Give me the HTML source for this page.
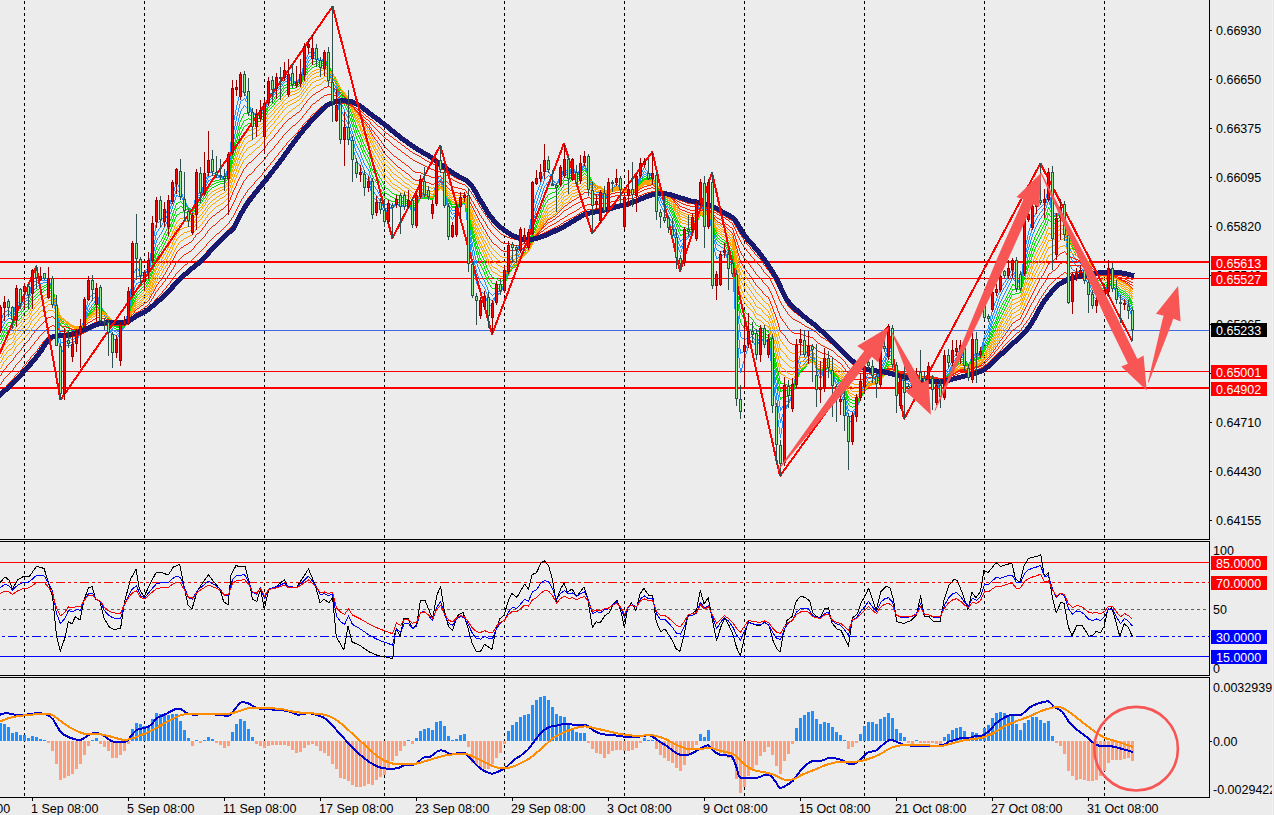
<!DOCTYPE html>
<html><head><meta charset="utf-8"><title>chart</title>
<style>html,body{margin:0;padding:0;background:#ececec;overflow:hidden}svg{display:block}</style></head>
<body><svg width="1274" height="815" viewBox="0 0 1274 815">
<rect width="1274" height="815" fill="#ececec"/>
<g shape-rendering="crispEdges">
<line x1="24.5" y1="0" x2="24.5" y2="797" stroke="#000" stroke-width="1" stroke-dasharray="3 3" stroke-dashoffset="5"/>
<line x1="144.5" y1="0" x2="144.5" y2="797" stroke="#000" stroke-width="1" stroke-dasharray="3 3" stroke-dashoffset="5"/>
<line x1="264.5" y1="0" x2="264.5" y2="797" stroke="#000" stroke-width="1" stroke-dasharray="3 3" stroke-dashoffset="5"/>
<line x1="384.5" y1="0" x2="384.5" y2="797" stroke="#000" stroke-width="1" stroke-dasharray="3 3" stroke-dashoffset="5"/>
<line x1="504.5" y1="0" x2="504.5" y2="797" stroke="#000" stroke-width="1" stroke-dasharray="3 3" stroke-dashoffset="5"/>
<line x1="624.5" y1="0" x2="624.5" y2="797" stroke="#000" stroke-width="1" stroke-dasharray="3 3" stroke-dashoffset="5"/>
<line x1="744.5" y1="0" x2="744.5" y2="797" stroke="#000" stroke-width="1" stroke-dasharray="3 3" stroke-dashoffset="5"/>
<line x1="864.5" y1="0" x2="864.5" y2="797" stroke="#000" stroke-width="1" stroke-dasharray="3 3" stroke-dashoffset="5"/>
<line x1="984.5" y1="0" x2="984.5" y2="797" stroke="#000" stroke-width="1" stroke-dasharray="3 3" stroke-dashoffset="5"/>
<line x1="1104.5" y1="0" x2="1104.5" y2="797" stroke="#000" stroke-width="1" stroke-dasharray="3 3" stroke-dashoffset="5"/>
</g>
<g shape-rendering="crispEdges">
<rect x="0" y="261" width="1209" height="2" fill="#ff0000"/>
<rect x="0" y="278" width="1209" height="1" fill="#ff0000"/>
<rect x="0" y="330" width="1209" height="1" fill="#4169e1"/>
<rect x="0" y="371" width="1209" height="1" fill="#ff0000"/>
<rect x="0" y="387" width="1209" height="2" fill="#ff0000"/>
</g>
<clipPath id="cm"><rect x="0" y="0" width="1209" height="539"/></clipPath>
<g clip-path="url(#cm)">
<g fill="none" stroke-width="1" shape-rendering="crispEdges" transform="translate(.5,0)">
<path d="M0,320v2m1,-4v2m1,-5v3m1,-5v2m1,-4v2m1,-2v1m1,-1v1m1,-2v1m1,-1v1m1,0v1m1,0v2m1,0v1m1,-1v2m1,-6v4m1,-7v3m1,-7v4m1,-6v2m1,-1v1m1,-1v1m1,0v1m1,-2v2m1,-4v2m1,-4v2m1,-4v2m1,-4v2m1,-2v1m1,0v1m1,-1v1m1,-2v2m1,-5v3m1,-7v4m1,-7v3m1,-5v2m1,-2v1m1,-2v1m1,-1v1m1,-2v1m1,-1v1m1,-2v1m1,-1v1m1,-2v1m1,-1v1m1,-1v1m1,-1v1m1,-1v1m1,-1v1m1,-1v1m1,-1v1m1,-1v2m1,0v3m1,0v4m1,0v3m1,0v5m1,0v7m1,0v7m1,0v7m1,0v8m1,0v9m1,0v10m1,0v9m1,0v5m1,-5v3m1,-5v2m1,-5v3m1,-5v2m1,-2v1m1,-1v1m1,-1v1m1,-1v1m1,-1v1m1,-1v1m1,-2v1m1,-1v1m1,-3v2m1,-3v1m1,-3v2m1,-3v1m1,-3v2m1,-3v1m1,-3v2m1,-4v2m1,-6v4m1,-8v4m1,-8v4m1,-9v5m1,-9v4m1,-9v5m1,-9v4m1,-7v3m1,-4v1m1,-2v1m1,-2v1m1,-2v1m1,-2v1m1,-1v1m1,-2v1m1,-2v2m1,0v4m1,0v4m1,0v4m1,0v3m1,0v2m1,0v2m1,0v2m1,0v3m1,0v2m1,0v2m1,0v2m1,0v3m1,0v4m1,0v3m1,0v4m1,0v2m1,-1v1m1,0v1m1,-1v1m1,-1v1m1,-3v2m1,-4v2m1,-4v2m1,-4v2m1,-3v1m1,-3v2m1,-3v1m1,-4v3m1,-7v4m1,-8v4m1,-8v4m1,-11v7m1,-15v8m1,-16v8m1,-16v8m1,-14v6m1,-8v2m1,-4v2m1,-4v2m1,-4v2m1,-1v1m1,0v2m1,0v1m1,0v1m1,-1v1m1,-1v1m1,-1v1m1,-1v1m1,-3v2m1,-3v1m1,-3v2m1,-5v3m1,-9v6m1,-11v5m1,-11v6m1,-11v5m1,-11v6m1,-11v5m1,-11v6m1,-9v3m1,-3v1m1,-1v1m1,-2v1m1,-1v1m1,-3v2m1,-3v1m1,-3v2m1,-3v1m1,-3v2m1,-4v2m1,-4v2m1,-4v2m1,-5v3m1,-7v4m1,-7v3m1,-6v3m1,-6v3m1,-7v4m1,-7v3m1,-5v2m1,-1v2m1,0v2m1,0v2m1,0v3m1,0v2m1,0v3m1,0v2m1,0v3m1,0v3m1,0v2m1,0v3m1,0v2m1,0v1m1,-1v1m1,0v1m1,-3v3m1,-8v5m1,-11v6m1,-11v5m1,-8v3m1,-3v1m1,0v1m1,-1v1m1,-2v2m1,-4v2m1,-5v3m1,-5v2m1,-5v3m1,-6v3m1,-5v2m1,-5v3m1,-5v2m1,-2v1m1,-1v1m1,-1v1m1,-1v1m1,0v1m1,-1v1m1,0v1m1,-1v1m1,-1v1m1,0v1m1,-1v1m1,-1v1m1,0v1m1,-1v1m1,0v1m1,-2v2m1,-5v3m1,-5v2m1,-5v3m1,-9v6m1,-16v10m1,-20v10m1,-20v10m1,-17v7m1,-12v5m1,-10v5m1,-10v5m1,-10v5m1,-9v4m1,-8v4m1,-8v4m1,-7v3m1,-2v1m1,-1v1m1,0v1m1,-1v2m1,0v2m1,0v3m1,0v2m1,0v3m1,0v3m1,0v3m1,0v3m1,0v2m1,-1v1m1,-1v1m1,-1v1m1,-1v1m1,-1v1m1,-2v1m1,-1v1m1,-2v1m1,-2v1m1,-2v1m1,-2v1m1,-3v2m1,-6v4m1,-7v3m1,-7v4m1,-6v2m1,-2v1m1,-2v1m1,-1v1m1,-2v1m1,-3v2m1,-4v2m1,-4v2m1,-3v1m1,-2v1m1,-1v1m1,-2v1m1,-2v1m1,-3v2m1,-3v1m1,-3v2m1,-3v1m1,-1v1m1,-1v1m1,-2v1m1,-1v1m1,0v1m1,0v2m1,0v1m1,0v1m1,-1v1m1,0v1m1,-1v1m1,-1v1m1,-2v1m1,-2v1m1,-2v1m1,-3v2m1,-6v4m1,-8v4m1,-8v4m1,-7v3m1,-5v2m1,-4v2m1,-4v2m1,-4v2m1,-3v1m1,-1v1m1,-2v1m1,-2v1m1,0v1m1,0v2m1,0v1m1,0v1m1,0v2m1,0v2m1,0v2m1,0v1m1,-2v1m1,-3v2m1,-3v1m1,-2v2m1,0v3m1,0v3m1,0v3m1,0v3m1,0v4m1,0v4m1,0v4m1,0v4m1,0v2m1,0v3m1,0v2m1,0v4m1,0v6m1,0v6m1,0v6m1,0v3m1,0v1m1,0v1m1,0v1m1,0v2m1,0v2m1,0v2m1,0v2m1,0v3m1,0v4m1,0v4m1,0v4m1,0v3m1,0v4m1,0v3m1,0v4m1,0v2m1,0v2m1,0v1m1,0v2m1,0v2m1,0v3m1,0v2m1,0v3m1,0v2m1,0v1m1,-1v1m1,0v1m1,-1v3m1,0v4m1,0v5m1,0v4m1,0v3m1,0v1m1,-1v1m1,0v1m1,-1v1m1,0v2m1,0v1m1,0v2m1,0v1m1,0v2m1,0v2m1,0v2m1,0v2m1,-2v1m1,-3v2m1,-3v1m1,-2v1m1,-1v1m1,-1v1m1,-1v1m1,-1v1m1,-2v1m1,-3v2m1,-3v1m1,-2v1m1,0v1m1,-1v1m1,0v1m1,-1v1m1,-1v1m1,0v1m1,-1v1m1,-1v1m1,-2v1m1,-1v1m1,-2v1m1,-2v2m1,0v3m1,0v2m1,0v3m1,0v2m1,-4v2m1,-4v2m1,-4v2m1,-5v3m1,-6v3m1,-7v4m1,-7v3m1,-5v2m1,-2v1m1,0v1m1,-1v1m1,-1v1m1,0v1m1,-1v1m1,0v1m1,-1v1m1,0v1m1,0v2m1,0v1m1,-2v3m1,-8v5m1,-10v5m1,-10v5m1,-8v3m1,-4v1m1,-3v2m1,-3v1m1,-2v2m1,0v4m1,0v4m1,0v4m1,0v4m1,0v6m1,0v6m1,0v6m1,0v3m1,0v2m1,0v1m1,0v2m1,0v1m1,-3v2m1,-4v2m1,-4v2m1,-3v1m1,-3v2m1,-4v2m1,-4v2m1,-3v1m1,-2v1m1,-3v2m1,-3v1m1,-2v4m1,0v8m1,0v8m1,0v8m1,0v8m1,0v8m1,0v8m1,0v8m1,0v7m1,0v4m1,0v5m1,0v4m1,0v4m1,0v2m1,0v2m1,0v2m1,0v2m1,0v1m1,-1v1m1,0v1m1,-1v2m1,0v3m1,0v3m1,0v3m1,0v2m1,-1v1m1,-1v1m1,-2v1m1,-2v2m1,-4v2m1,-5v3m1,-5v2m1,-4v2m1,-2v1m1,-2v1m1,-1v1m1,-3v2m1,-5v3m1,-5v2m1,-5v3m1,-7v4m1,-8v4m1,-9v5m1,-9v4m1,-7v3m1,-5v2m1,-4v2m1,-4v2m1,-3v1m1,-2v1m1,-1v1m1,-2v1m1,-3v2m1,-5v3m1,-6v3m1,-6v3m1,-5v2m1,-3v1m1,-1v1m1,-2v1m1,-2v1m1,-2v1m1,-1v1m1,-2v1m1,-5v4m1,-11v7m1,-13v6m1,-13v7m1,-12v5m1,-9v4m1,-8v4m1,-8v4m1,-7v3m1,-5v2m1,-5v3m1,-5v2m1,-5v3m1,-6v3m1,-6v3m1,-6v3m1,-5v2m1,-2v1m1,-1v1m1,-1v1m1,-1v1m1,0v2m1,0v2m1,0v2m1,0v2m1,0v1m1,0v1m1,0v1m1,0v1m1,-3v2m1,-4v2m1,-4v2m1,-4v2m1,-4v2m1,-4v2m1,-4v2m1,-4v2m1,-1v2m1,0v1m1,0v2m1,0v1m1,-3v2m1,-4v2m1,-4v2m1,-3v1m1,0v2m1,0v2m1,0v2m1,0v2m1,-2v1m1,-3v2m1,-3v1m1,-2v1m1,-3v2m1,-3v1m1,-3v2m1,-3v2m1,0v3m1,0v4m1,0v3m1,0v3m1,0v4m1,0v4m1,0v4m1,0v2m1,0v1m1,0v2m1,0v1m1,0v1m1,-1v1m1,-2v1m1,-1v1m1,-2v1m1,0v2m1,0v2m1,0v2m1,0v2m1,-4v2m1,-5v3m1,-5v2m1,-4v2m1,-3v1m1,-2v1m1,-2v1m1,-2v1m1,-2v1m1,-3v2m1,-3v1m1,-2v1m1,0v1m1,0v1m1,-1v1m1,0v1m1,0v2m1,0v1m1,0v2m1,0v1m1,-1v1m1,-2v1m1,-1v1m1,-2v1m1,0v1m1,0v1m1,-1v1m1,0v1m1,-3v2m1,-4v2m1,-4v2m1,-5v3m1,-6v3m1,-5v2m1,-5v3m1,-5v2m1,-4v2m1,-4v2m1,-4v2m1,-3v1m1,0v2m1,0v1m1,0v2m1,0v1m1,-1v1m1,-1v1m1,-1v1m1,-1v3m1,0v5m1,0v4m1,0v5m1,0v4m1,0v3m1,0v4m1,0v3m1,0v2m1,0v2m1,0v2m1,0v2m1,0v2m1,0v2m1,0v2m1,0v2m1,0v2m1,0v2m1,0v2m1,0v2m1,0v2m1,0v4m1,0v4m1,0v4m1,0v3m1,0v2m1,0v3m1,0v2m1,0v2m1,-5v3m1,-6v3m1,-6v3m1,-5v2m1,-3v1m1,-2v1m1,-2v1m1,-3v2m1,-4v2m1,-5v3m1,-5v2m1,-5v3m1,-6v3m1,-6v3m1,-6v3m1,-7v4m1,-8v4m1,-8v4m1,-8v4m1,-7v3m1,-1v4m1,0v4m1,0v4m1,0v2m1,-6v4m1,-8v4m1,-8v4m1,-7v6m1,0v11m1,0v12m1,0v11m1,0v7m1,0v4m1,0v4m1,0v4m1,0v3m1,-1v1m1,-2v1m1,-1v1m1,-2v1m1,-2v1m1,-1v1m1,-2v1m1,-2v1m1,0v2m1,0v2m1,0v2m1,0v2m1,0v2m1,0v1m1,0v2m1,0v9m1,0v16m1,0v17m1,0v16m1,0v13m1,0v10m1,0v10m1,0v10m1,0v5m1,-5v3m1,-7v4m1,-7v3m1,-6v3m1,-7v4m1,-7v3m1,-7v4m1,-6v2m1,-3v1m1,-3v2m1,-3v1m1,-2v1m1,0v2m1,0v2m1,0v2m1,-1v2m1,-4v2m1,-4v2m1,-4v2m1,-4v2m1,-1v1m1,0v1m1,-1v1m1,0v1m1,-1v1m1,-1v1m1,-2v1m1,-1v5m1,0v8m1,0v8m1,0v8m1,0v9m1,0v9m1,0v9m1,0v9m1,0v8m1,0v7m1,0v7m1,0v7m1,0v4m1,-10v6m1,-13v7m1,-13v6m1,-10v4m1,-6v2m1,-4v2m1,-4v2m1,-5v3m1,-5v2m1,-4v2m1,-4v2m1,-7v5m1,-11v6m1,-12v6m1,-12v6m1,-11v5m1,-9v4m1,-8v4m1,-8v4m1,-6v2m1,-2v1m1,-1v1m1,-1v1m1,-1v1m1,-2v1m1,-2v1m1,-2v1m1,-2v1m1,-1v1m1,-1v1m1,-1v1m1,-1v3m1,0v5m1,0v5m1,0v5m1,0v4m1,0v2m1,0v2m1,0v2m1,0v2m1,-4v2m1,-5v3m1,-5v2m1,-4v2m1,-2v1m1,-1v1m1,-2v1m1,-1v2m1,0v2m1,0v2m1,0v2m1,0v2m1,0v2m1,0v2m1,0v2m1,0v2m1,0v2m1,0v2m1,0v2m1,0v2m1,0v3m1,0v3m1,0v3m1,0v4m1,0v5m1,0v4m1,0v5m1,0v3m1,-2v1m1,-2v1m1,-2v1m1,-3v2m1,-5v3m1,-5v2m1,-5v3m1,-6v3m1,-7v4m1,-7v3m1,-7v4m1,-7v3m1,-7v4m1,-7v3m1,-7v4m1,-6v2m1,-4v2m1,-4v2m1,-4v2m1,-3v1m1,0v1m1,-1v1m1,0v1m1,-1v1m1,0v1m1,0v1m1,0v1m1,-1v2m1,-6v4m1,-8v4m1,-8v4m1,-6v2m1,-4v2m1,-4v2m1,-4v2m1,-4v2m1,-6v4m1,-8v4m1,-8v4m1,-6v2m1,0v3m1,0v2m1,0v3m1,0v4m1,0v6m1,0v5m1,0v6m1,0v3m1,-1v1m1,0v1m1,-1v1m1,-1v1m1,0v2m1,0v2m1,0v2m1,0v2m1,0v1m1,0v1m1,-1v1m1,0v1m1,-2v1m1,-2v1m1,-2v1m1,-2v1m1,-2v1m1,-2v1m1,-2v1m1,-2v1m1,-1v1m1,0v1m1,-1v1m1,-1v1m1,0v1m1,-1v1m1,0v1m1,-1v1m1,-3v2m1,-4v2m1,-4v2m1,-4v2m1,-1v2m1,0v2m1,0v2m1,0v2m1,0v1m1,-1v1m1,0v1m1,-1v1m1,0v2m1,0v1m1,0v2m1,-2v3m1,-7v4m1,-8v4m1,-8v4m1,-7v3m1,-4v1m1,-3v2m1,-3v1m1,-3v2m1,-4v2m1,-4v2m1,-4v2m1,-4v2m1,-4v2m1,-3v1m1,-3v2m1,-3v1m1,-2v1m1,-2v1m1,-2v1m1,-2v2m1,0v2m1,0v2m1,0v2m1,0v3m1,0v2m1,0v3m1,0v2m1,0v2m1,-6v4m1,-8v4m1,-8v4m1,-6v2m1,-2v1m1,0v1m1,-1v1m1,-1v1m1,-1v1m1,-2v1m1,-1v1m1,-4v3m1,-7v4m1,-8v4m1,-8v4m1,-7v3m1,-5v2m1,-4v2m1,-4v2m1,-6v4m1,-8v4m1,-9v5m1,-9v4m1,-8v4m1,-6v2m1,-5v3m1,-5v2m1,-5v3m1,-6v3m1,-5v2m1,-5v3m1,-5v2m1,-4v2m1,-3v1m1,-3v2m1,-3v1m1,-3v2m1,-4v2m1,-4v2m1,-3v1m1,-3v2m1,-4v2m1,-4v2m1,-4v2m1,0v3m1,0v2m1,0v3m1,0v2m1,0v1m1,0v2m1,0v1m1,-3v4m1,-12v8m1,-16v8m1,-16v8m1,-15v7m1,-12v5m1,-9v4m1,-9v5m1,-9v4m1,-7v3m1,-7v4m1,-7v3m1,-5v2m1,-4v2m1,-4v2m1,-4v2m1,-4v2m1,-3v1m1,-2v1m1,-2v1m1,-2v1m1,-2v1m1,-2v1m1,-2v1m1,-3v2m1,-6v4m1,-8v4m1,-8v4m1,-7v4m1,0v6m1,0v7m1,0v6m1,0v4m1,0v1m1,0v1m1,-1v1m1,0v1m1,-2v1m1,-3v2m1,-3v1m1,-2v2m1,0v3m1,0v3m1,0v3m1,0v6m1,0v10m1,0v10m1,0v10m1,0v6m1,0v2m1,0v1m1,0v2m1,0v1m1,0v1m1,-1v1m1,0v1m1,-1v1m1,-1v1m1,-1v1m1,-2v1m1,-1v1m1,0v2m1,0v1m1,0v2m1,0v2m1,0v2m1,0v2m1,0v2m1,0v3m1,0v3m1,0v2m1,0v3m1,0v2m1,0v1m1,-1v1m1,0v1m1,-1v1m1,-1v1m1,-2v1m1,-1v1m1,-2v1m1,-2v1m1,-1v1m1,-2v1m1,-3v2m1,-5v3m1,-6v3m1,-6v3m1,-5v2m1,-1v1m1,0v1m1,0v1m1,0v1m1,0v2m1,0v2m1,0v2m1,0v2m1,0v1m1,0v2m1,0v1m1,0v1m1,0v1m1,-1v1m1,0v1m1,-1v1m1,0v2m1,0v1m1,0v2m1,0v2m1,0v3m1,0v3m1,0v3m1,0v2" stroke="#1e90ff"/>
<path d="M0,325v2m1,-4v2m1,-4v2m1,-4v2m1,-4v2m1,-3v1m1,-2v1m1,-2v1m1,-2v1m1,0v1m1,0v1m1,-1v1m1,-1v2m1,-5v3m1,-5v2m1,-5v3m1,-5v2m1,-2v1m1,-1v1m1,-1v1m1,-1v1m1,-3v2m1,-4v2m1,-4v2m1,-3v1m1,-1v1m1,-1v1m1,-2v1m1,-2v2m1,-5v3m1,-5v2m1,-5v3m1,-5v2m1,-3v1m1,-1v1m1,-2v1m1,-2v1m1,-2v1m1,-1v1m1,-2v1m1,-2v1m1,-1v1m1,-1v1m1,-1v1m1,-1v1m1,-1v1m1,-1v1m1,-2v1m1,-1v2m1,0v2m1,0v3m1,0v2m1,0v4m1,0v6m1,0v5m1,0v6m1,0v6m1,0v8m1,0v8m1,0v8m1,0v5m1,-2v1m1,-1v1m1,-2v1m1,-2v1m1,-1v1m1,0v1m1,-1v1m1,-1v1m1,-1v1m1,0v1m1,-1v1m1,-1v1m1,-2v1m1,-1v1m1,-2v1m1,-2v1m1,-2v1m1,-3v2m1,-3v1m1,-3v2m1,-6v4m1,-7v3m1,-7v4m1,-7v3m1,-7v4m1,-8v4m1,-8v4m1,-6v2m1,-4v2m1,-3v1m1,-3v2m1,-3v1m1,-2v1m1,-2v1m1,-2v1m1,-2v2m1,0v2m1,0v3m1,0v2m1,0v2m1,0v2m1,0v2m1,0v2m1,0v1m1,0v2m1,0v2m1,0v2m1,0v3m1,0v3m1,0v4m1,0v3m1,0v2m1,0v1m1,-1v1m1,0v1m1,-1v1m1,-2v1m1,-2v1m1,-2v1m1,-2v1m1,-2v1m1,-2v1m1,-2v1m1,-3v2m1,-6v4m1,-7v3m1,-7v4m1,-9v5m1,-12v7m1,-13v6m1,-13v7m1,-12v5m1,-7v2m1,-5v3m1,-5v2m1,-4v2m1,-2v1m1,-1v1m1,-1v1m1,-1v1m1,-1v1m1,-2v1m1,-1v1m1,-2v1m1,-2v1m1,-3v2m1,-3v1m1,-4v3m1,-7v4m1,-9v5m1,-9v4m1,-9v5m1,-10v5m1,-9v4m1,-9v5m1,-8v3m1,-4v1m1,-3v2m1,-3v1m1,-2v1m1,-3v2m1,-4v2m1,-4v2m1,-3v1m1,-3v2m1,-4v2m1,-4v2m1,-4v2m1,-5v3m1,-6v3m1,-6v3m1,-6v3m1,-6v3m1,-6v3m1,-6v3m1,-5v2m1,-1v1m1,0v1m1,-1v1m1,0v1m1,0v2m1,0v2m1,0v2m1,0v2m1,0v2m1,0v2m1,0v2m1,0v2m1,0v1m1,-1v1m1,0v1m1,-2v2m1,-6v4m1,-8v4m1,-8v4m1,-6v2m1,-2v1m1,-1v1m1,-1v1m1,-2v2m1,-4v2m1,-4v2m1,-4v2m1,-5v3m1,-5v2m1,-5v3m1,-5v2m1,-4v2m1,-2v1m1,-1v1m1,-2v1m1,-1v1m1,-1v1m1,-1v1m1,-1v1m1,-1v1m1,-1v1m1,0v1m1,-1v1m1,-1v1m1,-1v1m1,0v1m1,-1v1m1,-2v2m1,-4v2m1,-4v2m1,-4v2m1,-7v5m1,-13v8m1,-16v8m1,-16v8m1,-14v6m1,-11v5m1,-9v4m1,-9v5m1,-10v5m1,-9v4m1,-8v4m1,-8v4m1,-7v3m1,-4v1m1,-1v1m1,-2v1m1,-2v1m1,0v2m1,0v1m1,0v2m1,0v1m1,0v2m1,0v2m1,0v2m1,0v2m1,-1v1m1,0v1m1,-1v1m1,-1v1m1,-1v1m1,-1v1m1,-2v1m1,-1v1m1,-2v1m1,-2v1m1,-2v1m1,-3v2m1,-4v2m1,-5v3m1,-5v2m1,-4v2m1,-3v1m1,-1v1m1,-2v1m1,-2v1m1,-3v2m1,-4v2m1,-4v2m1,-3v1m1,-2v1m1,-1v1m1,-2v1m1,-2v1m1,-3v2m1,-3v1m1,-3v2m1,-3v1m1,-1v1m1,-2v1m1,-1v1m1,-2v1m1,0v1m1,0v1m1,-1v1m1,0v1m1,-1v1m1,0v1m1,-1v1m1,-1v1m1,-2v1m1,-1v1m1,-2v1m1,-3v2m1,-5v3m1,-6v3m1,-6v3m1,-6v3m1,-5v2m1,-4v2m1,-4v2m1,-4v2m1,-3v1m1,-1v1m1,-2v1m1,-2v1m1,0v1m1,-1v1m1,0v1m1,-1v1m1,0v1m1,0v2m1,0v1m1,0v1m1,-2v1m1,-2v1m1,-2v1m1,-2v2m1,0v2m1,0v2m1,0v2m1,0v3m1,0v4m1,0v3m1,0v4m1,0v3m1,0v2m1,0v2m1,0v2m1,0v4m1,0v5m1,0v5m1,0v5m1,0v3m1,0v2m1,0v2m1,0v2m1,0v2m1,0v2m1,0v2m1,0v2m1,0v3m1,0v4m1,0v3m1,0v4m1,0v3m1,0v3m1,0v4m1,0v3m1,0v2m1,0v2m1,0v2m1,0v2m1,0v3m1,0v3m1,0v2m1,0v3m1,0v2m1,0v1m1,0v1m1,0v1m1,0v2m1,0v4m1,0v4m1,0v4m1,0v2m1,0v1m1,0v2m1,0v1m1,0v1m1,0v2m1,0v1m1,0v2m1,0v1m1,0v2m1,0v2m1,0v2m1,0v2m1,-1v1m1,-2v1m1,-1v1m1,-2v1m1,-1v1m1,-1v1m1,-1v1m1,-1v1m1,-2v1m1,-1v1m1,-2v1m1,-2v1m1,-1v1m1,0v1m1,-1v1m1,-1v1m1,-1v1m1,0v1m1,-1v1m1,-1v1m1,-1v1m1,-2v1m1,-1v1m1,-2v1m1,0v2m1,0v2m1,0v2m1,0v2m1,-3v2m1,-4v2m1,-4v2m1,-4v2m1,-4v2m1,-5v3m1,-5v2m1,-4v2m1,-2v1m1,-1v1m1,-1v1m1,-1v1m1,-1v1m1,0v1m1,-1v1m1,-1v1m1,0v1m1,0v1m1,-1v1m1,-1v2m1,-6v4m1,-8v4m1,-8v4m1,-6v2m1,-3v1m1,-3v2m1,-3v1m1,-2v2m1,0v2m1,0v3m1,0v2m1,0v4m1,0v4m1,0v5m1,0v4m1,0v3m1,0v2m1,0v2m1,0v2m1,0v1m1,-2v1m1,-1v1m1,-2v1m1,-2v1m1,-3v2m1,-3v1m1,-3v2m1,-3v1m1,-2v1m1,-1v1m1,-2v1m1,-2v3m1,0v6m1,0v6m1,0v6m1,0v7m1,0v7m1,0v6m1,0v7m1,0v6m1,0v4m1,0v5m1,0v4m1,0v4m1,0v3m1,0v2m1,0v3m1,0v2m1,0v1m1,0v2m1,0v1m1,0v2m1,0v3m1,0v2m1,0v3m1,0v2m1,0v1m1,-1v1m1,0v1m1,-1v1m1,-3v2m1,-3v1m1,-3v2m1,-3v1m1,-1v1m1,-1v1m1,-2v1m1,-2v2m1,-4v2m1,-4v2m1,-4v2m1,-5v3m1,-7v4m1,-8v4m1,-8v4m1,-6v2m1,-4v2m1,-4v2m1,-4v2m1,-4v2m1,-3v1m1,-2v1m1,-2v1m1,-3v2m1,-5v3m1,-5v2m1,-5v3m1,-5v2m1,-3v1m1,-2v1m1,-2v1m1,-2v1m1,-2v1m1,-2v1m1,-2v1m1,-4v3m1,-9v6m1,-11v5m1,-11v6m1,-10v4m1,-8v4m1,-7v3m1,-7v4m1,-7v3m1,-6v3m1,-6v3m1,-6v3m1,-6v3m1,-6v3m1,-5v2m1,-5v3m1,-5v2m1,-3v1m1,-2v1m1,-2v1m1,-2v1m1,0v1m1,0v2m1,0v1m1,0v1m1,0v1m1,0v1m1,-1v1m1,0v1m1,-3v2m1,-3v1m1,-3v2m1,-3v1m1,-3v2m1,-4v2m1,-4v2m1,-3v1m1,0v1m1,0v1m1,-1v1m1,0v1m1,-2v1m1,-3v2m1,-3v1m1,-2v1m1,0v2m1,0v1m1,0v2m1,0v1m1,-2v1m1,-2v1m1,-2v1m1,-2v1m1,-2v1m1,-3v2m1,-3v1m1,-2v2m1,0v2m1,0v2m1,0v2m1,0v3m1,0v3m1,0v3m1,0v3m1,0v2m1,0v2m1,0v1m1,0v2m1,0v1m1,-1v1m1,-1v1m1,-1v1m1,-1v1m1,0v2m1,0v2m1,0v2m1,0v1m1,-3v2m1,-3v1m1,-3v2m1,-3v1m1,-2v1m1,-2v1m1,-2v1m1,-2v1m1,-2v1m1,-2v1m1,-2v1m1,-2v1m1,0v1m1,-1v1m1,0v1m1,-1v1m1,0v1m1,0v1m1,0v1m1,0v1m1,-1v1m1,-1v1m1,-2v1m1,-1v1m1,0v1m1,-1v1m1,0v1m1,-1v1m1,-3v2m1,-3v1m1,-3v2m1,-4v2m1,-4v2m1,-4v2m1,-4v2m1,-4v2m1,-4v2m1,-3v1m1,-3v2m1,-3v1m1,0v1m1,0v1m1,-1v1m1,0v1m1,-1v1m1,-1v1m1,-1v1m1,-1v2m1,0v4m1,0v3m1,0v4m1,0v3m1,0v3m1,0v2m1,0v3m1,0v3m1,0v2m1,0v2m1,0v2m1,0v2m1,0v2m1,0v2m1,0v2m1,0v2m1,0v2m1,0v2m1,0v2m1,0v2m1,0v4m1,0v3m1,0v4m1,0v3m1,0v2m1,0v3m1,0v2m1,0v2m1,-3v2m1,-4v2m1,-4v2m1,-3v1m1,-2v1m1,-1v1m1,-2v1m1,-2v1m1,-3v2m1,-4v2m1,-4v2m1,-5v3m1,-5v2m1,-5v3m1,-5v2m1,-5v3m1,-7v4m1,-7v3m1,-7v4m1,-6v2m1,-1v2m1,0v2m1,0v2m1,0v2m1,-5v3m1,-6v3m1,-6v3m1,-5v5m1,0v8m1,0v8m1,0v8m1,0v6m1,0v4m1,0v4m1,0v4m1,0v2m1,0v1m1,-1v1m1,0v1m1,-1v1m1,-1v1m1,-1v1m1,-1v1m1,-1v1m1,0v2m1,0v2m1,0v2m1,0v1m1,0v2m1,0v1m1,0v2m1,0v7m1,0v13m1,0v13m1,0v13m1,0v11m1,0v9m1,0v10m1,0v9m1,0v5m1,-2v1m1,-1v1m1,-2v1m1,-2v1m1,-3v2m1,-4v2m1,-4v2m1,-3v1m1,-2v1m1,-1v1m1,-2v1m1,-2v1m1,0v2m1,0v1m1,0v2m1,0v1m1,-3v2m1,-4v2m1,-4v2m1,-3v1m1,0v1m1,-1v1m1,0v1m1,-1v1m1,-1v1m1,-1v1m1,-2v1m1,-1v4m1,0v6m1,0v6m1,0v6m1,0v7m1,0v8m1,0v8m1,0v8m1,0v7m1,0v6m1,0v7m1,0v6m1,0v4m1,-6v4m1,-7v3m1,-7v4m1,-6v2m1,-3v1m1,-3v2m1,-3v1m1,-2v1m1,-3v2m1,-4v2m1,-4v2m1,-5v3m1,-8v5m1,-10v5m1,-10v5m1,-9v4m1,-8v4m1,-7v3m1,-7v4m1,-6v2m1,-3v1m1,-1v1m1,-2v1m1,-2v1m1,-2v1m1,-3v2m1,-3v1m1,-2v1m1,-1v1m1,-1v1m1,-2v1m1,-1v2m1,0v4m1,0v3m1,0v4m1,0v2m1,0v2m1,0v2m1,0v2m1,0v2m1,-3v2m1,-3v1m1,-3v2m1,-3v1m1,-1v1m1,-1v1m1,-2v1m1,-1v1m1,0v2m1,0v2m1,0v2m1,0v1m1,0v2m1,0v2m1,0v2m1,0v1m1,0v2m1,0v1m1,0v2m1,0v2m1,0v3m1,0v2m1,0v3m1,0v4m1,0v4m1,0v4m1,0v4m1,0v3m1,-1v1m1,-1v1m1,-2v1m1,-1v1m1,-3v2m1,-4v2m1,-4v2m1,-4v2m1,-4v2m1,-5v3m1,-5v2m1,-5v3m1,-6v3m1,-7v4m1,-7v3m1,-5v2m1,-4v2m1,-4v2m1,-4v2m1,-3v1m1,-1v1m1,-1v1m1,-2v1m1,-1v1m1,0v1m1,0v1m1,-1v1m1,-1v2m1,-5v3m1,-6v3m1,-6v3m1,-5v2m1,-4v2m1,-4v2m1,-4v2m1,-4v2m1,-5v3m1,-7v4m1,-7v3m1,-5v2m1,-1v2m1,0v1m1,0v2m1,0v2m1,0v4m1,0v4m1,0v4m1,0v3m1,0v1m1,0v1m1,-1v1m1,0v1m1,0v2m1,0v2m1,0v2m1,0v2m1,0v1m1,0v1m1,-1v1m1,0v1m1,-1v1m1,-2v1m1,-1v1m1,-2v1m1,-2v1m1,-1v1m1,-2v1m1,-2v1m1,-1v1m1,0v1m1,-1v1m1,-1v1m1,-1v1m1,0v1m1,-1v1m1,-1v1m1,-3v2m1,-3v1m1,-3v2m1,-3v1m1,0v2m1,0v1m1,0v2m1,0v1m1,0v1m1,-1v1m1,0v1m1,-1v1m1,0v1m1,0v2m1,0v1m1,-1v2m1,-5v3m1,-7v4m1,-7v3m1,-5v2m1,-3v1m1,-2v1m1,-2v1m1,-2v1m1,-3v2m1,-4v2m1,-4v2m1,-4v2m1,-4v2m1,-3v1m1,-3v2m1,-3v1m1,-2v1m1,-3v2m1,-3v1m1,-2v1m1,0v2m1,0v1m1,0v2m1,0v1m1,0v2m1,0v2m1,0v2m1,0v2m1,-5v3m1,-5v2m1,-5v3m1,-5v2m1,-2v1m1,-1v1m1,-1v1m1,-1v1m1,-1v1m1,-2v1m1,-1v1m1,-3v2m1,-6v4m1,-7v3m1,-7v4m1,-6v2m1,-4v2m1,-4v2m1,-4v2m1,-4v2m1,-6v4m1,-8v4m1,-8v4m1,-8v4m1,-6v2m1,-5v3m1,-5v2m1,-5v3m1,-6v3m1,-6v3m1,-6v3m1,-5v2m1,-4v2m1,-4v2m1,-4v2m1,-3v1m1,-3v2m1,-4v2m1,-4v2m1,-3v1m1,-3v2m1,-4v2m1,-4v2m1,-4v2m1,-1v2m1,0v2m1,0v2m1,0v1m1,0v1m1,0v1m1,0v1m1,-3v4m1,-10v6m1,-12v6m1,-12v6m1,-12v6m1,-10v4m1,-8v4m1,-8v4m1,-8v4m1,-8v4m1,-7v3m1,-7v4m1,-7v3m1,-5v2m1,-4v2m1,-4v2m1,-4v2m1,-4v2m1,-3v1m1,-3v2m1,-3v1m1,-2v1m1,-3v2m1,-3v1m1,-3v2m1,-5v3m1,-7v4m1,-7v3m1,-5v3m1,0v4m1,0v4m1,0v4m1,0v3m1,0v1m1,0v1m1,-1v1m1,0v1m1,-2v1m1,-1v1m1,-2v1m1,-2v2m1,0v2m1,0v2m1,0v2m1,0v5m1,0v8m1,0v8m1,0v8m1,0v6m1,0v2m1,0v2m1,0v2m1,0v2m1,0v1m1,0v1m1,0v1m1,0v1m1,0v1m1,-1v1m1,0v1m1,-1v1m1,0v1m1,0v2m1,0v1m1,0v2m1,0v2m1,0v2m1,0v2m1,0v3m1,0v2m1,0v3m1,0v2m1,0v2m1,0v1m1,0v1m1,-1v1m1,0v1m1,-1v1m1,0v1m1,-1v1m1,-1v1m1,-1v1m1,-2v1m1,-1v1m1,-3v2m1,-4v2m1,-5v3m1,-5v2m1,-4v2m1,-1v1m1,-1v1m1,0v1m1,-1v1m1,0v2m1,0v1m1,0v2m1,0v1m1,0v1m1,0v2m1,0v1m1,0v1m1,0v1m1,0v1m1,-1v1m1,0v1m1,0v1m1,0v1m1,0v1m1,0v2m1,0v3m1,0v2m1,0v3m1,0v2" stroke="#1e90ff"/>
<path d="M0,330v2m1,-4v2m1,-4v2m1,-4v2m1,-4v2m1,-3v1m1,-2v1m1,-2v1m1,-2v1m1,-1v1m1,-1v1m1,-1v1m1,-2v2m1,-4v2m1,-4v2m1,-4v2m1,-4v2m1,-2v1m1,-2v1m1,-1v1m1,-2v1m1,-3v2m1,-3v1m1,-3v2m1,-3v1m1,-1v1m1,-2v1m1,-1v1m1,-3v2m1,-4v2m1,-4v2m1,-4v2m1,-4v2m1,-3v1m1,-1v1m1,-2v1m1,-2v1m1,-2v1m1,-2v1m1,-2v1m1,-2v1m1,-1v1m1,-1v1m1,-2v1m1,-1v1m1,-1v1m1,-1v1m1,-2v1m1,-1v1m1,0v2m1,0v2m1,0v2m1,0v3m1,0v4m1,0v5m1,0v4m1,0v6m1,0v7m1,0v6m1,0v7m1,0v4m1,-1v1m1,-1v1m1,-1v1m1,-1v1m1,0v1m1,0v1m1,0v1m1,0v1m1,0v1m1,-1v1m1,0v1m1,-1v1m1,-1v1m1,-2v1m1,-1v1m1,-2v1m1,-2v1m1,-2v1m1,-2v1m1,-3v2m1,-4v2m1,-5v3m1,-5v2m1,-5v3m1,-6v3m1,-7v4m1,-7v3m1,-5v2m1,-4v2m1,-3v1m1,-3v2m1,-3v1m1,-2v1m1,-3v2m1,-3v1m1,-2v1m1,0v2m1,0v2m1,0v2m1,0v1m1,0v1m1,0v2m1,0v1m1,0v1m1,0v2m1,0v2m1,0v2m1,0v2m1,0v3m1,0v2m1,0v3m1,0v2m1,0v1m1,0v1m1,-1v1m1,0v1m1,-2v1m1,-1v1m1,-2v1m1,-2v1m1,-1v1m1,-2v1m1,-1v1m1,-3v2m1,-5v3m1,-5v2m1,-5v3m1,-7v4m1,-10v6m1,-12v6m1,-12v6m1,-10v4m1,-6v2m1,-5v3m1,-5v2m1,-4v2m1,-2v1m1,-2v1m1,-1v1m1,-2v1m1,-2v1m1,-1v1m1,-2v1m1,-2v1m1,-3v2m1,-3v1m1,-3v2m1,-4v2m1,-6v4m1,-8v4m1,-8v4m1,-8v4m1,-8v4m1,-8v4m1,-8v4m1,-7v3m1,-5v2m1,-3v1m1,-3v2m1,-3v1m1,-3v2m1,-4v2m1,-4v2m1,-4v2m1,-4v2m1,-4v2m1,-4v2m1,-5v3m1,-6v3m1,-5v2m1,-5v3m1,-6v3m1,-6v3m1,-6v3m1,-6v3m1,-5v2m1,-2v1m1,0v1m1,-1v1m1,-1v1m1,0v1m1,0v2m1,0v1m1,0v1m1,0v2m1,0v1m1,0v2m1,0v1m1,0v1m1,-1v1m1,0v1m1,-2v2m1,-5v3m1,-5v2m1,-5v3m1,-5v2m1,-2v1m1,-2v1m1,-1v1m1,-2v1m1,-3v2m1,-4v2m1,-4v2m1,-4v2m1,-4v2m1,-4v2m1,-4v2m1,-4v2m1,-2v1m1,-2v1m1,-1v1m1,-2v1m1,-1v1m1,-1v1m1,-2v1m1,-1v1m1,-1v1m1,-1v1m1,-1v1m1,-1v1m1,-1v1m1,0v1m1,-1v1m1,-1v1m1,-3v2m1,-4v2m1,-4v2m1,-7v5m1,-11v6m1,-12v6m1,-12v6m1,-12v6m1,-10v4m1,-9v5m1,-9v4m1,-8v4m1,-8v4m1,-8v4m1,-8v4m1,-7v3m1,-5v2m1,-3v1m1,-3v2m1,-3v1m1,0v1m1,0v1m1,-1v1m1,0v1m1,0v1m1,0v2m1,0v1m1,0v1m1,-1v1m1,0v1m1,-1v1m1,-1v1m1,-1v1m1,-1v1m1,-2v1m1,-1v1m1,-2v1m1,-1v1m1,-2v1m1,-3v2m1,-4v2m1,-4v2m1,-4v2m1,-4v2m1,-3v1m1,-2v1m1,-2v1m1,-2v1m1,-3v2m1,-3v1m1,-3v2m1,-3v1m1,-2v1m1,-2v1m1,-2v1m1,-2v1m1,-2v1m1,-3v2m1,-3v1m1,-2v1m1,-2v1m1,-1v1m1,-2v1m1,-2v1m1,0v1m1,-1v1m1,0v1m1,-1v1m1,-1v1m1,0v1m1,-1v1m1,-1v1m1,-2v1m1,-1v1m1,-2v1m1,-3v2m1,-4v2m1,-5v3m1,-5v2m1,-4v2m1,-4v2m1,-4v2m1,-4v2m1,-4v2m1,-3v1m1,-2v1m1,-2v1m1,-2v1m1,-1v1m1,0v1m1,-1v1m1,-1v1m1,0v1m1,0v1m1,-1v1m1,0v1m1,-2v1m1,-1v1m1,-2v1m1,-2v1m1,0v2m1,0v2m1,0v2m1,0v2m1,0v3m1,0v2m1,0v3m1,0v3m1,0v2m1,0v2m1,0v2m1,0v4m1,0v4m1,0v4m1,0v4m1,0v3m1,0v2m1,0v2m1,0v2m1,0v3m1,0v2m1,0v2m1,0v2m1,0v3m1,0v3m1,0v4m1,0v3m1,0v3m1,0v3m1,0v4m1,0v3m1,0v2m1,0v2m1,0v2m1,0v2m1,0v3m1,0v3m1,0v2m1,0v3m1,0v2m1,0v1m1,0v2m1,0v1m1,0v2m1,0v4m1,0v3m1,0v4m1,0v2m1,0v2m1,0v1m1,0v2m1,0v1m1,0v2m1,0v2m1,0v2m1,0v1m1,0v2m1,0v2m1,0v2m1,0v2m1,-1v1m1,-1v1m1,-2v1m1,-1v1m1,0v1m1,-1v1m1,0v1m1,-1v1m1,-1v1m1,-2v1m1,-1v1m1,-2v1m1,-1v1m1,0v1m1,-1v1m1,-1v1m1,-1v1m1,0v1m1,-1v1m1,-1v1m1,-1v1m1,-1v1m1,-2v1m1,-1v1m1,0v2m1,0v1m1,0v2m1,0v1m1,-2v1m1,-3v2m1,-3v1m1,-2v1m1,-3v2m1,-4v2m1,-4v2m1,-4v2m1,-2v1m1,-1v1m1,-1v1m1,-1v1m1,-1v1m1,-1v1m1,-1v1m1,-1v1m1,0v1m1,-1v1m1,0v1m1,-2v2m1,-5v3m1,-6v3m1,-6v3m1,-5v2m1,-3v1m1,-3v2m1,-3v1m1,-2v1m1,0v2m1,0v2m1,0v2m1,0v2m1,0v4m1,0v4m1,0v4m1,0v2m1,0v2m1,0v1m1,0v2m1,0v1m1,-1v1m1,-1v1m1,-2v1m1,-1v1m1,-2v1m1,-2v1m1,-2v1m1,-2v1m1,-2v1m1,-1v1m1,-2v1m1,-2v3m1,0v5m1,0v4m1,0v5m1,0v5m1,0v6m1,0v6m1,0v6m1,0v5m1,0v4m1,0v5m1,0v4m1,0v4m1,0v3m1,0v2m1,0v3m1,0v2m1,0v2m1,0v2m1,0v2m1,0v2m1,0v3m1,0v2m1,0v3m1,0v2m1,0v1m1,0v1m1,0v1m1,0v1m1,-2v1m1,-2v1m1,-2v1m1,-2v1m1,-1v1m1,-1v1m1,-1v1m1,-1v1m1,-3v2m1,-3v1m1,-3v2m1,-4v2m1,-5v3m1,-6v3m1,-6v3m1,-5v2m1,-4v2m1,-4v2m1,-4v2m1,-4v2m1,-3v1m1,-3v2m1,-3v1m1,-3v2m1,-4v2m1,-4v2m1,-4v2m1,-4v2m1,-3v1m1,-3v2m1,-3v1m1,-2v1m1,-2v1m1,-2v1m1,-2v1m1,-4v3m1,-8v5m1,-9v4m1,-9v5m1,-9v4m1,-8v4m1,-7v3m1,-7v4m1,-7v3m1,-6v3m1,-5v2m1,-5v3m1,-6v3m1,-6v3m1,-6v3m1,-6v3m1,-5v2m1,-3v1m1,-3v2m1,-3v1m1,-2v1m1,0v1m1,-1v1m1,0v1m1,-1v1m1,-1v1m1,0v1m1,-1v1m1,-1v1m1,-2v1m1,-3v2m1,-3v1m1,-2v1m1,-3v2m1,-3v1m1,-3v2m1,-3v1m1,0v1m1,-1v1m1,0v1m1,-1v1m1,-2v1m1,-3v2m1,-3v1m1,-2v1m1,0v1m1,0v1m1,0v1m1,0v1m1,-2v1m1,-1v1m1,-2v1m1,-2v1m1,-2v1m1,-3v2m1,-3v1m1,-2v1m1,0v2m1,0v2m1,0v2m1,0v2m1,0v2m1,0v3m1,0v2m1,0v2m1,0v2m1,0v1m1,0v2m1,0v1m1,-1v1m1,0v1m1,-1v1m1,-1v1m1,0v2m1,0v1m1,0v2m1,0v1m1,-2v1m1,-2v1m1,-2v1m1,-2v1m1,-2v1m1,-1v1m1,-2v1m1,-2v1m1,-2v1m1,-1v1m1,-2v1m1,-2v1m1,-1v1m1,0v1m1,-1v1m1,-1v1m1,0v1m1,0v1m1,-1v1m1,0v1m1,-1v1m1,-1v1m1,-1v1m1,-1v1m1,-1v1m1,0v1m1,-1v1m1,-1v1m1,-2v1m1,-2v1m1,-2v1m1,-2v1m1,-3v2m1,-4v2m1,-4v2m1,-4v2m1,-3v1m1,-3v2m1,-3v1m1,-2v1m1,-1v1m1,0v1m1,-1v1m1,-1v1m1,-1v1m1,-1v1m1,-1v1m1,-1v2m1,0v3m1,0v2m1,0v3m1,0v3m1,0v2m1,0v3m1,0v2m1,0v2m1,0v2m1,0v2m1,0v2m1,0v1m1,0v2m1,0v2m1,0v2m1,0v2m1,0v2m1,0v2m1,0v2m1,0v3m1,0v3m1,0v3m1,0v3m1,0v3m1,0v2m1,0v3m1,0v2m1,0v2m1,-2v1m1,-2v1m1,-2v1m1,-2v1m1,-1v1m1,-1v1m1,-2v1m1,-1v1m1,-3v2m1,-3v1m1,-3v2m1,-3v1m1,-3v2m1,-4v2m1,-4v2m1,-5v3m1,-6v3m1,-7v4m1,-7v3m1,-5v2m1,-1v2m1,0v1m1,0v2m1,-1v2m1,-4v2m1,-5v3m1,-5v2m1,-4v4m1,0v6m1,0v6m1,0v6m1,0v5m1,0v3m1,0v4m1,0v3m1,0v2m1,0v1m1,0v1m1,-1v1m1,0v1m1,0v1m1,-1v1m1,0v1m1,-1v1m1,0v2m1,0v1m1,0v2m1,0v1m1,0v2m1,0v1m1,0v2m1,0v6m1,0v11m1,0v10m1,0v11m1,0v10m1,0v8m1,0v8m1,0v8m1,0v5m1,0v1m1,0v1m1,-1v1m1,0v1m1,-1v1m1,-2v1m1,-1v1m1,-2v1m1,-1v1m1,-1v1m1,-2v1m1,-1v1m1,0v2m1,0v1m1,0v2m1,0v1m1,-2v1m1,-3v2m1,-3v1m1,-2v1m1,0v1m1,0v1m1,-1v1m1,0v1m1,-1v1m1,-1v1m1,-2v1m1,-1v3m1,0v5m1,0v6m1,0v5m1,0v6m1,0v6m1,0v7m1,0v6m1,0v6m1,0v6m1,0v6m1,0v6m1,0v4m1,-3v2m1,-4v2m1,-4v2m1,-4v2m1,-2v1m1,-2v1m1,-1v1m1,-2v1m1,-2v1m1,-3v2m1,-3v1m1,-3v2m1,-6v4m1,-8v4m1,-8v4m1,-7v3m1,-6v3m1,-7v4m1,-7v3m1,-5v2m1,-3v1m1,-2v1m1,-2v1m1,-2v1m1,-2v1m1,-3v2m1,-3v1m1,-2v1m1,-1v1m1,-2v1m1,-1v1m1,-2v2m1,0v2m1,0v3m1,0v2m1,0v2m1,0v2m1,0v2m1,0v2m1,0v1m1,-2v1m1,-3v2m1,-3v1m1,-2v1m1,-1v1m1,-1v1m1,-1v1m1,-1v1m1,0v2m1,0v1m1,0v2m1,0v1m1,0v1m1,0v2m1,0v1m1,0v1m1,0v2m1,0v2m1,0v2m1,0v2m1,0v2m1,0v2m1,0v2m1,0v3m1,0v4m1,0v4m1,0v4m1,0v2m1,-1v1m1,0v1m1,-1v1m1,-1v1m1,-2v1m1,-2v1m1,-2v1m1,-2v1m1,-3v2m1,-4v2m1,-4v2m1,-5v3m1,-5v2m1,-5v3m1,-5v2m1,-4v2m1,-4v2m1,-4v2m1,-4v2m1,-3v1m1,-1v1m1,-2v1m1,-1v1m1,-2v1m1,-1v1m1,0v1m1,-1v1m1,-2v2m1,-4v2m1,-5v3m1,-5v2m1,-4v2m1,-4v2m1,-4v2m1,-4v2m1,-4v2m1,-5v3m1,-5v2m1,-5v3m1,-5v2m1,-1v1m1,0v1m1,0v1m1,0v2m1,0v3m1,0v3m1,0v3m1,0v2m1,0v1m1,-1v1m1,0v1m1,-1v1m1,0v2m1,0v2m1,0v2m1,0v1m1,0v1m1,0v1m1,-1v1m1,0v1m1,-1v1m1,-1v1m1,-1v1m1,-1v1m1,-1v1m1,-2v1m1,-1v1m1,-2v1m1,-1v1m1,-1v1m1,-1v1m1,-1v1m1,0v1m1,-1v1m1,0v1m1,-1v1m1,-2v1m1,-3v2m1,-3v1m1,-2v1m1,0v1m1,0v2m1,0v1m1,0v1m1,-1v1m1,0v1m1,-1v1m1,-1v1m1,0v1m1,0v2m1,0v1m1,-1v2m1,-4v2m1,-5v3m1,-5v2m1,-4v2m1,-3v1m1,-2v1m1,-2v1m1,-2v1m1,-3v2m1,-4v2m1,-4v2m1,-3v1m1,-3v2m1,-3v1m1,-3v2m1,-3v1m1,-2v1m1,-3v2m1,-3v1m1,-2v1m1,0v1m1,0v1m1,0v1m1,0v1m1,0v2m1,0v1m1,0v2m1,0v1m1,-3v2m1,-4v2m1,-4v2m1,-4v2m1,-2v1m1,-1v1m1,-2v1m1,-1v1m1,-1v1m1,-2v1m1,-1v1m1,-3v2m1,-5v3m1,-5v2m1,-5v3m1,-5v2m1,-4v2m1,-4v2m1,-4v2m1,-4v2m1,-6v4m1,-7v3m1,-7v4m1,-7v3m1,-5v2m1,-5v3m1,-5v2m1,-5v3m1,-6v3m1,-5v2m1,-5v3m1,-5v2m1,-4v2m1,-4v2m1,-4v2m1,-4v2m1,-4v2m1,-4v2m1,-4v2m1,-4v2m1,-4v2m1,-4v2m1,-4v2m1,-3v1m1,0v1m1,0v1m1,-1v1m1,0v1m1,0v1m1,-1v1m1,0v1m1,-3v3m1,-8v5m1,-10v5m1,-10v5m1,-9v4m1,-8v4m1,-8v4m1,-8v4m1,-7v3m1,-6v3m1,-7v4m1,-7v3m1,-6v3m1,-5v2m1,-5v3m1,-5v2m1,-4v2m1,-4v2m1,-4v2m1,-4v2m1,-3v1m1,-3v2m1,-3v1m1,-3v2m1,-4v2m1,-5v3m1,-6v3m1,-6v3m1,-5v2m1,0v3m1,0v3m1,0v3m1,0v2m1,0v1m1,-1v1m1,0v1m1,-1v1m1,-1v1m1,-2v1m1,-1v1m1,-2v1m1,0v2m1,0v2m1,0v2m1,0v4m1,0v6m1,0v7m1,0v6m1,0v5m1,0v2m1,0v2m1,0v2m1,0v2m1,0v2m1,0v1m1,0v2m1,0v1m1,0v1m1,0v1m1,-1v1m1,0v1m1,0v1m1,0v2m1,0v1m1,0v2m1,0v2m1,0v2m1,0v2m1,0v3m1,0v2m1,0v2m1,0v2m1,0v2m1,0v1m1,0v1m1,0v1m1,0v1m1,0v1m1,-1v1m1,0v1m1,-1v1m1,-1v1m1,-1v1m1,-2v1m1,-1v1m1,-3v2m1,-4v2m1,-4v2m1,-3v1m1,-1v1m1,0v1m1,-1v1m1,-1v1m1,0v1m1,0v2m1,0v1m1,0v1m1,0v1m1,0v1m1,0v1m1,0v1m1,0v1m1,0v1m1,-1v1m1,0v1m1,0v1m1,0v1m1,0v1m1,0v2m1,0v2m1,0v2m1,0v2m1,0v2" stroke="#1e90ff"/>
<path d="M0,335v2m1,-4v2m1,-4v2m1,-4v2m1,-4v2m1,-3v1m1,-3v2m1,-3v1m1,-2v1m1,-1v1m1,-1v1m1,-1v1m1,-2v2m1,-4v2m1,-4v2m1,-4v2m1,-4v2m1,-2v1m1,-2v1m1,-1v1m1,-2v1m1,-3v2m1,-3v1m1,-3v2m1,-3v1m1,-2v1m1,-1v1m1,-2v1m1,-2v1m1,-3v2m1,-4v2m1,-4v2m1,-4v2m1,-3v1m1,-2v1m1,-2v1m1,-2v1m1,-2v1m1,-1v1m1,-2v1m1,-2v1m1,-1v1m1,-2v1m1,-1v1m1,-2v1m1,-1v1m1,-2v1m1,-1v1m1,-2v1m1,0v1m1,0v2m1,0v1m1,0v2m1,0v4m1,0v4m1,0v4m1,0v4m1,0v6m1,0v5m1,0v6m1,0v3m1,0v1m1,0v1m1,-1v1m1,0v1m1,0v1m1,0v1m1,0v1m1,0v1m1,0v1m1,0v1m1,-1v1m1,0v1m1,-1v1m1,-1v1m1,-2v1m1,-1v1m1,-1v1m1,-2v1m1,-1v1m1,-2v1m1,-3v2m1,-4v2m1,-4v2m1,-5v3m1,-6v3m1,-5v2m1,-5v3m1,-5v2m1,-4v2m1,-3v1m1,-3v2m1,-3v1m1,-2v1m1,-3v2m1,-3v1m1,-2v1m1,0v1m1,0v2m1,0v1m1,0v1m1,0v1m1,0v1m1,0v1m1,0v1m1,0v2m1,0v1m1,0v2m1,0v2m1,0v2m1,0v2m1,0v2m1,0v2m1,0v1m1,0v1m1,-1v1m1,0v1m1,-1v1m1,-1v1m1,-2v1m1,-1v1m1,-1v1m1,-2v1m1,-1v1m1,-3v2m1,-4v2m1,-4v2m1,-4v2m1,-6v4m1,-8v4m1,-9v5m1,-9v4m1,-8v4m1,-6v2m1,-5v3m1,-5v2m1,-4v2m1,-3v1m1,-1v1m1,-2v1m1,-2v1m1,-2v1m1,-2v1m1,-2v1m1,-2v1m1,-2v1m1,-3v2m1,-3v1m1,-3v2m1,-6v4m1,-7v3m1,-7v4m1,-7v3m1,-7v4m1,-8v4m1,-8v4m1,-7v3m1,-5v2m1,-3v1m1,-3v2m1,-3v1m1,-3v2m1,-4v2m1,-4v2m1,-4v2m1,-4v2m1,-4v2m1,-4v2m1,-5v3m1,-6v3m1,-5v2m1,-5v3m1,-6v3m1,-6v3m1,-5v2m1,-5v3m1,-5v2m1,-2v1m1,-2v1m1,-1v1m1,-2v1m1,0v1m1,0v1m1,-1v1m1,0v1m1,0v1m1,0v1m1,0v1m1,0v1m1,0v1m1,-1v1m1,0v1m1,-2v2m1,-4v2m1,-5v3m1,-5v2m1,-4v2m1,-2v1m1,-2v1m1,-1v1m1,-2v1m1,-3v2m1,-3v1m1,-3v2m1,-3v1m1,-3v2m1,-4v2m1,-4v2m1,-4v2m1,-3v1m1,-1v1m1,-2v1m1,-2v1m1,-1v1m1,-1v1m1,-2v1m1,-1v1m1,-1v1m1,-1v1m1,-2v1m1,-1v1m1,-1v1m1,-1v1m1,-1v1m1,-1v1m1,-3v2m1,-3v1m1,-3v2m1,-5v3m1,-8v5m1,-11v6m1,-11v5m1,-10v5m1,-9v4m1,-8v4m1,-8v4m1,-8v4m1,-8v4m1,-8v4m1,-8v4m1,-6v2m1,-4v2m1,-4v2m1,-4v2m1,-3v1m1,-1v1m1,-1v1m1,-1v1m1,-1v1m1,0v1m1,0v1m1,0v1m1,0v1m1,-1v1m1,-1v1m1,-2v1m1,-1v1m1,-1v1m1,-2v1m1,-1v1m1,-2v1m1,-1v1m1,-2v1m1,-1v1m1,-2v1m1,-3v2m1,-4v2m1,-4v2m1,-4v2m1,-3v1m1,-2v1m1,-2v1m1,-2v1m1,-2v1m1,-3v2m1,-3v1m1,-2v1m1,-2v1m1,-2v1m1,-2v1m1,-2v1m1,-3v2m1,-3v1m1,-3v2m1,-3v1m1,-1v1m1,-2v1m1,-1v1m1,-2v1m1,-1v1m1,-1v1m1,-1v1m1,-1v1m1,-1v1m1,-1v1m1,-1v1m1,-1v1m1,-1v1m1,-2v1m1,-1v1m1,-3v2m1,-4v2m1,-4v2m1,-4v2m1,-4v2m1,-4v2m1,-4v2m1,-4v2m1,-3v1m1,-2v1m1,-2v1m1,-2v1m1,-2v1m1,-1v1m1,-1v1m1,-1v1m1,-1v1m1,-1v1m1,0v1m1,-1v1m1,-1v1m1,-1v1m1,-2v1m1,-1v1m1,-2v1m1,0v1m1,0v2m1,0v1m1,0v2m1,0v2m1,0v2m1,0v2m1,0v2m1,0v2m1,0v2m1,0v2m1,0v3m1,0v4m1,0v3m1,0v4m1,0v2m1,0v2m1,0v2m1,0v2m1,0v3m1,0v2m1,0v2m1,0v2m1,0v3m1,0v3m1,0v3m1,0v3m1,0v3m1,0v3m1,0v3m1,0v3m1,0v3m1,0v2m1,0v2m1,0v2m1,0v3m1,0v2m1,0v3m1,0v2m1,0v2m1,0v2m1,0v2m1,0v2m1,0v2m1,0v3m1,0v4m1,0v3m1,0v2m1,0v2m1,0v1m1,0v2m1,0v1m1,0v2m1,0v2m1,0v2m1,0v1m1,0v2m1,0v2m1,0v2m1,0v2m1,0v1m1,-1v1m1,0v1m1,-1v1m1,0v1m1,-1v1m1,0v1m1,-1v1m1,-1v1m1,-1v1m1,-1v1m1,-1v1m1,-1v1m1,0v1m1,-1v1m1,-1v1m1,-1v1m1,0v1m1,-1v1m1,-1v1m1,-1v1m1,-1v1m1,-1v1m1,-1v1m1,0v1m1,0v2m1,0v1m1,0v1m1,-2v1m1,-1v1m1,-2v1m1,-2v1m1,-3v2m1,-4v2m1,-4v2m1,-3v1m1,-1v1m1,-1v1m1,-1v1m1,-1v1m1,-1v1m1,-1v1m1,-2v1m1,-1v1m1,0v1m1,-1v1m1,0v1m1,-2v2m1,-4v2m1,-5v3m1,-5v2m1,-4v2m1,-3v1m1,-3v2m1,-3v1m1,-2v1m1,0v2m1,0v1m1,0v2m1,0v2m1,0v3m1,0v2m1,0v3m1,0v2m1,0v2m1,0v1m1,0v2m1,0v1m1,-1v1m1,-1v1m1,-1v1m1,-1v1m1,-2v1m1,-1v1m1,-2v1m1,-2v1m1,-1v1m1,-2v1m1,-1v1m1,-2v2m1,0v4m1,0v4m1,0v4m1,0v5m1,0v5m1,0v4m1,0v5m1,0v4m1,0v4m1,0v4m1,0v4m1,0v4m1,0v3m1,0v3m1,0v3m1,0v2m1,0v2m1,0v2m1,0v2m1,0v3m1,0v2m1,0v3m1,0v2m1,0v2m1,0v1m1,0v2m1,0v1m1,0v1m1,-1v1m1,-1v1m1,-2v1m1,-1v1m1,-1v1m1,0v1m1,-1v1m1,-1v1m1,-2v1m1,-2v1m1,-2v1m1,-3v2m1,-4v2m1,-5v3m1,-5v2m1,-4v2m1,-4v2m1,-3v1m1,-3v2m1,-3v1m1,-2v1m1,-3v2m1,-3v1m1,-2v1m1,-3v2m1,-4v2m1,-4v2m1,-4v2m1,-3v1m1,-3v2m1,-3v1m1,-2v1m1,-2v1m1,-3v2m1,-3v1m1,-3v2m1,-6v4m1,-8v4m1,-8v4m1,-8v4m1,-7v3m1,-6v3m1,-6v3m1,-6v3m1,-6v3m1,-6v3m1,-6v3m1,-6v3m1,-6v3m1,-5v2m1,-5v3m1,-5v2m1,-4v2m1,-3v1m1,-3v2m1,-3v1m1,-1v1m1,-1v1m1,-1v1m1,-1v1m1,-1v1m1,-1v1m1,-1v1m1,-1v1m1,-2v1m1,-3v2m1,-3v1m1,-2v1m1,-3v2m1,-3v1m1,-3v2m1,-3v1m1,-1v1m1,-1v1m1,-1v1m1,-1v1m1,-2v1m1,-2v1m1,-2v1m1,-2v1m1,0v1m1,-1v1m1,0v1m1,-1v1m1,-2v1m1,-1v1m1,-2v1m1,-2v1m1,-2v1m1,-2v1m1,-2v1m1,-2v1m1,0v2m1,0v1m1,0v2m1,0v1m1,0v2m1,0v2m1,0v2m1,0v2m1,0v1m1,0v1m1,0v1m1,0v1m1,0v1m1,-1v1m1,0v1m1,-1v1m1,0v2m1,0v1m1,0v2m1,0v1m1,-2v1m1,-1v1m1,-2v1m1,-2v1m1,-1v1m1,-2v1m1,-1v1m1,-2v1m1,-2v1m1,-1v1m1,-2v1m1,-2v1m1,-1v1m1,0v1m1,-1v1m1,-1v1m1,0v1m1,0v1m1,-1v1m1,0v1m1,-1v1m1,-1v1m1,-2v1m1,-1v1m1,0v1m1,-1v1m1,0v1m1,-1v1m1,-2v1m1,-2v1m1,-2v1m1,-2v1m1,-3v2m1,-3v1m1,-3v2m1,-3v1m1,-2v1m1,-3v2m1,-3v1m1,-2v1m1,-1v1m1,0v1m1,-1v1m1,-1v1m1,-1v1m1,-1v1m1,-2v1m1,-1v2m1,0v2m1,0v2m1,0v2m1,0v2m1,0v2m1,0v2m1,0v2m1,0v2m1,0v2m1,0v2m1,0v2m1,0v1m1,0v2m1,0v2m1,0v2m1,0v1m1,0v2m1,0v2m1,0v2m1,0v2m1,0v3m1,0v2m1,0v3m1,0v3m1,0v2m1,0v3m1,0v2m1,0v2m1,-1v1m1,-2v1m1,-1v1m1,-2v1m1,-1v1m1,-1v1m1,-1v1m1,-1v1m1,-2v1m1,-2v1m1,-2v1m1,-2v1m1,-3v2m1,-3v1m1,-3v2m1,-4v2m1,-5v3m1,-5v2m1,-5v3m1,-5v2m1,-1v1m1,0v1m1,0v1m1,0v1m1,-3v2m1,-4v2m1,-4v2m1,-4v3m1,0v5m1,0v4m1,0v5m1,0v4m1,0v3m1,0v3m1,0v3m1,0v2m1,0v1m1,0v1m1,0v1m1,0v1m1,-1v1m1,0v1m1,-1v1m1,-1v1m1,0v2m1,0v2m1,0v2m1,0v1m1,0v1m1,0v2m1,0v1m1,0v5m1,0v9m1,0v9m1,0v9m1,0v8m1,0v8m1,0v7m1,0v8m1,0v4m1,0v2m1,0v1m1,0v2m1,0v1m1,-1v1m1,-1v1m1,-1v1m1,-1v1m1,0v1m1,-1v1m1,0v1m1,-1v1m1,0v2m1,0v1m1,0v2m1,0v1m1,-1v1m1,-2v1m1,-1v1m1,-2v1m1,0v1m1,0v1m1,-1v1m1,0v1m1,-1v1m1,-1v1m1,-1v1m1,-1v3m1,0v4m1,0v4m1,0v4m1,0v5m1,0v6m1,0v6m1,0v6m1,0v5m1,0v6m1,0v5m1,0v6m1,0v3m1,-2v1m1,-2v1m1,-2v1m1,-2v1m1,-1v1m1,0v1m1,-1v1m1,-1v1m1,-2v1m1,-1v1m1,-2v1m1,-3v2m1,-5v3m1,-6v3m1,-6v3m1,-6v3m1,-6v3m1,-5v2m1,-5v3m1,-5v2m1,-3v1m1,-2v1m1,-2v1m1,-2v1m1,-2v1m1,-3v2m1,-3v1m1,-2v1m1,-2v1m1,-1v1m1,-2v1m1,-2v1m1,0v2m1,0v2m1,0v2m1,0v2m1,0v2m1,0v1m1,0v2m1,0v1m1,-2v1m1,-2v1m1,-2v1m1,-2v1m1,-1v1m1,-1v1m1,-1v1m1,-1v1m1,0v1m1,0v2m1,0v1m1,0v1m1,0v1m1,0v2m1,0v1m1,0v1m1,0v1m1,0v2m1,0v1m1,0v1m1,0v2m1,0v2m1,0v2m1,0v3m1,0v3m1,0v4m1,0v3m1,0v2m1,0v1m1,0v1m1,-1v1m1,0v1m1,-2v1m1,-1v1m1,-2v1m1,-2v1m1,-3v2m1,-3v1m1,-3v2m1,-3v1m1,-3v2m1,-4v2m1,-4v2m1,-4v2m1,-4v2m1,-3v1m1,-3v2m1,-3v1m1,-1v1m1,-2v1m1,-1v1m1,-2v1m1,-1v1m1,0v1m1,-1v1m1,-2v2m1,-4v2m1,-4v2m1,-4v2m1,-4v2m1,-4v2m1,-3v1m1,-3v2m1,-4v2m1,-4v2m1,-5v3m1,-5v2m1,-4v2m1,-2v1m1,0v1m1,-1v1m1,-1v2m1,0v2m1,0v3m1,0v2m1,0v2m1,0v1m1,-1v1m1,0v1m1,-1v1m1,0v1m1,0v2m1,0v1m1,0v1m1,0v1m1,0v1m1,-1v1m1,0v1m1,-1v1m1,0v1m1,-1v1m1,-1v1m1,-1v1m1,-2v1m1,-1v1m1,-2v1m1,-1v1m1,0v1m1,-1v1m1,-1v1m1,-1v1m1,0v1m1,-1v1m1,-1v1m1,-2v1m1,-1v1m1,-2v1m1,-2v1m1,0v1m1,0v1m1,-1v1m1,0v1m1,-1v1m1,0v1m1,-1v1m1,-1v1m1,0v1m1,0v1m1,0v1m1,0v1m1,-3v2m1,-4v2m1,-4v2m1,-3v1m1,-2v1m1,-2v1m1,-2v1m1,-2v1m1,-3v2m1,-3v1m1,-3v2m1,-3v1m1,-2v1m1,-3v2m1,-3v1m1,-2v1m1,-2v1m1,-3v2m1,-3v1m1,-2v1m1,0v1m1,-1v1m1,0v1m1,-1v1m1,0v1m1,0v2m1,0v1m1,0v1m1,-3v2m1,-4v2m1,-4v2m1,-3v1m1,-1v1m1,-1v1m1,-2v1m1,-1v1m1,-1v1m1,-1v1m1,-2v1m1,-2v2m1,-4v2m1,-5v3m1,-5v2m1,-4v2m1,-4v2m1,-4v2m1,-4v2m1,-4v2m1,-5v3m1,-6v3m1,-6v3m1,-6v3m1,-5v2m1,-4v2m1,-4v2m1,-5v3m1,-6v3m1,-5v2m1,-5v3m1,-5v2m1,-4v2m1,-4v2m1,-4v2m1,-3v1m1,-3v2m1,-4v2m1,-4v2m1,-4v2m1,-4v2m1,-4v2m1,-4v2m1,-4v2m1,-2v1m1,0v1m1,-1v1m1,-1v1m1,-1v1m1,0v1m1,-1v1m1,-3v3m1,-7v4m1,-8v4m1,-8v4m1,-8v4m1,-8v4m1,-7v3m1,-7v4m1,-7v3m1,-6v3m1,-6v3m1,-6v3m1,-6v3m1,-5v2m1,-5v3m1,-5v2m1,-4v2m1,-4v2m1,-4v2m1,-4v2m1,-4v2m1,-4v2m1,-3v1m1,-3v2m1,-4v2m1,-5v3m1,-6v3m1,-6v3m1,-5v2m1,-1v2m1,0v2m1,0v2m1,0v2m1,-1v1m1,0v1m1,-1v1m1,-1v1m1,-1v1m1,-2v1m1,-1v1m1,-2v1m1,0v1m1,0v2m1,0v1m1,0v3m1,0v5m1,0v6m1,0v5m1,0v3m1,0v2m1,0v2m1,0v2m1,0v2m1,0v2m1,0v2m1,0v2m1,0v1m1,0v1m1,0v1m1,-1v1m1,0v1m1,0v2m1,0v1m1,0v2m1,0v1m1,0v2m1,0v2m1,0v2m1,0v2m1,0v2m1,0v2m1,0v2m1,0v2m1,0v1m1,0v2m1,0v1m1,0v1m1,0v1m1,0v1m1,-1v1m1,0v1m1,-1v1m1,-1v1m1,-1v1m1,-1v1m1,-2v1m1,-3v2m1,-3v1m1,-2v1m1,0v1m1,-1v1m1,0v1m1,-1v1m1,0v1m1,0v1m1,0v1m1,0v1m1,0v1m1,0v1m1,-1v1m1,0v1m1,0v1m1,0v1m1,-1v1m1,0v1m1,0v1m1,0v1m1,0v1m1,0v1m1,0v2m1,0v2m1,0v2m1,0v2" stroke="#00e000"/>
<path d="M0,339v1m1,-3v2m1,-4v2m1,-4v2m1,-4v2m1,-3v1m1,-3v2m1,-3v1m1,-2v1m1,-1v1m1,-1v1m1,-2v1m1,-1v1m1,-3v2m1,-4v2m1,-4v2m1,-4v2m1,-3v1m1,-1v1m1,-2v1m1,-2v1m1,-3v2m1,-3v1m1,-3v2m1,-3v1m1,-2v1m1,-1v1m1,-2v1m1,-2v1m1,-3v2m1,-4v2m1,-4v2m1,-3v1m1,-2v1m1,-2v1m1,-2v1m1,-2v1m1,-2v1m1,-2v1m1,-2v1m1,-2v1m1,-2v1m1,-1v1m1,-2v1m1,-2v1m1,-1v1m1,-2v1m1,-1v1m1,-2v1m1,0v1m1,0v2m1,0v1m1,0v2m1,0v3m1,0v3m1,0v3m1,0v4m1,0v5m1,0v4m1,0v5m1,0v3m1,0v1m1,0v1m1,-1v1m1,0v1m1,0v1m1,0v1m1,0v1m1,0v1m1,0v1m1,0v1m1,0v1m1,0v1m1,-1v1m1,-1v1m1,-1v1m1,-1v1m1,-1v1m1,-1v1m1,-2v1m1,-1v1m1,-3v2m1,-4v2m1,-4v2m1,-4v2m1,-4v2m1,-5v3m1,-5v2m1,-4v2m1,-3v1m1,-3v2m1,-3v1m1,-2v1m1,-2v1m1,-2v1m1,-2v1m1,-2v1m1,0v1m1,0v1m1,-1v1m1,0v1m1,0v1m1,0v1m1,-1v1m1,0v1m1,0v1m1,0v2m1,0v1m1,0v1m1,0v2m1,0v2m1,0v2m1,0v2m1,0v1m1,0v1m1,-1v1m1,0v1m1,-1v1m1,-1v1m1,-1v1m1,-1v1m1,-1v1m1,-2v1m1,-1v1m1,-2v1m1,-3v2m1,-4v2m1,-4v2m1,-4v2m1,-6v4m1,-8v4m1,-8v4m1,-8v4m1,-6v2m1,-4v2m1,-4v2m1,-4v2m1,-3v1m1,-2v1m1,-2v1m1,-2v1m1,-2v1m1,-2v1m1,-2v1m1,-2v1m1,-2v1m1,-3v2m1,-3v1m1,-3v2m1,-5v3m1,-6v3m1,-6v3m1,-6v3m1,-7v4m1,-8v4m1,-8v4m1,-6v2m1,-4v2m1,-4v2m1,-4v2m1,-3v1m1,-3v2m1,-4v2m1,-4v2m1,-4v2m1,-4v2m1,-4v2m1,-4v2m1,-5v3m1,-5v2m1,-5v3m1,-5v2m1,-5v3m1,-6v3m1,-5v2m1,-5v3m1,-5v2m1,-3v1m1,-1v1m1,-2v1m1,-2v1m1,-1v1m1,0v1m1,-1v1m1,-1v1m1,0v1m1,0v1m1,-1v1m1,0v1m1,-1v1m1,0v1m1,-1v1m1,-1v1m1,-3v2m1,-4v2m1,-4v2m1,-4v2m1,-2v1m1,-2v1m1,-1v1m1,-2v1m1,-3v2m1,-3v1m1,-3v2m1,-3v1m1,-3v2m1,-4v2m1,-4v2m1,-4v2m1,-3v1m1,-1v1m1,-2v1m1,-2v1m1,-1v1m1,-2v1m1,-1v1m1,-2v1m1,-1v1m1,-1v1m1,-2v1m1,-1v1m1,-1v1m1,-1v1m1,-1v1m1,-1v1m1,-3v2m1,-3v1m1,-3v2m1,-5v3m1,-8v5m1,-9v4m1,-9v5m1,-9v4m1,-8v4m1,-8v4m1,-8v4m1,-7v3m1,-7v4m1,-7v3m1,-7v4m1,-6v2m1,-4v2m1,-4v2m1,-4v2m1,-3v1m1,-1v1m1,-2v1m1,-1v1m1,-2v1m1,0v1m1,-1v1m1,0v1m1,-1v1m1,-1v1m1,-1v1m1,-2v1m1,-1v1m1,-1v1m1,-2v1m1,-1v1m1,-2v1m1,-2v1m1,-1v1m1,-2v1m1,-2v1m1,-3v2m1,-4v2m1,-4v2m1,-3v1m1,-2v1m1,-2v1m1,-2v1m1,-2v1m1,-2v1m1,-3v2m1,-3v1m1,-2v1m1,-2v1m1,-2v1m1,-2v1m1,-2v1m1,-3v2m1,-3v1m1,-3v2m1,-3v1m1,-2v1m1,-1v1m1,-2v1m1,-2v1m1,-1v1m1,-1v1m1,-1v1m1,-1v1m1,-1v1m1,-1v1m1,-1v1m1,-1v1m1,-2v1m1,-1v1m1,-2v1m1,-2v1m1,-3v2m1,-4v2m1,-4v2m1,-3v1m1,-3v2m1,-4v2m1,-4v2m1,-3v1m1,-2v1m1,-2v1m1,-2v1m1,-2v1m1,-1v1m1,-1v1m1,-2v1m1,-1v1m1,-1v1m1,0v1m1,-1v1m1,-1v1m1,-2v1m1,-1v1m1,-2v1m1,-2v1m1,0v1m1,0v1m1,0v1m1,0v1m1,0v2m1,0v2m1,0v2m1,0v2m1,0v2m1,0v2m1,0v2m1,0v2m1,0v3m1,0v4m1,0v3m1,0v2m1,0v2m1,0v2m1,0v2m1,0v2m1,0v2m1,0v2m1,0v2m1,0v3m1,0v3m1,0v2m1,0v3m1,0v3m1,0v3m1,0v2m1,0v3m1,0v3m1,0v2m1,0v2m1,0v2m1,0v3m1,0v3m1,0v2m1,0v3m1,0v2m1,0v2m1,0v1m1,0v2m1,0v2m1,0v3m1,0v4m1,0v3m1,0v2m1,0v2m1,0v1m1,0v2m1,0v1m1,0v2m1,0v2m1,0v2m1,0v2m1,0v2m1,0v2m1,0v2m1,0v2m1,0v1m1,-1v1m1,0v1m1,-1v1m1,0v1m1,0v1m1,-1v1m1,0v1m1,-1v1m1,0v1m1,-1v1m1,-1v1m1,0v1m1,-1v1m1,0v1m1,-1v1m1,-1v1m1,0v1m1,-1v1m1,-1v1m1,-1v1m1,-1v1m1,-1v1m1,-1v1m1,0v1m1,0v2m1,0v1m1,0v1m1,-1v1m1,-2v1m1,-1v1m1,-2v1m1,-3v2m1,-3v1m1,-3v2m1,-3v1m1,-1v1m1,-1v1m1,-1v1m1,-1v1m1,-1v1m1,-1v1m1,-1v1m1,-1v1m1,-1v1m1,0v1m1,-1v1m1,-1v1m1,-3v2m1,-4v2m1,-4v2m1,-4v2m1,-3v1m1,-3v2m1,-3v1m1,-2v1m1,0v1m1,0v1m1,0v1m1,0v2m1,0v2m1,0v3m1,0v2m1,0v2m1,0v2m1,0v1m1,0v2m1,0v1m1,-1v1m1,-1v1m1,-1v1m1,-1v1m1,-1v1m1,-2v1m1,-1v1m1,-2v1m1,-1v1m1,-2v1m1,-1v1m1,-2v2m1,0v3m1,0v4m1,0v3m1,0v4m1,0v4m1,0v5m1,0v4m1,0v4m1,0v4m1,0v3m1,0v4m1,0v3m1,0v3m1,0v3m1,0v3m1,0v2m1,0v2m1,0v2m1,0v2m1,0v3m1,0v2m1,0v3m1,0v2m1,0v2m1,0v2m1,0v1m1,0v2m1,0v1m1,-1v1m1,-1v1m1,-1v1m1,-1v1m1,0v1m1,-1v1m1,0v1m1,-1v1m1,-2v1m1,-1v1m1,-2v1m1,-2v1m1,-3v2m1,-4v2m1,-4v2m1,-4v2m1,-4v2m1,-3v1m1,-3v2m1,-3v1m1,-2v1m1,-2v1m1,-2v1m1,-2v1m1,-3v2m1,-4v2m1,-4v2m1,-3v1m1,-2v1m1,-3v2m1,-3v1m1,-2v1m1,-2v1m1,-2v1m1,-2v1m1,-3v2m1,-6v4m1,-7v3m1,-7v4m1,-7v3m1,-6v3m1,-6v3m1,-6v3m1,-6v3m1,-6v3m1,-5v2m1,-5v3m1,-6v3m1,-6v3m1,-5v2m1,-5v3m1,-5v2m1,-4v2m1,-3v1m1,-3v2m1,-3v1m1,-1v1m1,-2v1m1,-1v1m1,-2v1m1,-1v1m1,-1v1m1,-2v1m1,-1v1m1,-2v1m1,-3v2m1,-3v1m1,-2v1m1,-3v2m1,-3v1m1,-3v2m1,-3v1m1,-1v1m1,-1v1m1,-1v1m1,-1v1m1,-2v1m1,-3v2m1,-3v1m1,-2v1m1,0v1m1,-1v1m1,0v1m1,-1v1m1,-2v1m1,-1v1m1,-2v1m1,-2v1m1,-2v1m1,-2v1m1,-2v1m1,-2v1m1,0v1m1,0v1m1,0v1m1,0v1m1,0v2m1,0v2m1,0v2m1,0v1m1,0v1m1,0v1m1,0v1m1,0v1m1,0v1m1,-1v1m1,0v1m1,-1v1m1,0v1m1,0v2m1,0v1m1,0v1m1,-1v1m1,-2v1m1,-1v1m1,-2v1m1,-1v1m1,-1v1m1,-2v1m1,-1v1m1,-2v1m1,-1v1m1,-2v1m1,-2v1m1,-1v1m1,0v1m1,-1v1m1,-1v1m1,0v1m1,-1v1m1,0v1m1,-1v1m1,-1v1m1,-1v1m1,-1v1m1,-1v1m1,-1v1m1,0v1m1,-1v1m1,-1v1m1,-2v1m1,-1v1m1,-2v1m1,-2v1m1,-2v1m1,-3v2m1,-3v1m1,-2v1m1,-2v1m1,-2v1m1,-2v1m1,-2v1m1,-1v1m1,-1v1m1,-1v1m1,-1v1m1,-1v1m1,-1v1m1,-2v1m1,-1v1m1,0v2m1,0v2m1,0v2m1,0v1m1,0v2m1,0v2m1,0v2m1,0v1m1,0v2m1,0v2m1,0v2m1,0v1m1,0v2m1,0v1m1,0v2m1,0v1m1,0v2m1,0v2m1,0v2m1,0v2m1,0v2m1,0v3m1,0v2m1,0v3m1,0v2m1,0v2m1,0v2m1,0v2m1,-1v1m1,-1v1m1,-1v1m1,-1v1m1,-1v1m1,-1v1m1,-1v1m1,-1v1m1,-1v1m1,-2v1m1,-1v1m1,-2v1m1,-3v2m1,-3v1m1,-3v2m1,-3v1m1,-3v2m1,-4v2m1,-4v2m1,-4v2m1,-1v1m1,0v1m1,-1v1m1,0v1m1,-3v2m1,-4v2m1,-4v2m1,-4v3m1,0v4m1,0v4m1,0v4m1,0v4m1,0v2m1,0v3m1,0v2m1,0v2m1,0v1m1,0v1m1,0v1m1,0v1m1,0v1m1,-1v1m1,0v1m1,-1v1m1,0v2m1,0v1m1,0v2m1,0v1m1,0v1m1,0v2m1,0v1m1,0v4m1,0v8m1,0v8m1,0v8m1,0v8m1,0v7m1,0v6m1,0v7m1,0v4m1,0v2m1,0v2m1,0v2m1,0v1m1,0v1m1,0v1m1,-1v1m1,0v1m1,0v1m1,0v1m1,-1v1m1,0v1m1,0v2m1,0v1m1,0v2m1,0v1m1,-1v1m1,-1v1m1,-2v1m1,-1v1m1,0v1m1,0v1m1,-1v1m1,0v1m1,0v1m1,-1v1m1,0v1m1,-1v2m1,0v4m1,0v4m1,0v4m1,0v4m1,0v5m1,0v5m1,0v5m1,0v5m1,0v5m1,0v6m1,0v5m1,0v3m1,-1v1m1,-2v1m1,-1v1m1,-2v1m1,0v1m1,-1v1m1,0v1m1,-1v1m1,-1v1m1,-2v1m1,-1v1m1,-3v2m1,-4v2m1,-4v2m1,-4v2m1,-5v3m1,-5v2m1,-4v2m1,-4v2m1,-4v2m1,-3v1m1,-1v1m1,-2v1m1,-2v1m1,-2v1m1,-3v2m1,-3v1m1,-2v1m1,-2v1m1,-1v1m1,-2v1m1,-2v1m1,0v2m1,0v2m1,0v2m1,0v1m1,0v1m1,0v1m1,0v1m1,0v1m1,-2v1m1,-1v1m1,-2v1m1,-2v1m1,-1v1m1,-1v1m1,-1v1m1,-1v1m1,0v1m1,0v1m1,0v1m1,0v1m1,0v1m1,0v1m1,0v1m1,0v1m1,0v1m1,0v2m1,0v1m1,0v1m1,0v2m1,0v2m1,0v2m1,0v3m1,0v3m1,0v2m1,0v3m1,0v2m1,0v1m1,0v1m1,-1v1m1,0v1m1,-1v1m1,-1v1m1,-2v1m1,-1v1m1,-2v1m1,-3v2m1,-3v1m1,-2v1m1,-3v2m1,-3v1m1,-3v2m1,-3v1m1,-3v2m1,-3v1m1,-3v2m1,-3v1m1,-1v1m1,-2v1m1,-1v1m1,-2v1m1,-1v1m1,-1v1m1,-1v1m1,-1v1m1,-3v2m1,-4v2m1,-4v2m1,-3v1m1,-3v2m1,-3v1m1,-3v2m1,-4v2m1,-4v2m1,-4v2m1,-4v2m1,-4v2m1,-2v1m1,0v1m1,-1v1m1,-1v1m1,0v2m1,0v2m1,0v2m1,0v1m1,0v1m1,-1v1m1,0v1m1,-1v1m1,0v1m1,0v2m1,0v1m1,0v1m1,0v1m1,0v1m1,-1v1m1,0v1m1,-1v1m1,-1v1m1,-1v1m1,-1v1m1,-1v1m1,-1v1m1,-2v1m1,-1v1m1,-1v1m1,-1v1m1,-1v1m1,-1v1m1,0v1m1,-1v1m1,0v1m1,-1v1m1,-2v1m1,-1v1m1,-2v1m1,-2v1m1,0v1m1,0v1m1,-1v1m1,0v1m1,-1v1m1,0v1m1,-1v1m1,-1v1m1,0v1m1,0v1m1,-1v1m1,0v1m1,-3v2m1,-3v1m1,-3v2m1,-3v1m1,-2v1m1,-1v1m1,-2v1m1,-2v1m1,-3v2m1,-3v1m1,-3v2m1,-3v1m1,-2v1m1,-2v1m1,-2v1m1,-2v1m1,-2v1m1,-3v2m1,-3v1m1,-2v1m1,0v1m1,-1v1m1,0v1m1,-1v1m1,0v1m1,0v1m1,-1v1m1,0v1m1,-2v1m1,-3v2m1,-3v1m1,-2v1m1,-1v1m1,-2v1m1,-1v1m1,-2v1m1,-1v1m1,-1v1m1,-2v1m1,-2v2m1,-4v2m1,-4v2m1,-4v2m1,-4v2m1,-4v2m1,-3v1m1,-3v2m1,-4v2m1,-5v3m1,-5v2m1,-5v3m1,-6v3m1,-5v2m1,-4v2m1,-4v2m1,-5v3m1,-5v2m1,-5v3m1,-5v2m1,-4v2m1,-4v2m1,-4v2m1,-4v2m1,-4v2m1,-4v2m1,-4v2m1,-4v2m1,-3v1m1,-3v2m1,-4v2m1,-4v2m1,-4v2m1,-2v1m1,-1v1m1,-1v1m1,-1v1m1,-1v1m1,-1v1m1,-1v1m1,-2v2m1,-6v4m1,-8v4m1,-8v4m1,-7v3m1,-6v3m1,-7v4m1,-7v3m1,-6v3m1,-6v3m1,-6v3m1,-6v3m1,-6v3m1,-5v2m1,-5v3m1,-5v2m1,-4v2m1,-4v2m1,-4v2m1,-4v2m1,-4v2m1,-4v2m1,-4v2m1,-4v2m1,-4v2m1,-5v3m1,-5v2m1,-5v3m1,-5v2m1,-1v2m1,0v1m1,0v2m1,0v1m1,-1v1m1,-1v1m1,-1v1m1,-1v1m1,-2v1m1,-1v1m1,-2v1m1,-2v1m1,0v1m1,0v1m1,0v1m1,0v3m1,0v4m1,0v5m1,0v4m1,0v3m1,0v2m1,0v2m1,0v2m1,0v2m1,0v2m1,0v1m1,0v2m1,0v1m1,0v1m1,0v1m1,-1v1m1,0v1m1,0v2m1,0v1m1,0v2m1,0v1m1,0v2m1,0v2m1,0v2m1,0v1m1,0v2m1,0v2m1,0v2m1,0v2m1,0v2m1,0v1m1,0v2m1,0v1m1,0v1m1,-1v1m1,0v1m1,-1v1m1,0v1m1,-1v1m1,0v1m1,-1v1m1,-2v1m1,-2v1m1,-2v1m1,-2v1m1,-1v1m1,0v1m1,-1v1m1,-1v1m1,0v1m1,0v1m1,0v1m1,0v1m1,0v1m1,0v1m1,0v1m1,0v1m1,0v1m1,-1v1m1,0v1m1,-1v1m1,0v1m1,0v1m1,0v1m1,0v1m1,0v2m1,0v2m1,0v2m1,0v1" stroke="#00e000"/>
<path d="M0,343v1m1,-3v2m1,-4v2m1,-4v2m1,-4v2m1,-3v1m1,-3v2m1,-3v1m1,-2v1m1,-1v1m1,-2v1m1,-1v1m1,-2v1m1,-3v2m1,-4v2m1,-4v2m1,-3v1m1,-2v1m1,-1v1m1,-2v1m1,-2v1m1,-3v2m1,-3v1m1,-3v2m1,-3v1m1,-2v1m1,-1v1m1,-2v1m1,-2v1m1,-3v2m1,-4v2m1,-4v2m1,-4v2m1,-3v1m1,-2v1m1,-2v1m1,-2v1m1,-2v1m1,-2v1m1,-2v1m1,-2v1m1,-2v1m1,-1v1m1,-2v1m1,-2v1m1,-1v1m1,-2v1m1,-1v1m1,-2v1m1,0v1m1,0v1m1,-1v1m1,0v2m1,0v2m1,0v3m1,0v2m1,0v4m1,0v4m1,0v5m1,0v4m1,0v3m1,0v1m1,0v1m1,-1v1m1,0v1m1,0v1m1,0v1m1,0v1m1,0v1m1,0v1m1,0v1m1,-1v1m1,0v1m1,-1v1m1,0v1m1,-1v1m1,-1v1m1,-1v1m1,-1v1m1,-2v1m1,-1v1m1,-3v2m1,-3v1m1,-3v2m1,-3v1m1,-3v2m1,-4v2m1,-4v2m1,-4v2m1,-3v1m1,-2v1m1,-2v1m1,-2v1m1,-2v1m1,-3v2m1,-3v1m1,-2v1m1,0v1m1,0v1m1,-1v1m1,0v1m1,0v1m1,0v1m1,-1v1m1,0v1m1,0v1m1,0v1m1,0v1m1,0v1m1,0v2m1,0v2m1,0v2m1,0v1m1,0v1m1,0v1m1,-1v1m1,0v1m1,-1v1m1,-1v1m1,-2v1m1,-1v1m1,-1v1m1,-1v1m1,-1v1m1,-1v1m1,-3v2m1,-4v2m1,-4v2m1,-4v2m1,-6v4m1,-7v3m1,-7v4m1,-6v2m1,-4v2m1,-4v2m1,-4v2m1,-4v2m1,-3v1m1,-2v1m1,-2v1m1,-2v1m1,-2v1m1,-2v1m1,-2v1m1,-2v1m1,-2v1m1,-3v2m1,-3v1m1,-3v2m1,-5v3m1,-5v2m1,-5v3m1,-6v3m1,-7v4m1,-7v3m1,-7v4m1,-6v2m1,-4v2m1,-4v2m1,-4v2m1,-3v1m1,-3v2m1,-4v2m1,-4v2m1,-4v2m1,-4v2m1,-4v2m1,-4v2m1,-5v3m1,-5v2m1,-5v3m1,-5v2m1,-5v3m1,-5v2m1,-5v3m1,-5v2m1,-4v2m1,-3v1m1,-1v1m1,-2v1m1,-2v1m1,-1v1m1,-1v1m1,-2v1m1,-1v1m1,0v1m1,-1v1m1,0v1m1,-1v1m1,-1v1m1,0v1m1,-1v1m1,-1v1m1,-3v2m1,-4v2m1,-4v2m1,-4v2m1,-3v1m1,-1v1m1,-2v1m1,-2v1m1,-2v1m1,-3v2m1,-3v1m1,-2v1m1,-3v2m1,-4v2m1,-4v2m1,-3v1m1,-2v1m1,-2v1m1,-2v1m1,-2v1m1,-1v1m1,-2v1m1,-1v1m1,-2v1m1,-1v1m1,-2v1m1,-1v1m1,-2v1m1,-1v1m1,-1v1m1,-1v1m1,-1v1m1,-3v2m1,-3v1m1,-3v2m1,-4v2m1,-6v4m1,-8v4m1,-8v4m1,-8v4m1,-8v4m1,-7v3m1,-7v4m1,-7v3m1,-7v4m1,-7v3m1,-7v4m1,-6v2m1,-4v2m1,-4v2m1,-4v2m1,-3v1m1,-2v1m1,-1v1m1,-2v1m1,-2v1m1,-1v1m1,0v1m1,-1v1m1,-1v1m1,-1v1m1,-2v1m1,-1v1m1,-2v1m1,-1v1m1,-2v1m1,-1v1m1,-2v1m1,-2v1m1,-1v1m1,-2v1m1,-2v1m1,-3v2m1,-4v2m1,-4v2m1,-3v1m1,-2v1m1,-2v1m1,-2v1m1,-2v1m1,-2v1m1,-3v2m1,-3v1m1,-2v1m1,-2v1m1,-2v1m1,-2v1m1,-2v1m1,-2v1m1,-3v2m1,-3v1m1,-2v1m1,-2v1m1,-2v1m1,-2v1m1,-2v1m1,-1v1m1,-1v1m1,-1v1m1,-1v1m1,-1v1m1,-1v1m1,-2v1m1,-1v1m1,-2v1m1,-1v1m1,-2v1m1,-2v1m1,-3v2m1,-4v2m1,-4v2m1,-3v1m1,-3v2m1,-3v1m1,-3v2m1,-3v1m1,-2v1m1,-2v1m1,-2v1m1,-2v1m1,-1v1m1,-2v1m1,-1v1m1,-2v1m1,-1v1m1,0v1m1,-1v1m1,-1v1m1,-2v1m1,-1v1m1,-2v1m1,-2v1m1,0v1m1,0v1m1,-1v1m1,0v1m1,0v2m1,0v2m1,0v2m1,0v1m1,0v2m1,0v1m1,0v2m1,0v2m1,0v3m1,0v2m1,0v3m1,0v2m1,0v2m1,0v2m1,0v2m1,0v1m1,0v2m1,0v2m1,0v2m1,0v3m1,0v2m1,0v3m1,0v2m1,0v3m1,0v3m1,0v2m1,0v3m1,0v3m1,0v2m1,0v2m1,0v2m1,0v3m1,0v2m1,0v3m1,0v2m1,0v2m1,0v2m1,0v2m1,0v2m1,0v2m1,0v3m1,0v2m1,0v3m1,0v2m1,0v2m1,0v2m1,0v2m1,0v2m1,0v2m1,0v2m1,0v2m1,0v1m1,0v2m1,0v2m1,0v2m1,0v2m1,0v1m1,0v1m1,-1v1m1,0v1m1,0v1m1,0v1m1,0v1m1,0v1m1,-1v1m1,0v1m1,-1v1m1,-1v1m1,0v1m1,-1v1m1,0v1m1,-1v1m1,0v1m1,-1v1m1,0v1m1,-1v1m1,-1v1m1,0v1m1,-1v1m1,-1v1m1,0v1m1,0v2m1,0v1m1,0v1m1,-1v1m1,-2v1m1,-1v1m1,-2v1m1,-2v1m1,-2v1m1,-2v1m1,-2v1m1,-1v1m1,-1v1m1,-2v1m1,-1v1m1,-1v1m1,-1v1m1,-1v1m1,-1v1m1,-1v1m1,0v1m1,-1v1m1,-1v1m1,-3v2m1,-4v2m1,-4v2m1,-3v1m1,-2v1m1,-2v1m1,-2v1m1,-2v1m1,0v1m1,0v1m1,0v1m1,0v1m1,0v2m1,0v2m1,0v2m1,0v2m1,0v1m1,0v2m1,0v1m1,0v1m1,-1v1m1,-1v1m1,-1v1m1,-1v1m1,-1v1m1,-1v1m1,-2v1m1,-1v1m1,-1v1m1,-1v1m1,-2v1m1,-1v2m1,0v3m1,0v2m1,0v3m1,0v3m1,0v4m1,0v4m1,0v4m1,0v4m1,0v3m1,0v4m1,0v3m1,0v3m1,0v3m1,0v2m1,0v3m1,0v2m1,0v2m1,0v2m1,0v2m1,0v3m1,0v2m1,0v3m1,0v2m1,0v2m1,0v2m1,0v1m1,0v2m1,0v1m1,-1v1m1,0v1m1,-1v1m1,-1v1m1,0v1m1,0v1m1,-1v1m1,0v1m1,-1v1m1,-2v1m1,-1v1m1,-2v1m1,-3v2m1,-3v1m1,-3v2m1,-3v1m1,-2v1m1,-3v2m1,-3v1m1,-2v1m1,-2v1m1,-1v1m1,-2v1m1,-2v1m1,-3v2m1,-4v2m1,-4v2m1,-3v1m1,-2v1m1,-2v1m1,-2v1m1,-2v1m1,-2v1m1,-2v1m1,-2v1m1,-3v2m1,-5v3m1,-7v4m1,-7v3m1,-6v3m1,-6v3m1,-5v2m1,-5v3m1,-6v3m1,-5v2m1,-5v3m1,-5v2m1,-5v3m1,-6v3m1,-5v2m1,-5v3m1,-5v2m1,-4v2m1,-3v1m1,-3v2m1,-3v1m1,-1v1m1,-2v1m1,-1v1m1,-2v1m1,-1v1m1,-2v1m1,-1v1m1,-2v1m1,-2v1m1,-3v2m1,-3v1m1,-2v1m1,-3v2m1,-3v1m1,-3v2m1,-3v1m1,-1v1m1,-1v1m1,-2v1m1,-1v1m1,-2v1m1,-3v2m1,-3v1m1,-2v1m1,-1v1m1,0v1m1,-1v1m1,-1v1m1,-2v1m1,-1v1m1,-2v1m1,-2v1m1,-2v1m1,-1v1m1,-2v1m1,-2v1m1,0v1m1,0v1m1,-1v1m1,0v1m1,0v1m1,0v2m1,0v1m1,0v1m1,0v1m1,0v1m1,0v1m1,0v1m1,-1v1m1,0v1m1,-1v1m1,-1v1m1,0v1m1,0v2m1,0v1m1,0v1m1,-1v1m1,-2v1m1,-1v1m1,-2v1m1,-1v1m1,-1v1m1,-2v1m1,-1v1m1,-1v1m1,-2v1m1,-1v1m1,-2v1m1,-1v1m1,0v1m1,-1v1m1,-1v1m1,0v1m1,-1v1m1,0v1m1,-1v1m1,-1v1m1,-1v1m1,-1v1m1,-1v1m1,-1v1m1,0v1m1,-1v1m1,-1v1m1,-2v1m1,-1v1m1,-2v1m1,-2v1m1,-2v1m1,-2v1m1,-2v1m1,-2v1m1,-2v1m1,-2v1m1,-2v1m1,-2v1m1,-1v1m1,-1v1m1,-1v1m1,-1v1m1,-1v1m1,-1v1m1,-2v1m1,-1v1m1,0v2m1,0v1m1,0v2m1,0v1m1,0v2m1,0v1m1,0v2m1,0v1m1,0v2m1,0v1m1,0v2m1,0v1m1,0v2m1,0v1m1,0v2m1,0v1m1,0v2m1,0v1m1,0v2m1,0v2m1,0v2m1,0v3m1,0v2m1,0v2m1,0v2m1,0v2m1,0v2m1,0v2m1,-1v1m1,0v1m1,-1v1m1,-1v1m1,-1v1m1,0v1m1,-1v1m1,-1v1m1,-1v1m1,-2v1m1,-1v1m1,-2v1m1,-2v1m1,-2v1m1,-2v1m1,-2v1m1,-3v2m1,-4v2m1,-4v2m1,-4v2m1,-1v1m1,0v1m1,-1v1m1,0v1m1,-3v2m1,-4v2m1,-4v2m1,-3v2m1,0v4m1,0v3m1,0v4m1,0v3m1,0v2m1,0v2m1,0v2m1,0v2m1,0v1m1,0v1m1,0v1m1,0v1m1,0v1m1,0v1m1,-1v1m1,0v1m1,0v1m1,0v2m1,0v1m1,0v1m1,0v2m1,0v1m1,0v2m1,0v4m1,0v7m1,0v6m1,0v7m1,0v7m1,0v6m1,0v6m1,0v6m1,0v4m1,0v2m1,0v2m1,0v2m1,0v2m1,0v1m1,0v1m1,0v1m1,0v1m1,0v1m1,0v1m1,0v1m1,0v1m1,0v2m1,0v1m1,0v2m1,0v1m1,-1v1m1,0v1m1,-1v1m1,-1v1m1,0v1m1,0v1m1,-1v1m1,0v1m1,0v1m1,-1v1m1,0v1m1,-1v2m1,0v4m1,0v3m1,0v4m1,0v4m1,0v5m1,0v4m1,0v5m1,0v5m1,0v5m1,0v4m1,0v5m1,0v3m1,-1v1m1,-1v1m1,-1v1m1,-1v1m1,0v1m1,-1v1m1,0v1m1,-1v1m1,-1v1m1,-1v1m1,-1v1m1,-1v1m1,-3v2m1,-4v2m1,-4v2m1,-3v1m1,-3v2m1,-4v2m1,-4v2m1,-4v2m1,-3v1m1,-1v1m1,-2v1m1,-2v1m1,-2v1m1,-2v1m1,-2v1m1,-2v1m1,-1v1m1,-2v1m1,-1v1m1,-2v1m1,0v1m1,0v2m1,0v1m1,0v1m1,0v1m1,0v1m1,0v1m1,0v1m1,-1v1m1,-2v1m1,-1v1m1,-2v1m1,-1v1m1,-1v1m1,-1v1m1,-1v1m1,0v1m1,0v1m1,-1v1m1,0v1m1,0v1m1,0v1m1,0v1m1,0v1m1,0v1m1,0v2m1,0v1m1,0v1m1,0v2m1,0v2m1,0v2m1,0v2m1,0v2m1,0v3m1,0v2m1,0v2m1,0v1m1,0v1m1,-1v1m1,0v1m1,-1v1m1,-1v1m1,-1v1m1,-1v1m1,-2v1m1,-2v1m1,-2v1m1,-2v1m1,-2v1m1,-3v2m1,-3v1m1,-2v1m1,-2v1m1,-3v2m1,-3v1m1,-2v1m1,-1v1m1,-2v1m1,-1v1m1,-2v1m1,-1v1m1,-1v1m1,-1v1m1,-1v1m1,-3v2m1,-3v1m1,-3v2m1,-3v1m1,-3v2m1,-3v1m1,-3v2m1,-3v1m1,-3v2m1,-4v2m1,-4v2m1,-4v2m1,-2v1m1,-1v1m1,-1v1m1,-1v1m1,0v2m1,0v1m1,0v2m1,0v1m1,-1v1m1,0v1m1,-1v1m1,-1v1m1,0v1m1,0v1m1,0v1m1,0v1m1,0v1m1,0v1m1,-1v1m1,0v1m1,-1v1m1,-1v1m1,-1v1m1,-1v1m1,-1v1m1,-1v1m1,-2v1m1,-1v1m1,-1v1m1,0v1m1,-1v1m1,-1v1m1,-1v1m1,0v1m1,-1v1m1,-1v1m1,-1v1m1,-2v1m1,-1v1m1,-2v1m1,0v1m1,-1v1m1,0v1m1,-1v1m1,-1v1m1,0v1m1,-1v1m1,-1v1m1,0v1m1,0v1m1,-1v1m1,0v1m1,-2v1m1,-3v2m1,-3v1m1,-2v1m1,-2v1m1,-1v1m1,-2v1m1,-2v1m1,-2v1m1,-2v1m1,-2v1m1,-2v1m1,-2v1m1,-3v2m1,-3v1m1,-2v1m1,-2v1m1,-2v1m1,-2v1m1,-2v1m1,-1v1m1,0v1m1,-1v1m1,-1v1m1,0v1m1,0v1m1,-1v1m1,0v1m1,-2v1m1,-3v2m1,-3v1m1,-2v1m1,-1v1m1,-2v1m1,-1v1m1,-2v1m1,-1v1m1,-1v1m1,-2v1m1,-1v1m1,-3v2m1,-4v2m1,-4v2m1,-4v2m1,-4v2m1,-3v1m1,-3v2m1,-4v2m1,-4v2m1,-4v2m1,-4v2m1,-5v3m1,-5v2m1,-4v2m1,-4v2m1,-5v3m1,-5v2m1,-4v2m1,-4v2m1,-4v2m1,-4v2m1,-4v2m1,-4v2m1,-4v2m1,-4v2m1,-4v2m1,-4v2m1,-4v2m1,-4v2m1,-4v2m1,-4v2m1,-3v1m1,-1v1m1,-1v1m1,-2v1m1,-1v1m1,-1v1m1,-1v1m1,-2v1m1,-2v2m1,-6v4m1,-7v3m1,-7v4m1,-7v3m1,-6v3m1,-6v3m1,-6v3m1,-6v3m1,-6v3m1,-5v2m1,-5v3m1,-6v3m1,-5v2m1,-5v3m1,-5v2m1,-4v2m1,-4v2m1,-4v2m1,-4v2m1,-4v2m1,-4v2m1,-4v2m1,-4v2m1,-4v2m1,-5v3m1,-5v2m1,-5v3m1,-5v2m1,-1v1m1,0v1m1,0v1m1,0v1m1,-1v1m1,-1v1m1,-2v1m1,-1v1m1,-2v1m1,-1v1m1,-2v1m1,-2v1m1,0v1m1,0v1m1,-1v1m1,0v2m1,0v4m1,0v4m1,0v4m1,0v2m1,0v2m1,0v2m1,0v2m1,0v1m1,0v1m1,0v2m1,0v1m1,0v1m1,0v1m1,0v1m1,0v1m1,0v1m1,0v1m1,0v2m1,0v1m1,0v1m1,0v2m1,0v2m1,0v2m1,0v1m1,0v2m1,0v2m1,0v2m1,0v2m1,0v1m1,0v2m1,0v1m1,0v1m1,0v1m1,0v1m1,-1v1m1,0v1m1,0v1m1,-1v1m1,0v1m1,-1v1m1,-2v1m1,-1v1m1,-2v1m1,-2v1m1,0v1m1,-1v1m1,0v1m1,-1v1m1,0v1m1,0v1m1,-1v1m1,0v1m1,0v1m1,0v1m1,0v1m1,0v1m1,0v1m1,-1v1m1,0v1m1,-1v1m1,0v1m1,0v1m1,0v1m1,0v1m1,0v2m1,0v2m1,0v2m1,0v1" stroke="#00e000"/>
<path d="M0,348v1m1,-3v2m1,-4v2m1,-4v2m1,-4v2m1,-3v1m1,-3v2m1,-3v1m1,-2v1m1,-1v1m1,-2v1m1,-1v1m1,-2v1m1,-3v2m1,-4v2m1,-4v2m1,-3v1m1,-2v1m1,-2v1m1,-2v1m1,-2v1m1,-3v2m1,-3v1m1,-3v2m1,-3v1m1,-2v1m1,-1v1m1,-2v1m1,-2v1m1,-3v2m1,-4v2m1,-4v2m1,-3v1m1,-2v1m1,-2v1m1,-2v1m1,-2v1m1,-2v1m1,-3v2m1,-3v1m1,-2v1m1,-1v1m1,-2v1m1,-1v1m1,-2v1m1,-2v1m1,-1v1m1,-2v1m1,-2v1m1,0v1m1,-1v1m1,0v1m1,-1v1m1,0v2m1,0v2m1,0v2m1,0v3m1,0v4m1,0v4m1,0v4m1,0v2m1,0v1m1,0v1m1,-1v1m1,0v1m1,0v1m1,0v1m1,0v1m1,0v1m1,0v1m1,0v1m1,-1v1m1,0v1m1,-1v1m1,0v1m1,-1v1m1,-1v1m1,-1v1m1,-1v1m1,-2v1m1,-1v1m1,-2v1m1,-2v1m1,-2v1m1,-2v1m1,-3v2m1,-4v2m1,-4v2m1,-3v1m1,-2v1m1,-2v1m1,-2v1m1,-2v1m1,-2v1m1,-2v1m1,-2v1m1,-2v1m1,0v1m1,-1v1m1,0v1m1,-1v1m1,0v1m1,-1v1m1,0v1m1,-1v1m1,0v1m1,0v1m1,0v1m1,0v1m1,0v2m1,0v1m1,0v2m1,0v1m1,0v1m1,-1v1m1,0v1m1,-1v1m1,-1v1m1,-1v1m1,-1v1m1,-1v1m1,-1v1m1,-1v1m1,-1v1m1,-1v1m1,-2v1m1,-3v2m1,-3v1m1,-3v2m1,-5v3m1,-7v4m1,-7v3m1,-5v2m1,-4v2m1,-4v2m1,-4v2m1,-3v1m1,-2v1m1,-2v1m1,-2v1m1,-2v1m1,-2v1m1,-2v1m1,-2v1m1,-2v1m1,-2v1m1,-3v2m1,-3v1m1,-3v2m1,-4v2m1,-5v3m1,-5v2m1,-5v3m1,-6v3m1,-6v3m1,-6v3m1,-5v2m1,-4v2m1,-4v2m1,-4v2m1,-3v1m1,-3v2m1,-4v2m1,-4v2m1,-4v2m1,-4v2m1,-4v2m1,-4v2m1,-5v3m1,-5v2m1,-4v2m1,-4v2m1,-5v3m1,-5v2m1,-5v3m1,-5v2m1,-4v2m1,-3v1m1,-2v1m1,-2v1m1,-2v1m1,-1v1m1,-1v1m1,-2v1m1,-1v1m1,-1v1m1,0v1m1,-1v1m1,-1v1m1,-1v1m1,-1v1m1,-2v1m1,-1v1m1,-3v2m1,-4v2m1,-4v2m1,-3v1m1,-2v1m1,-1v1m1,-2v1m1,-2v1m1,-2v1m1,-3v2m1,-3v1m1,-2v1m1,-3v2m1,-4v2m1,-4v2m1,-3v1m1,-2v1m1,-2v1m1,-2v1m1,-2v1m1,-1v1m1,-2v1m1,-1v1m1,-2v1m1,-1v1m1,-2v1m1,-1v1m1,-2v1m1,-1v1m1,-1v1m1,-2v1m1,-1v1m1,-2v1m1,-3v2m1,-3v1m1,-3v2m1,-6v4m1,-8v4m1,-8v4m1,-7v3m1,-6v3m1,-7v4m1,-7v3m1,-6v3m1,-6v3m1,-6v3m1,-6v3m1,-5v2m1,-4v2m1,-4v2m1,-4v2m1,-4v2m1,-3v1m1,-1v1m1,-2v1m1,-2v1m1,-1v1m1,-1v1m1,-2v1m1,-1v1m1,-1v1m1,-2v1m1,-1v1m1,-2v1m1,-2v1m1,-1v1m1,-2v1m1,-2v1m1,-2v1m1,-1v1m1,-2v1m1,-2v1m1,-3v2m1,-4v2m1,-4v2m1,-3v1m1,-2v1m1,-2v1m1,-2v1m1,-2v1m1,-2v1m1,-3v2m1,-3v1m1,-2v1m1,-2v1m1,-2v1m1,-2v1m1,-2v1m1,-2v1m1,-3v2m1,-3v1m1,-2v1m1,-2v1m1,-2v1m1,-2v1m1,-2v1m1,-1v1m1,-1v1m1,-2v1m1,-1v1m1,-1v1m1,-1v1m1,-2v1m1,-1v1m1,-2v1m1,-1v1m1,-2v1m1,-2v1m1,-3v2m1,-3v1m1,-3v2m1,-3v1m1,-3v2m1,-3v1m1,-3v2m1,-3v1m1,-2v1m1,-2v1m1,-2v1m1,-2v1m1,-1v1m1,-2v1m1,-1v1m1,-2v1m1,-1v1m1,-1v1m1,-1v1m1,-1v1m1,-2v1m1,-1v1m1,-2v1m1,-2v1m1,0v1m1,-1v1m1,0v1m1,-1v1m1,0v2m1,0v1m1,0v2m1,0v1m1,0v1m1,0v2m1,0v1m1,0v2m1,0v2m1,0v2m1,0v2m1,0v2m1,0v2m1,0v2m1,0v2m1,0v1m1,0v2m1,0v2m1,0v2m1,0v2m1,0v2m1,0v2m1,0v2m1,0v3m1,0v2m1,0v3m1,0v2m1,0v2m1,0v2m1,0v2m1,0v2m1,0v3m1,0v2m1,0v3m1,0v2m1,0v2m1,0v2m1,0v2m1,0v2m1,0v2m1,0v3m1,0v2m1,0v3m1,0v2m1,0v2m1,0v2m1,0v2m1,0v1m1,0v2m1,0v2m1,0v2m1,0v1m1,0v2m1,0v2m1,0v2m1,0v2m1,0v1m1,0v1m1,0v1m1,0v1m1,0v1m1,0v1m1,0v1m1,0v1m1,0v1m1,-1v1m1,0v1m1,-1v1m1,0v1m1,0v1m1,-1v1m1,0v1m1,0v1m1,-1v1m1,0v1m1,-1v1m1,-1v1m1,0v1m1,-1v1m1,-1v1m1,0v1m1,0v2m1,0v1m1,0v1m1,-1v1m1,-1v1m1,-2v1m1,-1v1m1,-2v1m1,-1v1m1,-2v1m1,-2v1m1,-1v1m1,-1v1m1,-1v1m1,-1v1m1,-1v1m1,-1v1m1,-1v1m1,-1v1m1,-1v1m1,0v1m1,-1v1m1,-1v1m1,-3v2m1,-3v1m1,-3v2m1,-3v1m1,-2v1m1,-1v1m1,-2v1m1,-2v1m1,0v1m1,0v1m1,-1v1m1,0v1m1,0v2m1,0v2m1,0v2m1,0v1m1,0v1m1,0v1m1,0v1m1,0v1m1,-1v1m1,0v1m1,-1v1m1,-1v1m1,-1v1m1,-1v1m1,-2v1m1,-1v1m1,-1v1m1,-1v1m1,-2v1m1,-1v2m1,0v2m1,0v3m1,0v2m1,0v3m1,0v4m1,0v3m1,0v4m1,0v3m1,0v3m1,0v3m1,0v3m1,0v3m1,0v2m1,0v3m1,0v2m1,0v2m1,0v2m1,0v2m1,0v2m1,0v3m1,0v2m1,0v2m1,0v2m1,0v2m1,0v2m1,0v2m1,0v2m1,0v1m1,0v1m1,-1v1m1,0v1m1,-1v1m1,0v1m1,0v1m1,-1v1m1,0v1m1,-1v1m1,-1v1m1,-2v1m1,-1v1m1,-2v1m1,-3v2m1,-3v1m1,-2v1m1,-2v1m1,-1v1m1,-2v1m1,-2v1m1,-2v1m1,-1v1m1,-2v1m1,-2v1m1,-3v2m1,-3v1m1,-3v2m1,-3v1m1,-2v1m1,-1v1m1,-2v1m1,-2v1m1,-2v1m1,-2v1m1,-2v1m1,-3v2m1,-5v3m1,-5v2m1,-5v3m1,-6v3m1,-5v2m1,-5v3m1,-5v2m1,-5v3m1,-5v2m1,-4v2m1,-4v2m1,-5v3m1,-5v2m1,-5v3m1,-5v2m1,-4v2m1,-4v2m1,-4v2m1,-4v2m1,-3v1m1,-1v1m1,-2v1m1,-1v1m1,-2v1m1,-2v1m1,-1v1m1,-2v1m1,-2v1m1,-2v1m1,-3v2m1,-3v1m1,-2v1m1,-2v1m1,-3v2m1,-3v1m1,-2v1m1,-1v1m1,-2v1m1,-1v1m1,-2v1m1,-2v1m1,-2v1m1,-2v1m1,-2v1m1,-1v1m1,-1v1m1,-1v1m1,-1v1m1,-2v1m1,-2v1m1,-2v1m1,-2v1m1,-2v1m1,-1v1m1,-2v1m1,-2v1m1,0v1m1,-1v1m1,0v1m1,-1v1m1,0v1m1,0v1m1,0v1m1,0v1m1,0v1m1,0v1m1,-1v1m1,0v1m1,-1v1m1,0v1m1,-1v1m1,-1v1m1,0v1m1,0v1m1,0v1m1,0v1m1,-1v1m1,-1v1m1,-2v1m1,-1v1m1,-1v1m1,-1v1m1,-2v1m1,-1v1m1,-1v1m1,-2v1m1,-1v1m1,-2v1m1,-1v1m1,0v1m1,-1v1m1,-1v1m1,0v1m1,-1v1m1,0v1m1,-1v1m1,-1v1m1,-1v1m1,-1v1m1,-1v1m1,-1v1m1,0v1m1,-1v1m1,-1v1m1,-1v1m1,-2v1m1,-1v1m1,-2v1m1,-2v1m1,-2v1m1,-2v1m1,-2v1m1,-2v1m1,-2v1m1,-2v1m1,-2v1m1,-1v1m1,-1v1m1,-1v1m1,-1v1m1,-1v1m1,-1v1m1,-2v1m1,-1v1m1,0v1m1,0v2m1,0v1m1,0v1m1,0v1m1,0v2m1,0v1m1,0v1m1,0v1m1,0v2m1,0v1m1,0v1m1,0v2m1,0v1m1,0v2m1,0v1m1,0v2m1,0v1m1,0v2m1,0v1m1,0v2m1,0v2m1,0v2m1,0v2m1,0v2m1,0v2m1,0v2m1,0v2m1,-1v1m1,0v1m1,-1v1m1,-1v1m1,-1v1m1,0v1m1,-1v1m1,-1v1m1,-1v1m1,-1v1m1,-2v1m1,-1v1m1,-2v1m1,-1v1m1,-2v1m1,-2v1m1,-3v2m1,-3v1m1,-3v2m1,-3v1m1,0v1m1,-1v1m1,0v1m1,-1v1m1,-2v1m1,-3v2m1,-3v1m1,-2v2m1,0v3m1,0v3m1,0v3m1,0v2m1,0v2m1,0v2m1,0v2m1,0v2m1,0v1m1,0v1m1,-1v1m1,0v1m1,0v1m1,0v1m1,-1v1m1,0v1m1,0v1m1,0v2m1,0v1m1,0v1m1,0v1m1,0v2m1,0v1m1,0v3m1,0v6m1,0v6m1,0v6m1,0v6m1,0v6m1,0v6m1,0v6m1,0v3m1,0v2m1,0v2m1,0v2m1,0v2m1,0v1m1,0v2m1,0v1m1,0v1m1,0v1m1,0v1m1,0v1m1,0v1m1,0v2m1,0v2m1,0v2m1,0v1m1,0v1m1,-1v1m1,0v1m1,-1v1m1,0v1m1,0v1m1,0v1m1,0v1m1,0v1m1,-1v1m1,0v1m1,-1v2m1,0v3m1,0v4m1,0v3m1,0v4m1,0v4m1,0v4m1,0v4m1,0v5m1,0v4m1,0v4m1,0v4m1,0v3m1,0v1m1,-1v1m1,0v1m1,-1v1m1,0v1m1,0v1m1,-1v1m1,0v1m1,-1v1m1,0v1m1,-1v1m1,-1v1m1,-2v1m1,-3v2m1,-3v1m1,-2v1m1,-3v2m1,-3v1m1,-3v2m1,-3v1m1,-1v1m1,-2v1m1,-1v1m1,-2v1m1,-2v1m1,-1v1m1,-2v1m1,-2v1m1,-1v1m1,-2v1m1,-1v1m1,-2v1m1,0v1m1,0v2m1,0v1m1,0v1m1,0v1m1,0v1m1,-1v1m1,0v1m1,-1v1m1,-2v1m1,-1v1m1,-2v1m1,-1v1m1,-1v1m1,-1v1m1,-1v1m1,0v1m1,0v1m1,-1v1m1,0v1m1,0v1m1,0v1m1,0v1m1,0v1m1,0v1m1,0v1m1,0v1m1,0v1m1,0v2m1,0v1m1,0v2m1,0v2m1,0v2m1,0v2m1,0v2m1,0v2m1,0v1m1,0v1m1,0v1m1,0v1m1,-1v1m1,-1v1m1,-1v1m1,-1v1m1,-2v1m1,-1v1m1,-2v1m1,-2v1m1,-2v1m1,-2v1m1,-2v1m1,-2v1m1,-2v1m1,-2v1m1,-2v1m1,-2v1m1,-1v1m1,-2v1m1,-1v1m1,-2v1m1,-1v1m1,-1v1m1,-1v1m1,-1v1m1,-2v1m1,-3v2m1,-3v1m1,-2v1m1,-2v1m1,-3v2m1,-3v1m1,-2v1m1,-3v2m1,-4v2m1,-4v2m1,-4v2m1,-2v1m1,-1v1m1,-1v1m1,-1v1m1,0v1m1,0v2m1,0v1m1,0v1m1,-1v1m1,0v1m1,-1v1m1,-1v1m1,0v1m1,0v1m1,-1v1m1,0v1m1,0v1m1,-1v1m1,0v1m1,-1v1m1,-1v1m1,0v1m1,-1v1m1,-1v1m1,-1v1m1,-1v1m1,-2v1m1,-1v1m1,-1v1m1,0v1m1,-1v1m1,-1v1m1,-1v1m1,0v1m1,-1v1m1,-1v1m1,-1v1m1,-2v1m1,-1v1m1,-2v1m1,0v1m1,-1v1m1,0v1m1,-1v1m1,-1v1m1,0v1m1,-1v1m1,-1v1m1,0v1m1,0v1m1,-1v1m1,0v1m1,-2v1m1,-3v2m1,-3v1m1,-2v1m1,-1v1m1,-2v1m1,-1v1m1,-2v1m1,-2v1m1,-2v1m1,-2v1m1,-2v1m1,-2v1m1,-2v1m1,-2v1m1,-2v1m1,-2v1m1,-2v1m1,-2v1m1,-2v1m1,-1v1m1,-1v1m1,-1v1m1,-1v1m1,0v1m1,0v1m1,-1v1m1,0v1m1,-2v1m1,-3v2m1,-3v1m1,-2v1m1,-1v1m1,-1v1m1,-2v1m1,-1v1m1,-1v1m1,-2v1m1,-1v1m1,-2v1m1,-3v2m1,-3v1m1,-3v2m1,-3v1m1,-3v2m1,-3v1m1,-3v2m1,-4v2m1,-4v2m1,-4v2m1,-4v2m1,-4v2m1,-4v2m1,-4v2m1,-4v2m1,-4v2m1,-4v2m1,-4v2m1,-4v2m1,-4v2m1,-4v2m1,-4v2m1,-4v2m1,-4v2m1,-4v2m1,-4v2m1,-4v2m1,-3v1m1,-3v2m1,-4v2m1,-4v2m1,-4v2m1,-2v1m1,-1v1m1,-2v1m1,-1v1m1,-1v1m1,-2v1m1,-1v1m1,-3v2m1,-5v3m1,-6v3m1,-6v3m1,-6v3m1,-6v3m1,-5v2m1,-5v3m1,-6v3m1,-6v3m1,-5v2m1,-5v3m1,-6v3m1,-5v2m1,-5v3m1,-5v2m1,-4v2m1,-4v2m1,-4v2m1,-4v2m1,-3v1m1,-3v2m1,-4v2m1,-4v2m1,-5v3m1,-5v2m1,-5v3m1,-5v2m1,-4v2m1,-1v1m1,-1v1m1,0v1m1,-1v1m1,-1v1m1,-2v1m1,-1v1m1,-2v1m1,-2v1m1,-1v1m1,-2v1m1,-2v1m1,0v1m1,-1v1m1,0v1m1,-1v2m1,0v3m1,0v3m1,0v3m1,0v2m1,0v2m1,0v1m1,0v2m1,0v1m1,0v1m1,0v1m1,0v1m1,0v1m1,0v1m1,0v1m1,0v1m1,0v1m1,0v1m1,0v1m1,0v1m1,0v1m1,0v2m1,0v2m1,0v2m1,0v1m1,0v2m1,0v2m1,0v2m1,0v1m1,0v1m1,0v1m1,0v1m1,0v1m1,0v1m1,0v1m1,0v1m1,0v1m1,0v1m1,-1v1m1,0v1m1,-1v1m1,-1v1m1,-2v1m1,-1v1m1,-2v1m1,0v1m1,-1v1m1,0v1m1,-1v1m1,0v1m1,0v1m1,-1v1m1,0v1m1,0v1m1,0v1m1,-1v1m1,0v1m1,0v1m1,0v1m1,-1v1m1,0v1m1,0v1m1,0v1m1,-1v1m1,0v1m1,0v2m1,0v1m1,0v2m1,0v1" stroke="#ffa500"/>
<path d="M0,352v1m1,-3v2m1,-4v2m1,-4v2m1,-3v1m1,-3v2m1,-3v1m1,-3v2m1,-3v1m1,-1v1m1,-2v1m1,-1v1m1,-2v1m1,-3v2m1,-4v2m1,-4v2m1,-3v1m1,-2v1m1,-2v1m1,-2v1m1,-2v1m1,-3v2m1,-3v1m1,-3v2m1,-3v1m1,-2v1m1,-1v1m1,-2v1m1,-2v1m1,-3v2m1,-4v2m1,-4v2m1,-3v1m1,-2v1m1,-3v2m1,-3v1m1,-2v1m1,-2v1m1,-2v1m1,-2v1m1,-2v1m1,-2v1m1,-1v1m1,-2v1m1,-2v1m1,-2v1m1,-1v1m1,-2v1m1,-2v1m1,0v1m1,-1v1m1,0v1m1,-1v1m1,0v2m1,0v2m1,0v2m1,0v2m1,0v3m1,0v3m1,0v3m1,0v2m1,0v1m1,0v1m1,-1v1m1,0v1m1,0v1m1,0v1m1,0v1m1,0v1m1,0v1m1,0v1m1,-1v1m1,0v1m1,-1v1m1,0v1m1,-1v1m1,-1v1m1,-1v1m1,-1v1m1,-2v1m1,-1v1m1,-2v1m1,-1v1m1,-2v1m1,-2v1m1,-3v2m1,-3v1m1,-3v2m1,-3v1m1,-2v1m1,-2v1m1,-2v1m1,-2v1m1,-2v1m1,-2v1m1,-2v1m1,-2v1m1,0v1m1,-1v1m1,0v1m1,-1v1m1,0v1m1,-1v1m1,0v1m1,-1v1m1,0v1m1,0v1m1,-1v1m1,0v1m1,0v1m1,0v2m1,0v1m1,0v1m1,0v1m1,0v1m1,-1v1m1,0v1m1,-1v1m1,-1v1m1,-1v1m1,-1v1m1,-1v1m1,-1v1m1,-2v1m1,-1v1m1,-2v1m1,-2v1m1,-2v1m1,-3v2m1,-5v3m1,-5v2m1,-5v3m1,-5v2m1,-4v2m1,-4v2m1,-4v2m1,-3v1m1,-2v1m1,-2v1m1,-2v1m1,-2v1m1,-2v1m1,-1v1m1,-2v1m1,-2v1m1,-2v1m1,-3v2m1,-3v1m1,-3v2m1,-4v2m1,-5v3m1,-5v2m1,-5v3m1,-6v3m1,-5v2m1,-5v3m1,-5v2m1,-4v2m1,-4v2m1,-4v2m1,-3v1m1,-3v2m1,-4v2m1,-4v2m1,-3v1m1,-3v2m1,-4v2m1,-4v2m1,-5v3m1,-5v2m1,-4v2m1,-4v2m1,-5v3m1,-5v2m1,-5v3m1,-5v2m1,-4v2m1,-3v1m1,-2v1m1,-2v1m1,-2v1m1,-1v1m1,-2v1m1,-1v1m1,-2v1m1,-1v1m1,-1v1m1,-1v1m1,-1v1m1,-1v1m1,-1v1m1,-2v1m1,-1v1m1,-3v2m1,-4v2m1,-4v2m1,-3v1m1,-2v1m1,-1v1m1,-2v1m1,-2v1m1,-2v1m1,-3v2m1,-3v1m1,-2v1m1,-3v2m1,-3v1m1,-3v2m1,-3v1m1,-2v1m1,-2v1m1,-2v1m1,-2v1m1,-2v1m1,-1v1m1,-2v1m1,-2v1m1,-1v1m1,-2v1m1,-1v1m1,-2v1m1,-1v1m1,-2v1m1,-1v1m1,-2v1m1,-2v1m1,-2v1m1,-2v1m1,-3v2m1,-6v4m1,-7v3m1,-7v4m1,-7v3m1,-6v3m1,-6v3m1,-6v3m1,-6v3m1,-6v3m1,-6v3m1,-6v3m1,-5v2m1,-4v2m1,-4v2m1,-4v2m1,-4v2m1,-3v1m1,-1v1m1,-2v1m1,-2v1m1,-1v1m1,-1v1m1,-2v1m1,-1v1m1,-2v1m1,-1v1m1,-2v1m1,-2v1m1,-2v1m1,-1v1m1,-2v1m1,-2v1m1,-2v1m1,-2v1m1,-2v1m1,-2v1m1,-3v2m1,-3v1m1,-3v2m1,-3v1m1,-2v1m1,-2v1m1,-2v1m1,-2v1m1,-2v1m1,-3v2m1,-3v1m1,-2v1m1,-2v1m1,-2v1m1,-2v1m1,-2v1m1,-2v1m1,-3v2m1,-3v1m1,-2v1m1,-2v1m1,-2v1m1,-2v1m1,-2v1m1,-1v1m1,-2v1m1,-1v1m1,-2v1m1,-1v1m1,-1v1m1,-2v1m1,-1v1m1,-2v1m1,-1v1m1,-2v1m1,-2v1m1,-3v2m1,-3v1m1,-3v2m1,-3v1m1,-3v2m1,-3v1m1,-3v2m1,-3v1m1,-2v1m1,-2v1m1,-2v1m1,-2v1m1,-1v1m1,-2v1m1,-1v1m1,-2v1m1,-1v1m1,-1v1m1,-2v1m1,-1v1m1,-2v1m1,-1v1m1,-2v1m1,-2v1m1,0v1m1,-1v1m1,0v1m1,-1v1m1,0v1m1,0v2m1,0v1m1,0v1m1,0v1m1,0v1m1,0v1m1,0v2m1,0v2m1,0v2m1,0v2m1,0v2m1,0v1m1,0v2m1,0v1m1,0v1m1,0v2m1,0v2m1,0v2m1,0v2m1,0v2m1,0v2m1,0v2m1,0v3m1,0v2m1,0v2m1,0v2m1,0v2m1,0v2m1,0v2m1,0v2m1,0v3m1,0v2m1,0v2m1,0v2m1,0v2m1,0v2m1,0v1m1,0v2m1,0v2m1,0v3m1,0v2m1,0v3m1,0v2m1,0v2m1,0v2m1,0v2m1,0v1m1,0v2m1,0v2m1,0v2m1,0v1m1,0v2m1,0v2m1,0v2m1,0v2m1,0v1m1,0v1m1,0v1m1,0v1m1,0v1m1,0v2m1,0v1m1,0v1m1,0v1m1,-1v1m1,0v1m1,-1v1m1,0v1m1,0v1m1,-1v1m1,0v1m1,0v1m1,0v1m1,-1v1m1,0v1m1,-1v1m1,0v1m1,-1v1m1,-1v1m1,0v1m1,0v2m1,0v1m1,0v1m1,-1v1m1,-1v1m1,-1v1m1,-1v1m1,-2v1m1,-1v1m1,-2v1m1,-2v1m1,-1v1m1,-1v1m1,-1v1m1,-1v1m1,-1v1m1,0v1m1,-1v1m1,-1v1m1,-1v1m1,0v1m1,-1v1m1,-1v1m1,-2v1m1,-3v2m1,-3v1m1,-2v1m1,-2v1m1,-1v1m1,-2v1m1,-2v1m1,0v1m1,-1v1m1,0v1m1,-1v1m1,0v2m1,0v2m1,0v2m1,0v1m1,0v1m1,0v1m1,0v1m1,0v1m1,-1v1m1,0v1m1,-1v1m1,-1v1m1,-1v1m1,-1v1m1,-2v1m1,-1v1m1,-1v1m1,-1v1m1,-2v1m1,-1v2m1,0v2m1,0v2m1,0v2m1,0v3m1,0v3m1,0v4m1,0v3m1,0v3m1,0v3m1,0v2m1,0v3m1,0v3m1,0v2m1,0v3m1,0v2m1,0v2m1,0v2m1,0v2m1,0v2m1,0v2m1,0v2m1,0v3m1,0v2m1,0v2m1,0v2m1,0v1m1,0v2m1,0v1m1,0v1m1,-1v1m1,0v1m1,-1v1m1,0v1m1,0v1m1,0v1m1,0v1m1,-1v1m1,-1v1m1,-2v1m1,-1v1m1,-2v1m1,-1v1m1,-2v1m1,-2v1m1,-2v1m1,-1v1m1,-2v1m1,-2v1m1,-1v1m1,-2v1m1,-1v1m1,-2v1m1,-2v1m1,-3v2m1,-3v1m1,-2v1m1,-2v1m1,-1v1m1,-2v1m1,-2v1m1,-2v1m1,-2v1m1,-2v1m1,-3v2m1,-4v2m1,-5v3m1,-5v2m1,-5v3m1,-5v2m1,-4v2m1,-4v2m1,-4v2m1,-4v2m1,-4v2m1,-4v2m1,-5v3m1,-5v2m1,-4v2m1,-4v2m1,-4v2m1,-4v2m1,-4v2m1,-4v2m1,-3v1m1,-2v1m1,-1v1m1,-2v1m1,-2v1m1,-1v1m1,-2v1m1,-1v1m1,-2v1m1,-2v1m1,-3v2m1,-3v1m1,-2v1m1,-3v2m1,-3v1m1,-3v2m1,-3v1m1,-1v1m1,-2v1m1,-1v1m1,-2v1m1,-2v1m1,-2v1m1,-2v1m1,-2v1m1,-1v1m1,-1v1m1,-2v1m1,-1v1m1,-2v1m1,-1v1m1,-2v1m1,-2v1m1,-2v1m1,-2v1m1,-2v1m1,-2v1m1,0v1m1,-1v1m1,0v1m1,-1v1m1,0v1m1,0v1m1,0v1m1,0v1m1,0v1m1,-1v1m1,0v1m1,-1v1m1,-1v1m1,0v1m1,-1v1m1,-1v1m1,0v1m1,0v1m1,-1v1m1,0v1m1,-1v1m1,-1v1m1,-2v1m1,-1v1m1,-1v1m1,-1v1m1,-2v1m1,-1v1m1,-1v1m1,-1v1m1,-2v1m1,-1v1m1,-1v1m1,-1v1m1,-1v1m1,-1v1m1,0v1m1,-1v1m1,0v1m1,-1v1m1,-1v1m1,-1v1m1,-1v1m1,-1v1m1,-1v1m1,0v1m1,-1v1m1,-1v1m1,-1v1m1,-2v1m1,-1v1m1,-2v1m1,-2v1m1,-2v1m1,-2v1m1,-2v1m1,-2v1m1,-1v1m1,-2v1m1,-2v1m1,-1v1m1,-1v1m1,-1v1m1,-1v1m1,-1v1m1,-2v1m1,-1v1m1,-2v1m1,0v1m1,0v2m1,0v1m1,0v1m1,0v1m1,0v2m1,0v1m1,0v1m1,0v1m1,0v1m1,0v1m1,0v1m1,0v1m1,0v2m1,0v1m1,0v1m1,0v2m1,0v1m1,0v2m1,0v1m1,0v2m1,0v2m1,0v2m1,0v1m1,0v2m1,0v2m1,0v2m1,0v2m1,-1v1m1,0v1m1,-1v1m1,-1v1m1,0v1m1,-1v1m1,0v1m1,-1v1m1,-1v1m1,-1v1m1,-2v1m1,-1v1m1,-1v1m1,-2v1m1,-1v1m1,-2v1m1,-3v2m1,-3v1m1,-3v2m1,-3v1m1,0v1m1,-1v1m1,0v1m1,-1v1m1,-2v1m1,-2v1m1,-2v1m1,-2v2m1,0v2m1,0v3m1,0v2m1,0v2m1,0v2m1,0v2m1,0v2m1,0v2m1,0v1m1,0v1m1,-1v1m1,0v1m1,0v1m1,0v1m1,-1v1m1,0v1m1,0v1m1,0v2m1,0v1m1,0v1m1,0v1m1,0v2m1,0v1m1,0v3m1,0v6m1,0v5m1,0v6m1,0v5m1,0v5m1,0v5m1,0v5m1,0v4m1,0v2m1,0v2m1,0v2m1,0v2m1,0v1m1,0v2m1,0v1m1,0v1m1,0v1m1,0v2m1,0v1m1,0v1m1,0v2m1,0v2m1,0v2m1,0v1m1,0v1m1,-1v1m1,0v1m1,-1v1m1,0v1m1,0v1m1,0v1m1,0v1m1,0v1m1,0v1m1,-1v1m1,0v2m1,0v3m1,0v3m1,0v3m1,0v3m1,0v4m1,0v4m1,0v4m1,0v4m1,0v4m1,0v4m1,0v4m1,0v3m1,0v1m1,0v1m1,-1v1m1,0v1m1,0v1m1,0v1m1,0v1m1,0v1m1,-1v1m1,0v1m1,-1v1m1,-1v1m1,-2v1m1,-2v1m1,-2v1m1,-2v1m1,-2v1m1,-2v1m1,-2v1m1,-2v1m1,-1v1m1,-2v1m1,-1v1m1,-2v1m1,-1v1m1,-2v1m1,-1v1m1,-2v1m1,-1v1m1,-2v1m1,-1v1m1,-2v1m1,0v1m1,0v1m1,0v1m1,0v1m1,0v1m1,0v1m1,-1v1m1,0v1m1,-1v1m1,-1v1m1,-2v1m1,-1v1m1,-1v1m1,0v1m1,-1v1m1,-1v1m1,0v1m1,-1v1m1,0v1m1,-1v1m1,0v1m1,0v1m1,0v1m1,0v1m1,0v1m1,0v1m1,-1v1m1,0v1m1,0v2m1,0v1m1,0v2m1,0v2m1,0v2m1,0v2m1,0v2m1,0v2m1,0v1m1,0v1m1,-1v1m1,0v1m1,-1v1m1,0v1m1,-1v1m1,-1v1m1,-1v1m1,-2v1m1,-1v1m1,-2v1m1,-2v1m1,-2v1m1,-2v1m1,-2v1m1,-2v1m1,-2v1m1,-2v1m1,-2v1m1,-1v1m1,-1v1m1,-2v1m1,-1v1m1,-1v1m1,-1v1m1,-1v1m1,-1v1m1,-2v1m1,-3v2m1,-3v1m1,-2v1m1,-2v1m1,-2v1m1,-2v1m1,-2v1m1,-3v2m1,-4v2m1,-4v2m1,-3v1m1,-1v1m1,-1v1m1,-1v1m1,-1v1m1,0v1m1,0v1m1,0v1m1,0v1m1,-1v1m1,-1v1m1,-1v1m1,-1v1m1,0v1m1,0v1m1,-1v1m1,0v1m1,0v1m1,-1v1m1,0v1m1,-1v1m1,-1v1m1,0v1m1,-1v1m1,-1v1m1,-1v1m1,-1v1m1,-2v1m1,-1v1m1,-1v1m1,0v1m1,-1v1m1,-1v1m1,-1v1m1,0v1m1,-1v1m1,-1v1m1,-1v1m1,-2v1m1,-1v1m1,-2v1m1,0v1m1,-1v1m1,0v1m1,-1v1m1,-1v1m1,0v1m1,-1v1m1,-1v1m1,0v1m1,-1v1m1,0v1m1,-1v1m1,-2v1m1,-2v1m1,-2v1m1,-2v1m1,-1v1m1,-2v1m1,-1v1m1,-2v1m1,-2v1m1,-2v1m1,-2v1m1,-2v1m1,-2v1m1,-1v1m1,-2v1m1,-2v1m1,-2v1m1,-2v1m1,-2v1m1,-2v1m1,-1v1m1,-1v1m1,-1v1m1,-1v1m1,0v1m1,-1v1m1,0v1m1,-1v1m1,-2v1m1,-2v1m1,-2v1m1,-2v1m1,-1v1m1,-1v1m1,-2v1m1,-1v1m1,-1v1m1,-2v1m1,-1v1m1,-2v1m1,-3v2m1,-3v1m1,-3v2m1,-3v1m1,-2v1m1,-3v2m1,-3v1m1,-2v1m1,-3v2m1,-4v2m1,-4v2m1,-4v2m1,-4v2m1,-4v2m1,-4v2m1,-4v2m1,-4v2m1,-4v2m1,-4v2m1,-4v2m1,-4v2m1,-4v2m1,-4v2m1,-3v1m1,-3v2m1,-4v2m1,-4v2m1,-3v1m1,-3v2m1,-4v2m1,-4v2m1,-3v1m1,-1v1m1,-2v1m1,-1v1m1,-2v1m1,-1v1m1,-2v1m1,-1v1m1,-3v2m1,-5v3m1,-6v3m1,-6v3m1,-6v3m1,-5v2m1,-5v3m1,-5v2m1,-5v3m1,-6v3m1,-5v2m1,-5v3m1,-6v3m1,-5v2m1,-4v2m1,-4v2m1,-4v2m1,-4v2m1,-4v2m1,-4v2m1,-4v2m1,-4v2m1,-4v2m1,-4v2m1,-4v2m1,-4v2m1,-5v3m1,-5v2m1,-4v2m1,-2v1m1,0v1m1,-1v1m1,-1v1m1,-2v1m1,-1v1m1,-2v1m1,-2v1m1,-2v1m1,-1v1m1,-2v1m1,-2v1m1,-1v1m1,0v1m1,-1v1m1,-1v2m1,0v2m1,0v3m1,0v2m1,0v2m1,0v1m1,0v2m1,0v1m1,0v1m1,0v1m1,0v1m1,0v1m1,0v1m1,0v1m1,0v1m1,0v1m1,0v1m1,0v1m1,0v1m1,0v1m1,0v1m1,0v1m1,0v2m1,0v1m1,0v1m1,0v2m1,0v2m1,0v2m1,0v1m1,0v1m1,0v1m1,0v1m1,0v1m1,0v1m1,0v1m1,0v1m1,0v1m1,0v1m1,-1v1m1,0v1m1,-1v1m1,-1v1m1,-2v1m1,-1v1m1,-2v1m1,0v1m1,-1v1m1,0v1m1,-1v1m1,0v1m1,0v1m1,-1v1m1,0v1m1,0v1m1,0v1m1,-1v1m1,0v1m1,0v1m1,0v1m1,-1v1m1,0v1m1,0v1m1,0v1m1,-1v1m1,0v1m1,0v2m1,0v1m1,0v2m1,0v1" stroke="#ffa500"/>
<path d="M0,357v1m1,-3v2m1,-4v2m1,-4v2m1,-3v1m1,-2v1m1,-3v2m1,-3v1m1,-2v1m1,-2v1m1,-1v1m1,-2v1m1,-2v1m1,-3v2m1,-4v2m1,-4v2m1,-3v1m1,-2v1m1,-2v1m1,-2v1m1,-2v1m1,-3v2m1,-3v1m1,-3v2m1,-3v1m1,-2v1m1,-1v1m1,-2v1m1,-2v1m1,-3v2m1,-4v2m1,-4v2m1,-3v1m1,-2v1m1,-2v1m1,-2v1m1,-2v1m1,-2v1m1,-3v2m1,-3v1m1,-2v1m1,-2v1m1,-1v1m1,-2v1m1,-2v1m1,-2v1m1,-1v1m1,-2v1m1,-2v1m1,-1v1m1,-1v1m1,-1v1m1,-1v1m1,0v2m1,0v1m1,0v2m1,0v2m1,0v3m1,0v2m1,0v3m1,0v2m1,0v1m1,-1v1m1,0v1m1,-1v1m1,0v1m1,0v1m1,-1v1m1,0v1m1,0v1m1,0v1m1,-1v1m1,0v1m1,-1v1m1,0v1m1,-1v1m1,-1v1m1,-1v1m1,-1v1m1,-1v1m1,-1v1m1,-2v1m1,-1v1m1,-2v1m1,-2v1m1,-3v2m1,-3v1m1,-3v2m1,-3v1m1,-2v1m1,-1v1m1,-2v1m1,-2v1m1,-2v1m1,-1v1m1,-2v1m1,-2v1m1,-1v1m1,0v1m1,-1v1m1,-1v1m1,-1v1m1,0v1m1,-1v1m1,-1v1m1,0v1m1,0v1m1,-1v1m1,0v1m1,0v1m1,0v1m1,0v1m1,0v1m1,0v1m1,0v1m1,-1v1m1,0v1m1,-1v1m1,-1v1m1,-1v1m1,-1v1m1,-1v1m1,-1v1m1,-1v1m1,-1v1m1,-2v1m1,-2v1m1,-2v1m1,-3v2m1,-4v2m1,-5v3m1,-5v2m1,-4v2m1,-4v2m1,-3v1m1,-3v2m1,-3v1m1,-2v1m1,-1v1m1,-2v1m1,-2v1m1,-2v1m1,-2v1m1,-2v1m1,-2v1m1,-2v1m1,-2v1m1,-2v1m1,-3v2m1,-4v2m1,-4v2m1,-4v2m1,-5v3m1,-5v2m1,-5v3m1,-5v2m1,-4v2m1,-4v2m1,-4v2m1,-4v2m1,-3v1m1,-3v2m1,-4v2m1,-4v2m1,-3v1m1,-3v2m1,-4v2m1,-4v2m1,-4v2m1,-4v2m1,-4v2m1,-4v2m1,-5v3m1,-5v2m1,-4v2m1,-4v2m1,-4v2m1,-3v1m1,-3v2m1,-3v1m1,-2v1m1,-1v1m1,-2v1m1,-1v1m1,-2v1m1,-1v1m1,-1v1m1,-2v1m1,-1v1m1,-1v1m1,-1v1m1,-2v1m1,-1v1m1,-3v2m1,-4v2m1,-4v2m1,-3v1m1,-2v1m1,-1v1m1,-2v1m1,-2v1m1,-2v1m1,-3v2m1,-3v1m1,-2v1m1,-3v2m1,-3v1m1,-3v2m1,-3v1m1,-2v1m1,-2v1m1,-2v1m1,-2v1m1,-2v1m1,-1v1m1,-2v1m1,-2v1m1,-2v1m1,-1v1m1,-2v1m1,-2v1m1,-1v1m1,-2v1m1,-1v1m1,-2v1m1,-2v1m1,-3v2m1,-3v1m1,-3v2m1,-5v3m1,-6v3m1,-6v3m1,-6v3m1,-6v3m1,-5v2m1,-5v3m1,-6v3m1,-6v3m1,-5v2m1,-5v3m1,-5v2m1,-4v2m1,-4v2m1,-4v2m1,-4v2m1,-3v1m1,-2v1m1,-2v1m1,-2v1m1,-1v1m1,-2v1m1,-1v1m1,-2v1m1,-2v1m1,-1v1m1,-2v1m1,-2v1m1,-2v1m1,-1v1m1,-2v1m1,-2v1m1,-2v1m1,-2v1m1,-2v1m1,-2v1m1,-3v2m1,-3v1m1,-3v2m1,-3v1m1,-2v1m1,-2v1m1,-2v1m1,-2v1m1,-2v1m1,-3v2m1,-3v1m1,-2v1m1,-2v1m1,-3v2m1,-3v1m1,-2v1m1,-2v1m1,-3v2m1,-3v1m1,-2v1m1,-2v1m1,-1v1m1,-2v1m1,-2v1m1,-1v1m1,-2v1m1,-1v1m1,-2v1m1,-1v1m1,-2v1m1,-1v1m1,-2v1m1,-2v1m1,-1v1m1,-2v1m1,-2v1m1,-3v2m1,-3v1m1,-3v2m1,-3v1m1,-3v2m1,-3v1m1,-3v2m1,-3v1m1,-2v1m1,-2v1m1,-2v1m1,-2v1m1,-1v1m1,-2v1m1,-1v1m1,-2v1m1,-1v1m1,-1v1m1,-2v1m1,-1v1m1,-2v1m1,-1v1m1,-2v1m1,-2v1m1,-1v1m1,0v1m1,-1v1m1,-1v1m1,0v1m1,0v1m1,0v1m1,0v1m1,0v1m1,0v1m1,-1v1m1,0v1m1,0v2m1,0v2m1,0v2m1,0v2m1,0v1m1,0v1m1,0v1m1,0v1m1,0v2m1,0v1m1,0v2m1,0v1m1,0v2m1,0v2m1,0v2m1,0v3m1,0v2m1,0v2m1,0v2m1,0v2m1,0v2m1,0v2m1,0v2m1,0v1m1,0v2m1,0v2m1,0v2m1,0v2m1,0v2m1,0v1m1,0v2m1,0v2m1,0v2m1,0v3m1,0v2m1,0v2m1,0v2m1,0v2m1,0v2m1,0v1m1,0v2m1,0v2m1,0v2m1,0v1m1,0v2m1,0v2m1,0v2m1,0v2m1,0v1m1,0v1m1,0v1m1,0v1m1,0v1m1,0v2m1,0v1m1,0v1m1,0v1m1,0v1m1,-1v1m1,0v1m1,0v1m1,0v1m1,-1v1m1,0v1m1,0v1m1,0v1m1,-1v1m1,0v1m1,0v1m1,-1v1m1,0v1m1,-1v1m1,0v1m1,0v1m1,0v1m1,0v1m1,-1v1m1,0v1m1,-1v1m1,-1v1m1,-1v1m1,-2v1m1,-1v1m1,-2v1m1,-1v1m1,0v1m1,-1v1m1,-1v1m1,-1v1m1,-1v1m1,-1v1m1,-1v1m1,0v1m1,-1v1m1,0v1m1,-1v1m1,-2v1m1,-3v2m1,-3v1m1,-2v1m1,-1v1m1,-2v1m1,-1v1m1,-2v1m1,0v1m1,-1v1m1,0v1m1,-1v1m1,0v2m1,0v1m1,0v2m1,0v1m1,0v1m1,0v1m1,0v1m1,0v1m1,-1v1m1,0v1m1,-1v1m1,-1v1m1,-1v1m1,-1v1m1,-2v1m1,-1v1m1,-1v1m1,-1v1m1,-1v1m1,-1v1m1,0v2m1,0v2m1,0v2m1,0v3m1,0v3m1,0v2m1,0v3m1,0v3m1,0v3m1,0v2m1,0v3m1,0v2m1,0v2m1,0v2m1,0v2m1,0v2m1,0v2m1,0v2m1,0v2m1,0v3m1,0v2m1,0v2m1,0v2m1,0v2m1,0v2m1,0v1m1,0v2m1,0v1m1,0v1m1,0v1m1,-1v1m1,0v1m1,0v1m1,0v1m1,-1v1m1,0v1m1,-1v1m1,0v1m1,-1v1m1,-1v1m1,-2v1m1,-1v1m1,-2v1m1,-2v1m1,-1v1m1,-2v1m1,-1v1m1,-2v1m1,-1v1m1,-1v1m1,-2v1m1,-1v1m1,-2v1m1,-2v1m1,-2v1m1,-2v1m1,-2v1m1,-1v1m1,-2v1m1,-2v1m1,-2v1m1,-1v1m1,-2v1m1,-2v1m1,-3v2m1,-4v2m1,-4v2m1,-5v3m1,-5v2m1,-4v2m1,-4v2m1,-4v2m1,-4v2m1,-4v2m1,-4v2m1,-4v2m1,-4v2m1,-4v2m1,-4v2m1,-4v2m1,-4v2m1,-3v1m1,-3v2m1,-3v1m1,-2v1m1,-1v1m1,-2v1m1,-2v1m1,-2v1m1,-1v1m1,-2v1m1,-2v1m1,-2v1m1,-2v1m1,-2v1m1,-2v1m1,-3v2m1,-3v1m1,-3v2m1,-3v1m1,-1v1m1,-2v1m1,-1v1m1,-2v1m1,-2v1m1,-2v1m1,-2v1m1,-2v1m1,-1v1m1,-1v1m1,-2v1m1,-1v1m1,-2v1m1,-1v1m1,-2v1m1,-2v1m1,-2v1m1,-2v1m1,-2v1m1,-2v1m1,-1v1m1,0v1m1,-1v1m1,-1v1m1,0v1m1,0v1m1,-1v1m1,0v1m1,0v1m1,-1v1m1,0v1m1,-1v1m1,-1v1m1,-1v1m1,-1v1m1,-1v1m1,0v1m1,0v1m1,-1v1m1,0v1m1,-1v1m1,-1v1m1,-2v1m1,-1v1m1,-1v1m1,-1v1m1,-2v1m1,-1v1m1,-1v1m1,-1v1m1,-2v1m1,-1v1m1,-1v1m1,-1v1m1,-1v1m1,-1v1m1,-1v1m1,0v1m1,-1v1m1,-1v1m1,-1v1m1,-1v1m1,-1v1m1,-1v1m1,-1v1m1,0v1m1,-1v1m1,-1v1m1,-1v1m1,-2v1m1,-1v1m1,-2v1m1,-2v1m1,-1v1m1,-2v1m1,-2v1m1,-2v1m1,-1v1m1,-2v1m1,-2v1m1,-1v1m1,-1v1m1,-1v1m1,-1v1m1,-1v1m1,-2v1m1,-1v1m1,-2v1m1,0v1m1,0v1m1,0v1m1,0v1m1,0v1m1,0v2m1,0v1m1,0v1m1,0v1m1,0v1m1,0v1m1,0v1m1,0v1m1,0v1m1,0v1m1,0v1m1,0v1m1,0v2m1,0v1m1,0v1m1,0v2m1,0v2m1,0v2m1,0v1m1,0v2m1,0v2m1,0v2m1,0v1m1,-1v1m1,0v1m1,-1v1m1,-1v1m1,0v1m1,-1v1m1,0v1m1,-1v1m1,-1v1m1,-1v1m1,-1v1m1,-1v1m1,-1v1m1,-2v1m1,-1v1m1,-2v1m1,-2v1m1,-2v1m1,-2v1m1,-2v1m1,-1v1m1,0v1m1,-1v1m1,-1v1m1,-2v1m1,-2v1m1,-2v1m1,-2v2m1,0v2m1,0v3m1,0v2m1,0v2m1,0v2m1,0v2m1,0v2m1,0v1m1,0v1m1,0v1m1,-1v1m1,0v1m1,0v1m1,-1v1m1,0v1m1,-1v1m1,0v1m1,0v2m1,0v1m1,0v1m1,0v1m1,0v2m1,0v1m1,0v3m1,0v5m1,0v4m1,0v5m1,0v5m1,0v5m1,0v4m1,0v5m1,0v3m1,0v2m1,0v2m1,0v2m1,0v2m1,0v2m1,0v1m1,0v2m1,0v1m1,0v1m1,0v2m1,0v1m1,0v1m1,0v2m1,0v2m1,0v2m1,0v1m1,0v1m1,-1v1m1,0v1m1,-1v1m1,0v1m1,0v2m1,0v1m1,0v1m1,0v1m1,0v1m1,-1v1m1,0v2m1,0v3m1,0v2m1,0v3m1,0v3m1,0v4m1,0v4m1,0v4m1,0v3m1,0v4m1,0v4m1,0v4m1,0v2m1,0v1m1,0v1m1,0v1m1,0v1m1,0v1m1,0v1m1,0v1m1,0v1m1,0v1m1,0v1m1,-1v1m1,0v1m1,-2v1m1,-1v1m1,-2v1m1,-2v1m1,-2v1m1,-2v1m1,-2v1m1,-2v1m1,-1v1m1,-1v1m1,-1v1m1,-1v1m1,-1v1m1,-2v1m1,-1v1m1,-2v1m1,-1v1m1,-1v1m1,-2v1m1,-1v1m1,0v1m1,0v1m1,0v1m1,0v1m1,0v1m1,0v1m1,-1v1m1,0v1m1,-1v1m1,-1v1m1,-2v1m1,-1v1m1,-1v1m1,0v1m1,-1v1m1,-1v1m1,0v1m1,-1v1m1,0v1m1,-1v1m1,0v1m1,0v1m1,-1v1m1,0v1m1,0v1m1,0v1m1,0v1m1,0v1m1,0v1m1,0v2m1,0v1m1,0v1m1,0v2m1,0v2m1,0v2m1,0v2m1,0v1m1,0v1m1,0v1m1,0v1m1,-1v1m1,-1v1m1,-1v1m1,-1v1m1,-1v1m1,-1v1m1,-2v1m1,-1v1m1,-2v1m1,-1v1m1,-2v1m1,-2v1m1,-2v1m1,-1v1m1,-2v1m1,-2v1m1,-1v1m1,-1v1m1,-2v1m1,-1v1m1,-1v1m1,-1v1m1,-1v1m1,-1v1m1,-2v1m1,-2v1m1,-2v1m1,-2v1m1,-2v1m1,-2v1m1,-2v1m1,-2v1m1,-3v2m1,-3v1m1,-3v2m1,-3v1m1,-1v1m1,-1v1m1,-1v1m1,-1v1m1,0v1m1,0v1m1,-1v1m1,0v1m1,-1v1m1,0v1m1,-1v1m1,-1v1m1,0v1m1,-1v1m1,0v1m1,-1v1m1,0v1m1,-1v1m1,0v1m1,-1v1m1,-1v1m1,-1v1m1,-1v1m1,-1v1m1,-1v1m1,-1v1m1,-1v1m1,-1v1m1,-1v1m1,-1v1m1,-1v1m1,-1v1m1,-1v1m1,0v1m1,-1v1m1,-1v1m1,-1v1m1,-1v1m1,-2v1m1,-1v1m1,-1v1m1,0v1m1,-1v1m1,-1v1m1,-1v1m1,0v1m1,-1v1m1,-1v1m1,0v1m1,-1v1m1,0v1m1,-1v1m1,-2v1m1,-1v1m1,-2v1m1,-2v1m1,-1v1m1,-2v1m1,-1v1m1,-2v1m1,-2v1m1,-1v1m1,-2v1m1,-2v1m1,-2v1m1,-1v1m1,-2v1m1,-2v1m1,-2v1m1,-1v1m1,-2v1m1,-2v1m1,-1v1m1,-1v1m1,-1v1m1,-1v1m1,-1v1m1,0v1m1,-1v1m1,-1v1m1,-2v1m1,-2v1m1,-2v1m1,-2v1m1,-1v1m1,-1v1m1,-2v1m1,-1v1m1,-1v1m1,-1v1m1,-2v1m1,-1v1m1,-3v2m1,-3v1m1,-3v2m1,-3v1m1,-2v1m1,-3v2m1,-3v1m1,-2v1m1,-3v2m1,-4v2m1,-4v2m1,-3v1m1,-3v2m1,-4v2m1,-4v2m1,-3v1m1,-3v2m1,-4v2m1,-4v2m1,-4v2m1,-4v2m1,-3v1m1,-3v2m1,-3v1m1,-3v2m1,-4v2m1,-4v2m1,-3v1m1,-3v2m1,-4v2m1,-4v2m1,-3v1m1,-2v1m1,-1v1m1,-2v1m1,-2v1m1,-1v1m1,-2v1m1,-1v1m1,-3v2m1,-4v2m1,-5v3m1,-5v2m1,-5v3m1,-5v2m1,-5v3m1,-5v2m1,-5v3m1,-5v2m1,-5v3m1,-5v2m1,-5v3m1,-5v2m1,-4v2m1,-4v2m1,-4v2m1,-4v2m1,-4v2m1,-4v2m1,-4v2m1,-4v2m1,-4v2m1,-4v2m1,-4v2m1,-4v2m1,-5v3m1,-5v2m1,-4v2m1,-2v1m1,-1v1m1,-1v1m1,-1v1m1,-2v1m1,-1v1m1,-2v1m1,-2v1m1,-2v1m1,-2v1m1,-2v1m1,-2v1m1,-1v1m1,0v1m1,-1v1m1,-1v1m1,0v2m1,0v2m1,0v2m1,0v2m1,0v1m1,0v1m1,0v1m1,0v1m1,0v1m1,0v1m1,0v1m1,0v1m1,0v1m1,-1v1m1,0v1m1,-1v1m1,0v1m1,0v1m1,0v1m1,0v1m1,0v1m1,0v2m1,0v1m1,0v1m1,0v1m1,0v2m1,0v1m1,0v1m1,0v1m1,0v2m1,0v1m1,0v1m1,0v1m1,0v1m1,-1v1m1,0v1m1,0v1m1,-1v1m1,0v1m1,-1v1m1,-1v1m1,-1v1m1,-2v1m1,-1v1m1,-1v1m1,0v1m1,-1v1m1,-1v1m1,0v1m1,0v1m1,-1v1m1,0v1m1,0v1m1,0v1m1,0v1m1,0v1m1,0v1m1,-1v1m1,0v1m1,-1v1m1,0v1m1,0v1m1,-1v1m1,0v1m1,0v1m1,0v2m1,0v1m1,0v1" stroke="#ffa500"/>
<path d="M0,362v1m1,-3v2m1,-4v2m1,-4v2m1,-3v1m1,-2v1m1,-3v2m1,-3v1m1,-2v1m1,-2v1m1,-1v1m1,-2v1m1,-2v1m1,-3v2m1,-4v2m1,-4v2m1,-3v1m1,-2v1m1,-2v1m1,-2v1m1,-2v1m1,-3v2m1,-3v1m1,-3v2m1,-3v1m1,-2v1m1,-1v1m1,-2v1m1,-2v1m1,-3v2m1,-4v2m1,-4v2m1,-3v1m1,-2v1m1,-2v1m1,-2v1m1,-2v1m1,-2v1m1,-3v2m1,-3v1m1,-2v1m1,-2v1m1,-1v1m1,-2v1m1,-2v1m1,-2v1m1,-2v1m1,-2v1m1,-2v1m1,-1v1m1,-1v1m1,-1v1m1,-1v1m1,0v1m1,0v2m1,0v1m1,0v2m1,0v2m1,0v2m1,0v2m1,0v2m1,0v1m1,-1v1m1,0v1m1,-1v1m1,0v1m1,0v1m1,-1v1m1,0v1m1,0v1m1,-1v1m1,0v1m1,-1v1m1,-1v1m1,0v1m1,-1v1m1,-1v1m1,-1v1m1,-1v1m1,-1v1m1,-1v1m1,-2v1m1,-1v1m1,-2v1m1,-2v1m1,-2v1m1,-3v2m1,-3v1m1,-2v1m1,-2v1m1,-1v1m1,-2v1m1,-2v1m1,-2v1m1,-1v1m1,-2v1m1,-2v1m1,-1v1m1,0v1m1,-1v1m1,-1v1m1,-1v1m1,0v1m1,-1v1m1,-1v1m1,0v1m1,-1v1m1,0v1m1,-1v1m1,0v1m1,0v1m1,0v1m1,0v1m1,0v1m1,-1v1m1,0v1m1,-1v1m1,-1v1m1,0v1m1,-1v1m1,-1v1m1,-1v1m1,-1v1m1,-2v1m1,-1v1m1,-2v1m1,-1v1m1,-2v1m1,-2v1m1,-3v2m1,-4v2m1,-4v2m1,-4v2m1,-4v2m1,-3v1m1,-3v2m1,-3v1m1,-2v1m1,-1v1m1,-2v1m1,-2v1m1,-2v1m1,-2v1m1,-2v1m1,-2v1m1,-2v1m1,-2v1m1,-2v1m1,-2v1m1,-3v2m1,-4v2m1,-4v2m1,-5v3m1,-5v2m1,-4v2m1,-4v2m1,-4v2m1,-4v2m1,-4v2m1,-4v2m1,-3v1m1,-3v2m1,-4v2m1,-4v2m1,-3v1m1,-3v2m1,-4v2m1,-4v2m1,-3v1m1,-3v2m1,-4v2m1,-4v2m1,-5v3m1,-5v2m1,-4v2m1,-4v2m1,-4v2m1,-3v1m1,-2v1m1,-2v1m1,-2v1m1,-2v1m1,-1v1m1,-2v1m1,-2v1m1,-1v1m1,-1v1m1,-2v1m1,-1v1m1,-1v1m1,-2v1m1,-1v1m1,-2v1m1,-3v2m1,-3v1m1,-3v2m1,-3v1m1,-2v1m1,-2v1m1,-2v1m1,-2v1m1,-2v1m1,-3v2m1,-3v1m1,-2v1m1,-3v2m1,-3v1m1,-3v2m1,-3v1m1,-2v1m1,-2v1m1,-2v1m1,-2v1m1,-2v1m1,-1v1m1,-2v1m1,-2v1m1,-2v1m1,-1v1m1,-2v1m1,-2v1m1,-1v1m1,-2v1m1,-1v1m1,-2v1m1,-2v1m1,-2v1m1,-2v1m1,-3v2m1,-5v3m1,-6v3m1,-6v3m1,-6v3m1,-5v2m1,-5v3m1,-5v2m1,-5v3m1,-6v3m1,-5v2m1,-5v3m1,-5v2m1,-4v2m1,-4v2m1,-4v2m1,-3v1m1,-2v1m1,-3v2m1,-3v1m1,-2v1m1,-1v1m1,-2v1m1,-1v1m1,-2v1m1,-2v1m1,-1v1m1,-2v1m1,-2v1m1,-2v1m1,-2v1m1,-2v1m1,-2v1m1,-2v1m1,-2v1m1,-2v1m1,-2v1m1,-3v2m1,-3v1m1,-3v2m1,-3v1m1,-2v1m1,-2v1m1,-2v1m1,-2v1m1,-2v1m1,-3v2m1,-3v1m1,-2v1m1,-2v1m1,-3v2m1,-3v1m1,-2v1m1,-2v1m1,-3v2m1,-3v1m1,-2v1m1,-2v1m1,-2v1m1,-2v1m1,-2v1m1,-1v1m1,-2v1m1,-1v1m1,-2v1m1,-1v1m1,-2v1m1,-1v1m1,-2v1m1,-2v1m1,-1v1m1,-2v1m1,-2v1m1,-3v2m1,-3v1m1,-3v2m1,-3v1m1,-2v1m1,-3v2m1,-3v1m1,-2v1m1,-2v1m1,-3v2m1,-3v1m1,-2v1m1,-1v1m1,-2v1m1,-1v1m1,-2v1m1,-1v1m1,-1v1m1,-2v1m1,-1v1m1,-2v1m1,-1v1m1,-2v1m1,-2v1m1,-1v1m1,-1v1m1,-1v1m1,-1v1m1,0v1m1,0v1m1,-1v1m1,0v1m1,0v1m1,0v1m1,-1v1m1,0v1m1,0v2m1,0v1m1,0v2m1,0v1m1,0v1m1,0v2m1,0v1m1,0v1m1,0v1m1,0v2m1,0v1m1,0v1m1,0v2m1,0v2m1,0v2m1,0v1m1,0v2m1,0v2m1,0v2m1,0v1m1,0v2m1,0v2m1,0v2m1,0v1m1,0v2m1,0v2m1,0v2m1,0v2m1,0v2m1,0v1m1,0v2m1,0v2m1,0v2m1,0v2m1,0v2m1,0v2m1,0v2m1,0v2m1,0v2m1,0v1m1,0v2m1,0v1m1,0v2m1,0v1m1,0v2m1,0v2m1,0v2m1,0v2m1,0v1m1,0v1m1,0v1m1,0v1m1,0v1m1,0v2m1,0v1m1,0v1m1,0v1m1,0v1m1,-1v1m1,0v1m1,0v1m1,0v1m1,-1v1m1,0v1m1,0v1m1,0v1m1,0v1m1,0v1m1,0v1m1,-1v1m1,0v1m1,-1v1m1,0v1m1,0v1m1,0v1m1,0v1m1,-1v1m1,0v1m1,-1v1m1,-1v1m1,-1v1m1,-1v1m1,-2v1m1,-1v1m1,-1v1m1,0v1m1,-1v1m1,-1v1m1,-1v1m1,0v1m1,-1v1m1,-1v1m1,-1v1m1,0v1m1,-1v1m1,-1v1m1,-2v1m1,-1v1m1,-2v1m1,-2v1m1,-1v1m1,-2v1m1,-1v1m1,-2v1m1,0v1m1,-1v1m1,0v1m1,-1v1m1,0v1m1,0v2m1,0v1m1,0v1m1,0v1m1,0v1m1,0v1m1,0v1m1,-1v1m1,0v1m1,-1v1m1,-1v1m1,-1v1m1,-1v1m1,-1v1m1,-1v1m1,-1v1m1,-1v1m1,-2v1m1,-1v1m1,0v2m1,0v2m1,0v2m1,0v3m1,0v2m1,0v3m1,0v2m1,0v3m1,0v2m1,0v3m1,0v2m1,0v2m1,0v2m1,0v2m1,0v2m1,0v2m1,0v2m1,0v2m1,0v2m1,0v1m1,0v2m1,0v2m1,0v2m1,0v2m1,0v2m1,0v1m1,0v2m1,0v1m1,0v1m1,0v1m1,0v1m1,0v1m1,0v1m1,0v1m1,-1v1m1,0v1m1,-1v1m1,0v1m1,-1v1m1,-1v1m1,-1v1m1,-2v1m1,-1v1m1,-2v1m1,-1v1m1,-1v1m1,-2v1m1,-1v1m1,-1v1m1,-1v1m1,-2v1m1,-1v1m1,-2v1m1,-1v1m1,-2v1m1,-2v1m1,-1v1m1,-2v1m1,-1v1m1,-2v1m1,-2v1m1,-1v1m1,-2v1m1,-2v1m1,-3v2m1,-4v2m1,-4v2m1,-3v1m1,-3v2m1,-4v2m1,-4v2m1,-3v1m1,-3v2m1,-4v2m1,-4v2m1,-4v2m1,-4v2m1,-4v2m1,-4v2m1,-3v1m1,-3v2m1,-3v1m1,-3v2m1,-3v1m1,-2v1m1,-1v1m1,-2v1m1,-2v1m1,-2v1m1,-1v1m1,-2v1m1,-2v1m1,-2v1m1,-2v1m1,-2v1m1,-2v1m1,-2v1m1,-3v2m1,-3v1m1,-2v1m1,-2v1m1,-1v1m1,-2v1m1,-2v1m1,-2v1m1,-2v1m1,-2v1m1,-2v1m1,-1v1m1,-1v1m1,-2v1m1,-1v1m1,-2v1m1,-1v1m1,-2v1m1,-2v1m1,-2v1m1,-2v1m1,-2v1m1,-2v1m1,-1v1m1,0v1m1,-1v1m1,-1v1m1,0v1m1,-1v1m1,0v1m1,-1v1m1,-1v1m1,0v1m1,-1v1m1,-1v1m1,-1v1m1,0v1m1,-1v1m1,-1v1m1,0v1m1,-1v1m1,0v1m1,-1v1m1,-1v1m1,-1v1m1,-2v1m1,-1v1m1,-1v1m1,-1v1m1,-2v1m1,-1v1m1,-1v1m1,-1v1m1,-2v1m1,-1v1m1,-1v1m1,-1v1m1,-1v1m1,-1v1m1,-1v1m1,0v1m1,-1v1m1,-1v1m1,-1v1m1,-1v1m1,-1v1m1,-1v1m1,-1v1m1,-1v1m1,-1v1m1,-1v1m1,-1v1m1,-1v1m1,-2v1m1,-1v1m1,-2v1m1,-1v1m1,-2v1m1,-2v1m1,-2v1m1,-1v1m1,-2v1m1,-2v1m1,-1v1m1,-1v1m1,-1v1m1,-1v1m1,-1v1m1,-1v1m1,-2v1m1,-1v1m1,0v1m1,0v1m1,-1v1m1,0v1m1,0v1m1,0v1m1,-1v1m1,0v1m1,0v1m1,0v1m1,0v1m1,0v1m1,0v1m1,0v1m1,0v1m1,0v1m1,0v1m1,0v2m1,0v1m1,0v1m1,0v2m1,0v1m1,0v2m1,0v1m1,0v2m1,0v1m1,0v2m1,0v1m1,0v1m1,-1v1m1,0v1m1,-1v1m1,0v1m1,-1v1m1,0v1m1,-1v1m1,-1v1m1,-1v1m1,-1v1m1,-1v1m1,-1v1m1,-2v1m1,-1v1m1,-2v1m1,-2v1m1,-1v1m1,-2v1m1,-2v1m1,-1v1m1,0v1m1,-1v1m1,-1v1m1,-2v1m1,-1v1m1,-2v1m1,-2v1m1,0v2m1,0v2m1,0v2m1,0v2m1,0v2m1,0v1m1,0v2m1,0v1m1,0v1m1,0v1m1,0v1m1,0v1m1,0v1m1,-1v1m1,0v1m1,-1v1m1,0v1m1,0v2m1,0v1m1,0v1m1,0v1m1,0v1m1,0v1m1,0v3m1,0v4m1,0v5m1,0v4m1,0v5m1,0v4m1,0v4m1,0v4m1,0v3m1,0v2m1,0v2m1,0v2m1,0v2m1,0v1m1,0v2m1,0v1m1,0v1m1,0v2m1,0v1m1,0v2m1,0v1m1,0v2m1,0v1m1,0v2m1,0v1m1,0v1m1,0v1m1,0v1m1,0v1m1,0v1m1,0v1m1,0v1m1,0v1m1,0v1m1,0v1m1,0v1m1,0v2m1,0v2m1,0v3m1,0v2m1,0v3m1,0v4m1,0v3m1,0v4m1,0v3m1,0v4m1,0v3m1,0v4m1,0v2m1,0v1m1,0v1m1,0v1m1,0v1m1,0v1m1,0v2m1,0v1m1,0v1m1,0v1m1,0v1m1,-1v1m1,0v1m1,-1v1m1,-2v1m1,-1v1m1,-2v1m1,-1v1m1,-2v1m1,-1v1m1,-2v1m1,-1v1m1,-1v1m1,-1v1m1,-1v1m1,-1v1m1,-1v1m1,-2v1m1,-1v1m1,-1v1m1,-1v1m1,-2v1m1,-1v1m1,0v1m1,0v1m1,0v1m1,0v1m1,0v1m1,0v1m1,-1v1m1,0v1m1,-1v1m1,-1v1m1,-1v1m1,-1v1m1,-1v1m1,-1v1m1,-1v1m1,-1v1m1,0v1m1,0v1m1,-1v1m1,0v1m1,0v1m1,0v1m1,-1v1m1,0v1m1,0v1m1,0v1m1,-1v1m1,0v1m1,0v1m1,0v2m1,0v1m1,0v1m1,0v2m1,0v2m1,0v2m1,0v2m1,0v1m1,0v1m1,-1v1m1,0v1m1,-1v1m1,0v1m1,-1v1m1,-1v1m1,-1v1m1,-1v1m1,-2v1m1,-1v1m1,-1v1m1,-2v1m1,-1v1m1,-2v1m1,-1v1m1,-2v1m1,-1v1m1,-2v1m1,-1v1m1,-1v1m1,-2v1m1,-1v1m1,-1v1m1,-1v1m1,-1v1m1,-1v1m1,-2v1m1,-1v1m1,-2v1m1,-2v1m1,-2v1m1,-2v1m1,-2v1m1,-2v1m1,-2v1m1,-3v2m1,-3v1m1,-2v1m1,-1v1m1,-1v1m1,-2v1m1,-1v1m1,0v1m1,0v1m1,-1v1m1,0v1m1,-1v1m1,0v1m1,-1v1m1,-1v1m1,0v1m1,-1v1m1,0v1m1,-1v1m1,0v1m1,-1v1m1,0v1m1,-1v1m1,-1v1m1,-1v1m1,-1v1m1,-1v1m1,-1v1m1,-1v1m1,-1v1m1,-1v1m1,-1v1m1,-1v1m1,-1v1m1,-1v1m1,-1v1m1,0v1m1,-1v1m1,-1v1m1,-1v1m1,-1v1m1,-2v1m1,-1v1m1,-1v1m1,0v1m1,-1v1m1,-1v1m1,-1v1m1,0v1m1,-1v1m1,-1v1m1,0v1m1,-1v1m1,0v1m1,-1v1m1,-2v1m1,-1v1m1,-2v1m1,-2v1m1,-1v1m1,-2v1m1,-1v1m1,-2v1m1,-2v1m1,-1v1m1,-2v1m1,-2v1m1,-1v1m1,-2v1m1,-1v1m1,-2v1m1,-2v1m1,-1v1m1,-2v1m1,-2v1m1,-1v1m1,-1v1m1,-2v1m1,-1v1m1,0v1m1,-1v1m1,0v1m1,-1v1m1,-2v1m1,-2v1m1,-2v1m1,-2v1m1,-1v1m1,-1v1m1,-2v1m1,-1v1m1,-1v1m1,-1v1m1,-2v1m1,-1v1m1,-2v1m1,-3v2m1,-3v1m1,-2v1m1,-2v1m1,-3v2m1,-3v1m1,-2v1m1,-3v2m1,-3v1m1,-3v2m1,-3v1m1,-3v2m1,-4v2m1,-4v2m1,-3v1m1,-3v2m1,-4v2m1,-4v2m1,-3v1m1,-3v2m1,-3v1m1,-3v2m1,-3v1m1,-3v2m1,-4v2m1,-4v2m1,-3v1m1,-3v2m1,-4v2m1,-4v2m1,-3v1m1,-1v1m1,-2v1m1,-1v1m1,-2v1m1,-2v1m1,-1v1m1,-2v1m1,-3v2m1,-4v2m1,-5v3m1,-5v2m1,-5v3m1,-5v2m1,-4v2m1,-4v2m1,-5v3m1,-5v2m1,-4v2m1,-4v2m1,-5v3m1,-5v2m1,-4v2m1,-4v2m1,-4v2m1,-4v2m1,-4v2m1,-4v2m1,-3v1m1,-3v2m1,-4v2m1,-4v2m1,-5v3m1,-5v2m1,-4v2m1,-4v2m1,-4v2m1,-2v1m1,-1v1m1,-2v1m1,-1v1m1,-2v1m1,-1v1m1,-2v1m1,-2v1m1,-2v1m1,-2v1m1,-2v1m1,-2v1m1,-1v1m1,-1v1m1,-2v1m1,-1v1m1,0v2m1,0v2m1,0v2m1,0v2m1,0v1m1,0v1m1,-1v1m1,0v1m1,0v1m1,0v1m1,-1v1m1,0v1m1,0v1m1,-1v1m1,0v1m1,-1v1m1,0v1m1,0v1m1,-1v1m1,0v1m1,0v1m1,0v1m1,0v1m1,0v1m1,0v1m1,0v2m1,0v1m1,0v1m1,0v1m1,0v1m1,0v1m1,0v1m1,0v1m1,-1v1m1,0v1m1,-1v1m1,0v1m1,-1v1m1,0v1m1,-1v1m1,-1v1m1,-1v1m1,-1v1m1,-1v1m1,-1v1m1,0v1m1,-1v1m1,-1v1m1,0v1m1,0v1m1,-1v1m1,0v1m1,0v1m1,0v1m1,-1v1m1,0v1m1,0v1m1,-1v1m1,0v1m1,-1v1m1,0v1m1,0v1m1,-1v1m1,0v1m1,0v1m1,0v2m1,0v1m1,0v1" stroke="#ffa500"/>
<path d="M0,368v1m1,-3v2m1,-4v2m1,-4v2m1,-3v1m1,-2v1m1,-3v2m1,-3v1m1,-2v1m1,-2v1m1,-1v1m1,-2v1m1,-2v1m1,-3v2m1,-4v2m1,-4v2m1,-3v1m1,-2v1m1,-2v1m1,-2v1m1,-2v1m1,-2v1m1,-3v2m1,-3v1m1,-2v1m1,-2v1m1,-2v1m1,-2v1m1,-2v1m1,-3v2m1,-3v1m1,-3v2m1,-3v1m1,-2v1m1,-3v2m1,-3v1m1,-2v1m1,-2v1m1,-3v2m1,-3v1m1,-2v1m1,-2v1m1,-1v1m1,-2v1m1,-2v1m1,-2v1m1,-2v1m1,-2v1m1,-2v1m1,-1v1m1,-1v1m1,-1v1m1,-1v1m1,0v1m1,0v1m1,-1v1m1,0v1m1,0v2m1,0v2m1,0v2m1,0v2m1,-1v1m1,0v1m1,-1v1m1,-1v1m1,0v1m1,-1v1m1,0v1m1,-1v1m1,0v1m1,-1v1m1,0v1m1,-1v1m1,-1v1m1,0v1m1,-1v1m1,-1v1m1,-1v1m1,-1v1m1,-1v1m1,-1v1m1,-2v1m1,-1v1m1,-2v1m1,-2v1m1,-2v1m1,-2v1m1,-2v1m1,-2v1m1,-2v1m1,-1v1m1,-2v1m1,-2v1m1,-2v1m1,-1v1m1,-2v1m1,-2v1m1,-1v1m1,0v1m1,-1v1m1,-1v1m1,-1v1m1,0v1m1,-1v1m1,-1v1m1,-1v1m1,0v1m1,-1v1m1,-1v1m1,0v1m1,0v1m1,0v1m1,0v1m1,0v1m1,-1v1m1,0v1m1,-1v1m1,-1v1m1,-1v1m1,-1v1m1,-1v1m1,-1v1m1,-1v1m1,-2v1m1,-1v1m1,-2v1m1,-1v1m1,-2v1m1,-2v1m1,-3v2m1,-4v2m1,-4v2m1,-3v1m1,-2v1m1,-3v2m1,-3v1m1,-2v1m1,-2v1m1,-1v1m1,-2v1m1,-2v1m1,-2v1m1,-1v1m1,-2v1m1,-2v1m1,-2v1m1,-2v1m1,-2v1m1,-2v1m1,-3v2m1,-4v2m1,-4v2m1,-4v2m1,-4v2m1,-4v2m1,-4v2m1,-4v2m1,-4v2m1,-3v1m1,-3v2m1,-3v1m1,-3v2m1,-4v2m1,-4v2m1,-3v1m1,-3v2m1,-3v1m1,-3v2m1,-3v1m1,-3v2m1,-4v2m1,-4v2m1,-4v2m1,-4v2m1,-4v2m1,-4v2m1,-4v2m1,-3v1m1,-3v2m1,-3v1m1,-2v1m1,-2v1m1,-1v1m1,-2v1m1,-2v1m1,-1v1m1,-2v1m1,-1v1m1,-2v1m1,-1v1m1,-2v1m1,-1v1m1,-2v1m1,-3v2m1,-3v1m1,-3v2m1,-3v1m1,-2v1m1,-1v1m1,-2v1m1,-2v1m1,-2v1m1,-3v2m1,-3v1m1,-2v1m1,-3v2m1,-3v1m1,-3v2m1,-3v1m1,-2v1m1,-2v1m1,-2v1m1,-2v1m1,-2v1m1,-2v1m1,-2v1m1,-2v1m1,-1v1m1,-2v1m1,-1v1m1,-2v1m1,-2v1m1,-1v1m1,-2v1m1,-2v1m1,-2v1m1,-2v1m1,-2v1m1,-3v2m1,-5v3m1,-5v2m1,-5v3m1,-6v3m1,-5v2m1,-5v3m1,-5v2m1,-5v3m1,-5v2m1,-5v3m1,-5v2m1,-4v2m1,-4v2m1,-4v2m1,-4v2m1,-3v1m1,-2v1m1,-2v1m1,-2v1m1,-2v1m1,-2v1m1,-1v1m1,-2v1m1,-2v1m1,-2v1m1,-2v1m1,-2v1m1,-2v1m1,-2v1m1,-1v1m1,-2v1m1,-2v1m1,-2v1m1,-3v2m1,-3v1m1,-2v1m1,-2v1m1,-3v2m1,-3v1m1,-2v1m1,-2v1m1,-3v2m1,-3v1m1,-2v1m1,-2v1m1,-3v2m1,-3v1m1,-2v1m1,-2v1m1,-2v1m1,-2v1m1,-2v1m1,-2v1m1,-3v2m1,-3v1m1,-2v1m1,-2v1m1,-2v1m1,-2v1m1,-2v1m1,-2v1m1,-1v1m1,-2v1m1,-2v1m1,-2v1m1,-1v1m1,-2v1m1,-2v1m1,-2v1m1,-1v1m1,-2v1m1,-2v1m1,-2v1m1,-3v2m1,-3v1m1,-2v1m1,-3v2m1,-3v1m1,-3v2m1,-3v1m1,-2v1m1,-2v1m1,-2v1m1,-2v1m1,-2v1m1,-1v1m1,-2v1m1,-2v1m1,-1v1m1,-1v1m1,-2v1m1,-1v1m1,-2v1m1,-2v1m1,-2v1m1,-2v1m1,-1v1m1,0v1m1,-1v1m1,-1v1m1,0v1m1,-1v1m1,0v1m1,-1v1m1,0v1m1,-1v1m1,0v1m1,-1v1m1,0v1m1,0v2m1,0v1m1,0v1m1,0v1m1,0v1m1,0v1m1,0v1m1,0v1m1,0v1m1,0v1m1,0v1m1,0v2m1,0v1m1,0v2m1,0v1m1,0v2m1,0v2m1,0v2m1,0v1m1,0v2m1,0v1m1,0v2m1,0v1m1,0v2m1,0v2m1,0v2m1,0v1m1,0v2m1,0v1m1,0v2m1,0v1m1,0v2m1,0v2m1,0v2m1,0v2m1,0v2m1,0v1m1,0v2m1,0v1m1,0v2m1,0v2m1,0v2m1,0v1m1,0v2m1,0v2m1,0v2m1,0v1m1,0v1m1,0v1m1,0v1m1,0v1m1,0v1m1,0v1m1,0v1m1,0v1m1,0v1m1,0v1m1,0v1m1,0v1m1,0v1m1,0v1m1,-1v1m1,0v1m1,0v1m1,0v1m1,0v1m1,0v1m1,0v1m1,-1v1m1,0v1m1,-1v1m1,0v1m1,0v1m1,0v1m1,0v1m1,-1v1m1,0v1m1,-1v1m1,-1v1m1,-1v1m1,-1v1m1,-1v1m1,-1v1m1,-1v1m1,0v1m1,-1v1m1,-1v1m1,-1v1m1,0v1m1,-1v1m1,-1v1m1,0v1m1,-1v1m1,0v1m1,-1v1m1,-2v1m1,-1v1m1,-2v1m1,-2v1m1,-1v1m1,-1v1m1,-2v1m1,-1v1m1,0v1m1,-1v1m1,0v1m1,-1v1m1,0v1m1,0v2m1,0v1m1,0v1m1,0v1m1,0v1m1,-1v1m1,0v1m1,-1v1m1,0v1m1,-1v1m1,-1v1m1,-1v1m1,-1v1m1,-1v1m1,-1v1m1,-1v1m1,-1v1m1,-1v1m1,-1v1m1,0v2m1,0v2m1,0v2m1,0v2m1,0v2m1,0v2m1,0v2m1,0v3m1,0v2m1,0v2m1,0v2m1,0v2m1,0v2m1,0v2m1,0v2m1,0v2m1,0v2m1,0v1m1,0v2m1,0v1m1,0v2m1,0v2m1,0v2m1,0v2m1,0v2m1,0v1m1,0v2m1,0v1m1,0v1m1,0v1m1,0v1m1,0v1m1,0v1m1,0v1m1,0v1m1,0v1m1,-1v1m1,0v1m1,-1v1m1,-1v1m1,-1v1m1,-1v1m1,-2v1m1,-1v1m1,-1v1m1,-1v1m1,-2v1m1,-1v1m1,-1v1m1,-1v1m1,-1v1m1,-1v1m1,-2v1m1,-1v1m1,-2v1m1,-2v1m1,-1v1m1,-2v1m1,-1v1m1,-2v1m1,-1v1m1,-1v1m1,-2v1m1,-1v1m1,-3v2m1,-4v2m1,-4v2m1,-3v1m1,-3v2m1,-3v1m1,-3v2m1,-3v1m1,-3v2m1,-3v1m1,-3v2m1,-3v1m1,-3v2m1,-4v2m1,-4v2m1,-3v1m1,-2v1m1,-3v2m1,-3v1m1,-2v1m1,-2v1m1,-1v1m1,-2v1m1,-2v1m1,-2v1m1,-1v1m1,-2v1m1,-2v1m1,-2v1m1,-2v1m1,-2v1m1,-2v1m1,-2v1m1,-3v2m1,-3v1m1,-2v1m1,-1v1m1,-2v1m1,-1v1m1,-2v1m1,-2v1m1,-3v2m1,-3v1m1,-2v1m1,-1v1m1,-1v1m1,-2v1m1,-1v1m1,-2v1m1,-1v1m1,-2v1m1,-2v1m1,-2v1m1,-1v1m1,-2v1m1,-2v1m1,-1v1m1,-1v1m1,-1v1m1,-1v1m1,-1v1m1,0v1m1,-1v1m1,-1v1m1,-1v1m1,0v1m1,-1v1m1,-1v1m1,-1v1m1,-1v1m1,-1v1m1,-1v1m1,0v1m1,-1v1m1,0v1m1,-1v1m1,-1v1m1,-1v1m1,-2v1m1,-1v1m1,-1v1m1,-1v1m1,-2v1m1,-1v1m1,-1v1m1,-1v1m1,-2v1m1,-1v1m1,-1v1m1,-1v1m1,-1v1m1,-1v1m1,-1v1m1,0v1m1,-1v1m1,-1v1m1,-1v1m1,-1v1m1,-1v1m1,-1v1m1,-1v1m1,-1v1m1,-1v1m1,-1v1m1,-1v1m1,-1v1m1,-2v1m1,-1v1m1,-2v1m1,-1v1m1,-2v1m1,-2v1m1,-2v1m1,-1v1m1,-2v1m1,-2v1m1,-1v1m1,-1v1m1,-1v1m1,-1v1m1,-1v1m1,-1v1m1,-2v1m1,-1v1m1,0v1m1,0v1m1,-1v1m1,0v1m1,0v1m1,0v1m1,-1v1m1,0v1m1,0v1m1,0v1m1,-1v1m1,0v1m1,0v1m1,0v1m1,-1v1m1,0v1m1,0v1m1,0v1m1,0v1m1,0v1m1,0v2m1,0v1m1,0v2m1,0v1m1,0v2m1,0v1m1,0v2m1,0v1m1,0v1m1,-1v1m1,0v1m1,-1v1m1,-1v1m1,0v1m1,-1v1m1,-1v1m1,-1v1m1,0v1m1,-1v1m1,-1v1m1,-1v1m1,-1v1m1,-2v1m1,-1v1m1,-2v1m1,-1v1m1,-2v1m1,-2v1m1,-1v1m1,0v1m1,-1v1m1,-1v1m1,-2v1m1,-1v1m1,-2v1m1,-2v1m1,0v2m1,0v2m1,0v2m1,0v2m1,0v1m1,0v2m1,0v1m1,0v1m1,0v1m1,0v1m1,-1v1m1,0v1m1,0v1m1,0v1m1,-1v1m1,0v1m1,0v1m1,0v1m1,0v1m1,0v1m1,0v1m1,0v1m1,0v1m1,0v2m1,0v4m1,0v4m1,0v4m1,0v4m1,0v4m1,0v4m1,0v4m1,0v2m1,0v2m1,0v2m1,0v2m1,0v2m1,0v1m1,0v2m1,0v1m1,0v1m1,0v2m1,0v1m1,0v2m1,0v1m1,0v2m1,0v1m1,0v2m1,0v1m1,0v1m1,0v1m1,0v1m1,0v1m1,0v1m1,0v2m1,0v1m1,0v1m1,0v1m1,0v1m1,-1v1m1,0v2m1,0v2m1,0v3m1,0v2m1,0v3m1,0v3m1,0v4m1,0v3m1,0v3m1,0v3m1,0v4m1,0v3m1,0v2m1,0v1m1,0v2m1,0v1m1,0v1m1,0v1m1,0v2m1,0v1m1,0v1m1,0v1m1,0v1m1,-1v1m1,0v1m1,-1v1m1,-1v1m1,-2v1m1,-1v1m1,-1v1m1,-1v1m1,-2v1m1,-1v1m1,-1v1m1,-1v1m1,-1v1m1,-1v1m1,-1v1m1,-1v1m1,-1v1m1,-1v1m1,-1v1m1,-1v1m1,-1v1m1,-1v1m1,0v1m1,0v1m1,0v1m1,0v1m1,0v1m1,0v1m1,-1v1m1,0v1m1,-1v1m1,-1v1m1,-1v1m1,-1v1m1,-1v1m1,0v1m1,-1v1m1,-1v1m1,0v1m1,0v1m1,-1v1m1,0v1m1,0v1m1,0v1m1,-1v1m1,0v1m1,0v1m1,0v1m1,-1v1m1,0v1m1,0v1m1,0v2m1,0v1m1,0v1m1,0v2m1,0v1m1,0v2m1,0v1m1,0v1m1,0v1m1,0v1m1,0v1m1,-1v1m1,0v1m1,-1v1m1,-1v1m1,-1v1m1,-1v1m1,-1v1m1,-1v1m1,-1v1m1,-2v1m1,-1v1m1,-2v1m1,-1v1m1,-1v1m1,-2v1m1,-1v1m1,-1v1m1,-1v1m1,-2v1m1,-1v1m1,-1v1m1,0v1m1,-1v1m1,-1v1m1,-2v1m1,-2v1m1,-2v1m1,-2v1m1,-1v1m1,-2v1m1,-1v1m1,-2v1m1,-2v1m1,-3v2m1,-3v1m1,-2v1m1,-1v1m1,-1v1m1,-2v1m1,-1v1m1,0v1m1,0v1m1,-1v1m1,0v1m1,-1v1m1,0v1m1,-1v1m1,-1v1m1,0v1m1,-1v1m1,0v1m1,-1v1m1,-1v1m1,0v1m1,-1v1m1,-1v1m1,-1v1m1,-1v1m1,-1v1m1,-1v1m1,-1v1m1,-1v1m1,-1v1m1,-1v1m1,-1v1m1,0v1m1,-1v1m1,-1v1m1,-1v1m1,-1v1m1,-1v1m1,-1v1m1,-1v1m1,-1v1m1,-2v1m1,-1v1m1,0v1m1,-1v1m1,0v1m1,-1v1m1,-1v1m1,-1v1m1,-1v1m1,-1v1m1,0v1m1,-1v1m1,0v1m1,-1v1m1,-1v1m1,-2v1m1,-1v1m1,-2v1m1,-1v1m1,-2v1m1,-1v1m1,-2v1m1,-1v1m1,-2v1m1,-1v1m1,-2v1m1,-2v1m1,-1v1m1,-2v1m1,-2v1m1,-1v1m1,-2v1m1,-1v1m1,-2v1m1,-1v1m1,-1v1m1,-2v1m1,-1v1m1,-1v1m1,0v1m1,-1v1m1,-1v1m1,-2v1m1,-1v1m1,-2v1m1,-2v1m1,-1v1m1,-1v1m1,-2v1m1,-1v1m1,-1v1m1,-1v1m1,-2v1m1,-1v1m1,-2v1m1,-3v2m1,-3v1m1,-2v1m1,-2v1m1,-2v1m1,-2v1m1,-2v1m1,-3v2m1,-3v1m1,-3v2m1,-3v1m1,-3v2m1,-3v1m1,-3v2m1,-3v1m1,-3v2m1,-3v1m1,-3v2m1,-3v1m1,-3v2m1,-3v1m1,-3v2m1,-3v1m1,-3v2m1,-3v1m1,-3v2m1,-3v1m1,-3v2m1,-4v2m1,-4v2m1,-3v1m1,-2v1m1,-1v1m1,-2v1m1,-2v1m1,-1v1m1,-2v1m1,-1v1m1,-3v2m1,-4v2m1,-4v2m1,-4v2m1,-5v3m1,-5v2m1,-4v2m1,-4v2m1,-5v3m1,-5v2m1,-4v2m1,-4v2m1,-4v2m1,-4v2m1,-4v2m1,-4v2m1,-4v2m1,-4v2m1,-4v2m1,-4v2m1,-3v1m1,-3v2m1,-4v2m1,-4v2m1,-4v2m1,-4v2m1,-4v2m1,-4v2m1,-4v2m1,-2v1m1,-2v1m1,-1v1m1,-2v1m1,-2v1m1,-1v1m1,-2v1m1,-2v1m1,-2v1m1,-2v1m1,-2v1m1,-2v1m1,-1v1m1,-1v1m1,-2v1m1,-1v1m1,0v1m1,0v2m1,0v1m1,0v1m1,0v1m1,0v1m1,-1v1m1,0v1m1,0v1m1,-1v1m1,0v1m1,-1v1m1,-1v1m1,0v1m1,-1v1m1,-1v1m1,0v1m1,-1v1m1,0v1m1,-1v1m1,0v1m1,0v1m1,0v1m1,0v1m1,0v1m1,0v1m1,0v1m1,0v1m1,0v1m1,0v1m1,0v1m1,0v1m1,0v1m1,-1v1m1,0v1m1,-1v1m1,0v1m1,-1v1m1,0v1m1,-1v1m1,-1v1m1,-1v1m1,-2v1m1,-1v1m1,0v1m1,-1v1m1,0v1m1,-1v1m1,0v1m1,-1v1m1,0v1m1,-1v1m1,0v1m1,0v1m1,-1v1m1,0v1m1,0v1m1,-1v1m1,0v1m1,-1v1m1,0v1m1,0v1m1,-1v1m1,0v1m1,0v1m1,0v1m1,0v1m1,0v1" stroke="#ffa500"/>
<path d="M0,375v1m1,-3v2m1,-3v1m1,-3v2m1,-3v1m1,-2v1m1,-3v2m1,-3v1m1,-2v1m1,-2v1m1,-2v1m1,-2v1m1,-2v1m1,-3v2m1,-3v1m1,-3v2m1,-3v1m1,-2v1m1,-2v1m1,-2v1m1,-2v1m1,-3v2m1,-3v1m1,-3v2m1,-3v1m1,-2v1m1,-2v1m1,-2v1m1,-2v1m1,-3v2m1,-3v1m1,-3v2m1,-3v1m1,-2v1m1,-3v2m1,-3v1m1,-2v1m1,-2v1m1,-2v1m1,-2v1m1,-2v1m1,-2v1m1,-2v1m1,-2v1m1,-2v1m1,-2v1m1,-2v1m1,-2v1m1,-2v1m1,-1v1m1,-1v1m1,-2v1m1,-1v1m1,0v1m1,0v1m1,-1v1m1,0v1m1,0v2m1,0v1m1,0v2m1,0v1m1,-1v1m1,0v1m1,-1v1m1,-1v1m1,-1v1m1,0v1m1,-1v1m1,-1v1m1,0v1m1,-1v1m1,0v1m1,-1v1m1,-1v1m1,-1v1m1,-1v1m1,-1v1m1,-1v1m1,-1v1m1,-1v1m1,-1v1m1,-2v1m1,-1v1m1,-2v1m1,-2v1m1,-2v1m1,-2v1m1,-2v1m1,-2v1m1,-1v1m1,-2v1m1,-1v1m1,-2v1m1,-2v1m1,-1v1m1,-2v1m1,-2v1m1,-1v1m1,-1v1m1,-1v1m1,-1v1m1,-1v1m1,0v1m1,-1v1m1,-1v1m1,-1v1m1,0v1m1,-1v1m1,-1v1m1,0v1m1,0v1m1,-1v1m1,0v1m1,-1v1m1,0v1m1,-1v1m1,-1v1m1,-1v1m1,-1v1m1,-1v1m1,-1v1m1,-1v1m1,-1v1m1,-1v1m1,-1v1m1,-1v1m1,-2v1m1,-1v1m1,-2v1m1,-3v2m1,-4v2m1,-4v2m1,-3v1m1,-2v1m1,-3v2m1,-3v1m1,-2v1m1,-2v1m1,-1v1m1,-2v1m1,-2v1m1,-2v1m1,-1v1m1,-2v1m1,-2v1m1,-2v1m1,-1v1m1,-2v1m1,-2v1m1,-3v2m1,-4v2m1,-4v2m1,-3v1m1,-3v2m1,-4v2m1,-4v2m1,-4v2m1,-3v1m1,-3v2m1,-3v1m1,-2v1m1,-3v2m1,-3v1m1,-3v2m1,-3v1m1,-3v2m1,-4v2m1,-4v2m1,-3v1m1,-3v2m1,-4v2m1,-4v2m1,-3v1m1,-3v2m1,-4v2m1,-4v2m1,-4v2m1,-3v1m1,-2v1m1,-2v1m1,-2v1m1,-2v1m1,-1v1m1,-2v1m1,-2v1m1,-1v1m1,-2v1m1,-1v1m1,-2v1m1,-2v1m1,-1v1m1,-2v1m1,-2v1m1,-3v2m1,-3v1m1,-3v2m1,-3v1m1,-2v1m1,-1v1m1,-2v1m1,-2v1m1,-2v1m1,-3v2m1,-3v1m1,-2v1m1,-3v2m1,-3v1m1,-3v2m1,-3v1m1,-2v1m1,-2v1m1,-2v1m1,-2v1m1,-2v1m1,-1v1m1,-2v1m1,-2v1m1,-2v1m1,-1v1m1,-2v1m1,-2v1m1,-2v1m1,-1v1m1,-2v1m1,-2v1m1,-2v1m1,-2v1m1,-2v1m1,-3v2m1,-4v2m1,-5v3m1,-5v2m1,-5v3m1,-5v2m1,-4v2m1,-4v2m1,-5v3m1,-5v2m1,-4v2m1,-4v2m1,-4v2m1,-4v2m1,-4v2m1,-4v2m1,-3v1m1,-2v1m1,-3v2m1,-3v1m1,-2v1m1,-2v1m1,-1v1m1,-2v1m1,-2v1m1,-2v1m1,-2v1m1,-2v1m1,-2v1m1,-2v1m1,-2v1m1,-2v1m1,-2v1m1,-2v1m1,-2v1m1,-2v1m1,-2v1m1,-3v2m1,-3v1m1,-3v2m1,-3v1m1,-2v1m1,-2v1m1,-2v1m1,-2v1m1,-2v1m1,-3v2m1,-3v1m1,-2v1m1,-2v1m1,-3v2m1,-3v1m1,-2v1m1,-2v1m1,-3v2m1,-3v1m1,-2v1m1,-2v1m1,-2v1m1,-2v1m1,-2v1m1,-2v1m1,-1v1m1,-2v1m1,-2v1m1,-2v1m1,-1v1m1,-2v1m1,-2v1m1,-2v1m1,-1v1m1,-2v1m1,-2v1m1,-3v2m1,-3v1m1,-3v2m1,-3v1m1,-2v1m1,-3v2m1,-3v1m1,-2v1m1,-2v1m1,-2v1m1,-2v1m1,-2v1m1,-2v1m1,-1v1m1,-2v1m1,-2v1m1,-1v1m1,-2v1m1,-1v1m1,-2v1m1,-2v1m1,-1v1m1,-2v1m1,-2v1m1,-1v1m1,-1v1m1,-2v1m1,-1v1m1,-1v1m1,0v1m1,-1v1m1,-1v1m1,0v1m1,-1v1m1,0v1m1,-1v1m1,0v1m1,0v1m1,0v1m1,0v1m1,0v1m1,0v1m1,-1v1m1,0v1m1,0v1m1,0v1m1,0v1m1,0v1m1,0v1m1,0v2m1,0v1m1,0v1m1,0v2m1,0v1m1,0v2m1,0v1m1,0v1m1,0v2m1,0v1m1,0v1m1,0v2m1,0v1m1,0v2m1,0v1m1,0v1m1,0v2m1,0v1m1,0v1m1,0v2m1,0v2m1,0v2m1,0v2m1,0v1m1,0v2m1,0v1m1,0v1m1,0v2m1,0v1m1,0v2m1,0v1m1,0v2m1,0v2m1,0v2m1,0v1m1,0v1m1,0v1m1,0v1m1,0v1m1,0v1m1,0v1m1,0v1m1,0v1m1,0v1m1,0v1m1,0v1m1,0v1m1,0v1m1,0v1m1,-1v1m1,0v1m1,0v1m1,0v1m1,-1v1m1,0v1m1,0v1m1,0v1m1,-1v1m1,0v1m1,0v1m1,0v1m1,0v1m1,0v1m1,0v1m1,-1v1m1,0v1m1,-1v1m1,-1v1m1,-1v1m1,-1v1m1,-1v1m1,-1v1m1,0v1m1,-1v1m1,-1v1m1,-1v1m1,0v1m1,-1v1m1,-1v1m1,0v1m1,-1v1m1,0v1m1,-1v1m1,-1v1m1,-2v1m1,-1v1m1,-2v1m1,-1v1m1,-1v1m1,-2v1m1,-1v1m1,0v1m1,-1v1m1,0v1m1,-1v1m1,0v1m1,0v2m1,0v1m1,0v1m1,0v1m1,0v1m1,-1v1m1,0v1m1,-1v1m1,0v1m1,-1v1m1,-1v1m1,-1v1m1,0v1m1,-1v1m1,-1v1m1,-1v1m1,-1v1m1,-1v1m1,-1v1m1,0v2m1,0v1m1,0v2m1,0v1m1,0v2m1,0v2m1,0v2m1,0v2m1,0v2m1,0v2m1,0v2m1,0v2m1,0v2m1,0v2m1,0v2m1,0v1m1,0v2m1,0v2m1,0v2m1,0v1m1,0v2m1,0v2m1,0v2m1,0v1m1,0v2m1,0v1m1,0v2m1,0v1m1,0v1m1,0v1m1,-1v1m1,0v1m1,0v1m1,0v1m1,0v1m1,0v1m1,0v1m1,-1v1m1,0v1m1,-1v1m1,-1v1m1,-1v1m1,-2v1m1,-1v1m1,-1v1m1,-1v1m1,-1v1m1,-1v1m1,-1v1m1,-1v1m1,-1v1m1,-1v1m1,-1v1m1,-2v1m1,-1v1m1,-2v1m1,-1v1m1,-1v1m1,-2v1m1,-1v1m1,-1v1m1,-1v1m1,-2v1m1,-1v1m1,-2v1m1,-3v2m1,-3v1m1,-2v1m1,-3v2m1,-3v1m1,-3v2m1,-3v1m1,-2v1m1,-3v2m1,-3v1m1,-2v1m1,-3v2m1,-3v1m1,-3v2m1,-3v1m1,-2v1m1,-3v2m1,-3v1m1,-2v1m1,-1v1m1,-2v1m1,-1v1m1,-2v1m1,-2v1m1,-1v1m1,-2v1m1,-2v1m1,-2v1m1,-2v1m1,-2v1m1,-2v1m1,-2v1m1,-2v1m1,-2v1m1,-2v1m1,-2v1m1,-1v1m1,-2v1m1,-2v1m1,-2v1m1,-1v1m1,-2v1m1,-2v1m1,-1v1m1,-2v1m1,-1v1m1,-2v1m1,-2v1m1,-1v1m1,-2v1m1,-2v1m1,-2v1m1,-1v1m1,-2v1m1,-2v1m1,-1v1m1,-1v1m1,-1v1m1,-1v1m1,-1v1m1,0v1m1,-1v1m1,-1v1m1,-1v1m1,0v1m1,-1v1m1,-1v1m1,-1v1m1,-1v1m1,-2v1m1,-1v1m1,0v1m1,-1v1m1,0v1m1,-1v1m1,-1v1m1,-1v1m1,-2v1m1,-1v1m1,-1v1m1,-1v1m1,-2v1m1,-1v1m1,-1v1m1,-1v1m1,-2v1m1,-1v1m1,-1v1m1,-1v1m1,-1v1m1,-1v1m1,-1v1m1,-1v1m1,-1v1m1,-1v1m1,-1v1m1,-1v1m1,-1v1m1,-1v1m1,-1v1m1,-1v1m1,-1v1m1,-1v1m1,-1v1m1,-1v1m1,-2v1m1,-1v1m1,-2v1m1,-1v1m1,-2v1m1,-2v1m1,-1v1m1,-2v1m1,-1v1m1,-2v1m1,-1v1m1,-1v1m1,-2v1m1,-1v1m1,-1v1m1,-1v1m1,-2v1m1,-1v1m1,0v1m1,0v1m1,-1v1m1,0v1m1,0v1m1,-1v1m1,0v1m1,-1v1m1,0v1m1,0v1m1,-1v1m1,0v1m1,0v1m1,0v1m1,-1v1m1,0v1m1,0v1m1,0v1m1,0v1m1,0v1m1,0v1m1,0v2m1,0v1m1,0v1m1,0v1m1,0v2m1,0v1m1,0v1m1,-1v1m1,0v1m1,-1v1m1,-1v1m1,0v1m1,-1v1m1,0v1m1,-1v1m1,-1v1m1,0v1m1,-1v1m1,-1v1m1,-1v1m1,-1v1m1,-2v1m1,-1v1m1,-2v1m1,-1v1m1,-2v1m1,-2v1m1,0v1m1,-1v1m1,0v1m1,-1v1m1,-2v1m1,-1v1m1,-2v1m1,-2v1m1,0v2m1,0v2m1,0v2m1,0v1m1,0v1m1,0v2m1,0v1m1,0v1m1,0v1m1,0v1m1,-1v1m1,0v1m1,0v1m1,-1v1m1,0v1m1,-1v1m1,0v1m1,0v1m1,0v1m1,0v1m1,0v1m1,0v1m1,0v1m1,0v2m1,0v4m1,0v3m1,0v4m1,0v3m1,0v4m1,0v3m1,0v4m1,0v2m1,0v2m1,0v2m1,0v2m1,0v1m1,0v1m1,0v2m1,0v1m1,0v1m1,0v2m1,0v1m1,0v2m1,0v1m1,0v2m1,0v1m1,0v2m1,0v1m1,0v1m1,0v1m1,0v1m1,0v1m1,0v1m1,0v2m1,0v1m1,0v1m1,0v1m1,0v1m1,-1v1m1,0v2m1,0v2m1,0v3m1,0v2m1,0v3m1,0v3m1,0v2m1,0v3m1,0v3m1,0v3m1,0v4m1,0v3m1,0v2m1,0v1m1,0v1m1,0v1m1,0v1m1,0v2m1,0v1m1,0v2m1,0v1m1,0v1m1,0v1m1,-1v1m1,0v1m1,-1v1m1,-1v1m1,-1v1m1,-1v1m1,-1v1m1,-1v1m1,-1v1m1,-1v1m1,-1v1m1,0v1m1,-1v1m1,-1v1m1,-1v1m1,-1v1m1,-1v1m1,-1v1m1,-1v1m1,-1v1m1,-1v1m1,-1v1m1,0v1m1,0v1m1,0v1m1,0v1m1,0v1m1,0v1m1,-1v1m1,0v1m1,-1v1m1,0v1m1,-1v1m1,-1v1m1,-1v1m1,0v1m1,-1v1m1,-1v1m1,0v1m1,0v1m1,-1v1m1,0v1m1,0v1m1,0v1m1,-1v1m1,0v1m1,0v1m1,0v1m1,-1v1m1,0v1m1,0v1m1,0v2m1,0v1m1,0v1m1,0v2m1,0v1m1,0v2m1,0v1m1,0v1m1,0v1m1,0v1m1,0v1m1,-1v1m1,0v1m1,-1v1m1,-1v1m1,-1v1m1,-1v1m1,-1v1m1,-1v1m1,-1v1m1,-1v1m1,-2v1m1,-1v1m1,-1v1m1,-1v1m1,-2v1m1,-1v1m1,-1v1m1,-1v1m1,-1v1m1,-1v1m1,-1v1m1,0v1m1,-1v1m1,-1v1m1,-2v1m1,-1v1m1,-2v1m1,-2v1m1,-1v1m1,-2v1m1,-1v1m1,-2v1m1,-2v1m1,-2v1m1,-2v1m1,-2v1m1,-1v1m1,-1v1m1,-1v1m1,-1v1m1,0v1m1,-1v1m1,0v1m1,-1v1m1,-1v1m1,0v1m1,-1v1m1,-1v1m1,-1v1m1,0v1m1,-1v1m1,-1v1m1,0v1m1,-1v1m1,0v1m1,-1v1m1,-1v1m1,-1v1m1,-1v1m1,-1v1m1,-1v1m1,-1v1m1,-1v1m1,-1v1m1,-1v1m1,0v1m1,-1v1m1,-1v1m1,-1v1m1,-1v1m1,-1v1m1,-1v1m1,-1v1m1,-1v1m1,-2v1m1,-1v1m1,0v1m1,-1v1m1,0v1m1,-1v1m1,-1v1m1,-1v1m1,-1v1m1,-1v1m1,0v1m1,-1v1m1,0v1m1,-1v1m1,-1v1m1,-2v1m1,-1v1m1,-2v1m1,-1v1m1,-1v1m1,-2v1m1,-1v1m1,-1v1m1,-2v1m1,-1v1m1,-2v1m1,-2v1m1,-1v1m1,-2v1m1,-2v1m1,-1v1m1,-2v1m1,-1v1m1,-2v1m1,-1v1m1,-1v1m1,-1v1m1,-1v1m1,-1v1m1,0v1m1,-1v1m1,-1v1m1,-2v1m1,-1v1m1,-2v1m1,-2v1m1,-1v1m1,-1v1m1,-2v1m1,-1v1m1,-1v1m1,-1v1m1,-2v1m1,-1v1m1,-2v1m1,-2v1m1,-2v1m1,-2v1m1,-2v1m1,-2v1m1,-2v1m1,-2v1m1,-2v1m1,-3v2m1,-3v1m1,-2v1m1,-3v2m1,-3v1m1,-3v2m1,-3v1m1,-3v2m1,-3v1m1,-3v2m1,-3v1m1,-2v1m1,-3v2m1,-3v1m1,-2v1m1,-3v2m1,-3v1m1,-3v2m1,-3v1m1,-3v2m1,-3v1m1,-3v2m1,-3v1m1,-2v1m1,-1v1m1,-2v1m1,-2v1m1,-1v1m1,-2v1m1,-1v1m1,-3v2m1,-4v2m1,-4v2m1,-4v2m1,-4v2m1,-4v2m1,-4v2m1,-4v2m1,-4v2m1,-4v2m1,-4v2m1,-4v2m1,-4v2m1,-4v2m1,-4v2m1,-4v2m1,-4v2m1,-4v2m1,-4v2m1,-4v2m1,-3v1m1,-3v2m1,-3v1m1,-3v2m1,-4v2m1,-4v2m1,-4v2m1,-4v2m1,-4v2m1,-2v1m1,-2v1m1,-1v1m1,-2v1m1,-2v1m1,-2v1m1,-2v1m1,-2v1m1,-2v1m1,-2v1m1,-2v1m1,-2v1m1,-1v1m1,-2v1m1,-1v1m1,-2v1m1,0v1m1,0v2m1,0v1m1,0v1m1,-1v1m1,0v1m1,-1v1m1,-1v1m1,0v1m1,-1v1m1,0v1m1,-1v1m1,-1v1m1,0v1m1,-1v1m1,-1v1m1,-1v1m1,0v1m1,-1v1m1,-1v1m1,0v1m1,0v1m1,-1v1m1,0v1m1,0v1m1,0v1m1,0v1m1,0v1m1,0v1m1,0v1m1,-1v1m1,0v1m1,0v1m1,-1v1m1,0v1m1,-1v1m1,-1v1m1,0v1m1,-1v1m1,-1v1m1,-1v1m1,-1v1m1,-1v1m1,-1v1m1,-1v1m1,0v1m1,-1v1m1,-1v1m1,0v1m1,-1v1m1,0v1m1,-1v1m1,0v1m1,-1v1m1,0v1m1,-1v1m1,0v1m1,-1v1m1,0v1m1,-1v1m1,0v1m1,0v1m1,-1v1m1,0v1m1,0v1m1,0v1m1,0v1m1,0v1" stroke="#ff2000"/>
<path d="M0,384v1m1,-3v2m1,-3v1m1,-3v2m1,-3v1m1,-2v1m1,-2v1m1,-2v1m1,-2v1m1,-2v1m1,-2v1m1,-2v1m1,-2v1m1,-3v2m1,-3v1m1,-3v2m1,-3v1m1,-2v1m1,-2v1m1,-2v1m1,-2v1m1,-3v2m1,-3v1m1,-3v2m1,-3v1m1,-2v1m1,-2v1m1,-2v1m1,-2v1m1,-2v1m1,-3v2m1,-3v1m1,-2v1m1,-2v1m1,-3v2m1,-3v1m1,-2v1m1,-2v1m1,-3v2m1,-3v1m1,-2v1m1,-2v1m1,-2v1m1,-2v1m1,-2v1m1,-2v1m1,-2v1m1,-2v1m1,-2v1m1,-1v1m1,-2v1m1,-1v1m1,-2v1m1,-1v1m1,0v1m1,-1v1m1,-1v1m1,0v1m1,0v2m1,0v1m1,0v1m1,-1v1m1,-1v1m1,-1v1m1,-1v1m1,-1v1m1,0v1m1,-1v1m1,-1v1m1,-1v1m1,-1v1m1,-1v1m1,-1v1m1,-1v1m1,-1v1m1,-1v1m1,-1v1m1,-1v1m1,-1v1m1,-1v1m1,-1v1m1,-2v1m1,-1v1m1,-2v1m1,-2v1m1,-2v1m1,-1v1m1,-2v1m1,-2v1m1,-2v1m1,-1v1m1,-2v1m1,-2v1m1,-1v1m1,-2v1m1,-1v1m1,-2v1m1,-1v1m1,-1v1m1,-1v1m1,-1v1m1,-1v1m1,-1v1m1,-1v1m1,-1v1m1,-1v1m1,0v1m1,-1v1m1,-1v1m1,0v1m1,-1v1m1,0v1m1,-1v1m1,-1v1m1,0v1m1,-1v1m1,-1v1m1,-1v1m1,-1v1m1,-1v1m1,-1v1m1,-1v1m1,-1v1m1,-2v1m1,-1v1m1,-1v1m1,-2v1m1,-1v1m1,-2v1m1,-3v2m1,-3v1m1,-3v2m1,-3v1m1,-2v1m1,-2v1m1,-2v1m1,-2v1m1,-1v1m1,-2v1m1,-1v1m1,-2v1m1,-2v1m1,-1v1m1,-2v1m1,-2v1m1,-2v1m1,-1v1m1,-2v1m1,-2v1m1,-3v2m1,-3v1m1,-3v2m1,-3v1m1,-3v2m1,-4v2m1,-4v2m1,-3v1m1,-2v1m1,-3v2m1,-3v1m1,-2v1m1,-2v1m1,-3v2m1,-3v1m1,-2v1m1,-3v2m1,-3v1m1,-3v2m1,-3v1m1,-3v2m1,-3v1m1,-3v2m1,-3v1m1,-3v2m1,-4v2m1,-4v2m1,-3v1m1,-2v1m1,-2v1m1,-2v1m1,-2v1m1,-2v1m1,-2v1m1,-2v1m1,-2v1m1,-1v1m1,-2v1m1,-1v1m1,-2v1m1,-2v1m1,-1v1m1,-2v1m1,-2v1m1,-2v1m1,-3v2m1,-3v1m1,-2v1m1,-2v1m1,-2v1m1,-2v1m1,-2v1m1,-2v1m1,-2v1m1,-2v1m1,-2v1m1,-3v2m1,-3v1m1,-3v2m1,-3v1m1,-2v1m1,-2v1m1,-2v1m1,-2v1m1,-2v1m1,-1v1m1,-2v1m1,-2v1m1,-2v1m1,-2v1m1,-2v1m1,-2v1m1,-2v1m1,-1v1m1,-2v1m1,-2v1m1,-2v1m1,-2v1m1,-2v1m1,-2v1m1,-3v2m1,-4v2m1,-4v2m1,-4v2m1,-4v2m1,-4v2m1,-4v2m1,-5v3m1,-5v2m1,-4v2m1,-4v2m1,-4v2m1,-4v2m1,-4v2m1,-4v2m1,-3v1m1,-2v1m1,-3v2m1,-3v1m1,-2v1m1,-2v1m1,-1v1m1,-2v1m1,-2v1m1,-2v1m1,-3v2m1,-3v1m1,-2v1m1,-2v1m1,-2v1m1,-2v1m1,-2v1m1,-2v1m1,-2v1m1,-2v1m1,-2v1m1,-3v2m1,-3v1m1,-3v2m1,-3v1m1,-2v1m1,-2v1m1,-2v1m1,-2v1m1,-2v1m1,-3v2m1,-3v1m1,-2v1m1,-2v1m1,-3v2m1,-3v1m1,-2v1m1,-2v1m1,-3v2m1,-3v1m1,-2v1m1,-2v1m1,-2v1m1,-2v1m1,-2v1m1,-2v1m1,-2v1m1,-2v1m1,-2v1m1,-2v1m1,-1v1m1,-2v1m1,-2v1m1,-2v1m1,-2v1m1,-2v1m1,-2v1m1,-2v1m1,-3v2m1,-3v1m1,-2v1m1,-2v1m1,-3v2m1,-3v1m1,-2v1m1,-2v1m1,-3v2m1,-3v1m1,-2v1m1,-2v1m1,-1v1m1,-2v1m1,-2v1m1,-2v1m1,-1v1m1,-2v1m1,-2v1m1,-2v1m1,-1v1m1,-2v1m1,-2v1m1,-1v1m1,-1v1m1,-2v1m1,-1v1m1,-1v1m1,-1v1m1,-1v1m1,-1v1m1,-1v1m1,0v1m1,-1v1m1,-1v1m1,0v1m1,0v1m1,-1v1m1,0v1m1,0v1m1,-1v1m1,0v1m1,-1v1m1,0v1m1,-1v1m1,0v1m1,-1v1m1,0v1m1,0v1m1,0v1m1,0v1m1,0v1m1,0v2m1,0v1m1,0v1m1,0v1m1,0v1m1,0v1m1,0v1m1,0v1m1,0v2m1,0v1m1,0v1m1,0v1m1,0v1m1,0v1m1,0v1m1,0v2m1,0v1m1,0v2m1,0v1m1,0v1m1,0v2m1,0v1m1,0v1m1,0v1m1,0v2m1,0v1m1,0v1m1,0v2m1,0v1m1,0v2m1,0v1m1,0v1m1,0v1m1,0v1m1,0v1m1,0v1m1,0v1m1,0v1m1,0v1m1,0v1m1,0v1m1,-1v1m1,0v1m1,0v1m1,0v1m1,-1v1m1,0v1m1,0v1m1,0v1m1,-1v1m1,0v1m1,0v1m1,0v1m1,-1v1m1,0v1m1,0v1m1,0v1m1,0v1m1,0v1m1,0v1m1,-1v1m1,0v1m1,-1v1m1,-1v1m1,-1v1m1,-1v1m1,-1v1m1,0v1m1,-1v1m1,0v1m1,-1v1m1,-1v1m1,0v1m1,-1v1m1,-1v1m1,0v1m1,-1v1m1,0v1m1,-1v1m1,-1v1m1,-1v1m1,-2v1m1,-1v1m1,-1v1m1,-1v1m1,-1v1m1,-1v1m1,0v1m1,0v1m1,-1v1m1,0v1m1,0v1m1,0v1m1,0v1m1,0v1m1,0v1m1,0v1m1,-1v1m1,0v1m1,-1v1m1,0v1m1,-1v1m1,-1v1m1,-1v1m1,0v1m1,-1v1m1,-1v1m1,-1v1m1,0v1m1,-1v1m1,-1v1m1,0v1m1,0v2m1,0v1m1,0v1m1,0v2m1,0v2m1,0v2m1,0v1m1,0v2m1,0v2m1,0v2m1,0v1m1,0v2m1,0v2m1,0v2m1,0v1m1,0v2m1,0v1m1,0v2m1,0v1m1,0v2m1,0v2m1,0v2m1,0v1m1,0v1m1,0v2m1,0v1m1,0v1m1,0v1m1,0v1m1,0v1m1,0v1m1,0v1m1,0v1m1,0v1m1,0v1m1,0v1m1,-1v1m1,0v1m1,-1v1m1,-1v1m1,-1v1m1,-1v1m1,-1v1m1,-1v1m1,0v1m1,-1v1m1,-1v1m1,-1v1m1,0v1m1,-1v1m1,-1v1m1,-1v1m1,-1v1m1,-2v1m1,-1v1m1,-1v1m1,-1v1m1,-2v1m1,-1v1m1,-1v1m1,-1v1m1,-2v1m1,-1v1m1,-2v1m1,-1v1m1,-2v1m1,-2v1m1,-2v1m1,-3v2m1,-3v1m1,-2v1m1,-2v1m1,-2v1m1,-2v1m1,-2v1m1,-2v1m1,-2v1m1,-2v1m1,-2v1m1,-2v1m1,-2v1m1,-2v1m1,-2v1m1,-1v1m1,-2v1m1,-1v1m1,-2v1m1,-2v1m1,-1v1m1,-2v1m1,-2v1m1,-2v1m1,-1v1m1,-2v1m1,-2v1m1,-2v1m1,-2v1m1,-2v1m1,-2v1m1,-1v1m1,-2v1m1,-1v1m1,-2v1m1,-2v1m1,-1v1m1,-2v1m1,-2v1m1,-1v1m1,-2v1m1,-1v1m1,-2v1m1,-1v1m1,-2v1m1,-1v1m1,-2v1m1,-2v1m1,-1v1m1,-2v1m1,-2v1m1,-1v1m1,-1v1m1,-2v1m1,-1v1m1,-1v1m1,0v1m1,-1v1m1,-1v1m1,-1v1m1,-1v1m1,-1v1m1,-1v1m1,-1v1m1,-1v1m1,-1v1m1,-1v1m1,-1v1m1,-1v1m1,-1v1m1,-1v1m1,-1v1m1,-1v1m1,-2v1m1,-1v1m1,-1v1m1,-1v1m1,-2v1m1,-1v1m1,-1v1m1,-1v1m1,-2v1m1,-1v1m1,-1v1m1,-1v1m1,-1v1m1,-1v1m1,-1v1m1,-1v1m1,-1v1m1,-1v1m1,-1v1m1,-1v1m1,-1v1m1,-1v1m1,-1v1m1,-1v1m1,-2v1m1,-1v1m1,-1v1m1,-1v1m1,-2v1m1,-1v1m1,-1v1m1,-2v1m1,-1v1m1,-2v1m1,-1v1m1,-2v1m1,-1v1m1,-2v1m1,-1v1m1,-1v1m1,-2v1m1,-1v1m1,-1v1m1,-1v1m1,-2v1m1,-1v1m1,0v1m1,-1v1m1,0v1m1,-1v1m1,0v1m1,-1v1m1,0v1m1,-1v1m1,0v1m1,-1v1m1,0v1m1,-1v1m1,0v1m1,-1v1m1,0v1m1,-1v1m1,0v1m1,0v1m1,-1v1m1,0v1m1,0v1m1,0v1m1,0v1m1,0v1m1,0v1m1,0v1m1,0v1m1,0v1m1,-1v1m1,0v1m1,-1v1m1,-1v1m1,0v1m1,-1v1m1,0v1m1,-1v1m1,-1v1m1,0v1m1,-1v1m1,-1v1m1,-1v1m1,-1v1m1,-2v1m1,-1v1m1,-1v1m1,-1v1m1,-2v1m1,-1v1m1,-1v1m1,0v1m1,-1v1m1,-1v1m1,-1v1m1,-2v1m1,-1v1m1,-2v1m1,0v2m1,0v1m1,0v2m1,0v1m1,0v1m1,0v1m1,0v1m1,0v1m1,0v1m1,-1v1m1,0v1m1,-1v1m1,0v1m1,0v1m1,-1v1m1,0v1m1,0v1m1,0v1m1,-1v1m1,0v1m1,0v1m1,0v1m1,-1v1m1,0v2m1,0v3m1,0v3m1,0v3m1,0v3m1,0v3m1,0v3m1,0v3m1,0v2m1,0v2m1,0v1m1,0v2m1,0v1m1,0v1m1,0v2m1,0v1m1,0v1m1,0v1m1,0v2m1,0v1m1,0v1m1,0v2m1,0v1m1,0v2m1,0v1m1,0v1m1,0v1m1,0v1m1,0v1m1,0v1m1,0v2m1,0v1m1,0v1m1,0v1m1,0v1m1,0v1m1,0v2m1,0v2m1,0v2m1,0v2m1,0v3m1,0v2m1,0v3m1,0v2m1,0v3m1,0v3m1,0v2m1,0v3m1,0v2m1,0v1m1,0v2m1,0v1m1,0v1m1,0v2m1,0v1m1,0v2m1,0v1m1,0v1m1,0v1m1,0v1m1,0v1m1,-1v1m1,0v1m1,-1v1m1,-1v1m1,-1v1m1,-1v1m1,-1v1m1,-1v1m1,0v1m1,-1v1m1,0v1m1,-1v1m1,-1v1m1,0v1m1,-1v1m1,-1v1m1,-1v1m1,0v1m1,-1v1m1,-1v1m1,0v1m1,0v1m1,0v1m1,0v1m1,0v1m1,0v1m1,-1v1m1,0v1m1,0v1m1,-1v1m1,0v1m1,-1v1m1,0v1m1,-1v1m1,0v1m1,-1v1m1,0v1m1,-1v1m1,0v1m1,-1v1m1,0v1m1,0v1m1,0v1m1,0v1m1,0v1m1,0v1m1,-1v1m1,0v1m1,0v1m1,0v1m1,0v1m1,0v1m1,0v2m1,0v1m1,0v2m1,0v1m1,0v1m1,0v1m1,0v1m1,0v1m1,-1v1m1,0v1m1,-1v1m1,-1v1m1,-1v1m1,0v1m1,-1v1m1,-1v1m1,-1v1m1,-1v1m1,-1v1m1,-1v1m1,-1v1m1,-1v1m1,-1v1m1,-1v1m1,-1v1m1,-1v1m1,-1v1m1,-1v1m1,-1v1m1,0v1m1,-1v1m1,-1v1m1,-1v1m1,-2v1m1,-1v1m1,-2v1m1,-1v1m1,-1v1m1,-2v1m1,-1v1m1,-2v1m1,-1v1m1,-2v1m1,-2v1m1,-1v1m1,-1v1m1,-1v1m1,-1v1m1,0v1m1,-1v1m1,0v1m1,-1v1m1,-1v1m1,0v1m1,-1v1m1,-1v1m1,-1v1m1,0v1m1,-1v1m1,-1v1m1,0v1m1,-1v1m1,0v1m1,-1v1m1,-1v1m1,-1v1m1,-1v1m1,-1v1m1,-1v1m1,-1v1m1,-1v1m1,-1v1m1,-1v1m1,0v1m1,-1v1m1,-1v1m1,-1v1m1,0v1m1,-1v1m1,-1v1m1,-1v1m1,-1v1m1,-2v1m1,-1v1m1,-1v1m1,0v1m1,-1v1m1,-1v1m1,-1v1m1,0v1m1,-1v1m1,-1v1m1,-1v1m1,0v1m1,-1v1m1,-1v1m1,-1v1m1,-1v1m1,-2v1m1,-1v1m1,-1v1m1,-1v1m1,-2v1m1,-1v1m1,-1v1m1,-2v1m1,-1v1m1,-2v1m1,-1v1m1,-2v1m1,-1v1m1,-2v1m1,-1v1m1,-2v1m1,-1v1m1,-2v1m1,-1v1m1,-1v1m1,-1v1m1,-1v1m1,-1v1m1,-1v1m1,-1v1m1,-1v1m1,-1v1m1,-2v1m1,-1v1m1,-2v1m1,-1v1m1,-1v1m1,-2v1m1,-1v1m1,-1v1m1,-1v1m1,-2v1m1,-1v1m1,-2v1m1,-1v1m1,-2v1m1,-2v1m1,-2v1m1,-2v1m1,-2v1m1,-2v1m1,-2v1m1,-2v1m1,-2v1m1,-2v1m1,-2v1m1,-3v2m1,-3v1m1,-2v1m1,-2v1m1,-3v2m1,-3v1m1,-2v1m1,-2v1m1,-3v2m1,-3v1m1,-2v1m1,-2v1m1,-3v2m1,-3v1m1,-2v1m1,-2v1m1,-3v2m1,-3v1m1,-2v1m1,-2v1m1,-1v1m1,-2v1m1,-2v1m1,-2v1m1,-1v1m1,-2v1m1,-2v1m1,-3v2m1,-4v2m1,-4v2m1,-3v1m1,-3v2m1,-4v2m1,-4v2m1,-4v2m1,-4v2m1,-4v2m1,-4v2m1,-3v1m1,-3v2m1,-4v2m1,-4v2m1,-3v1m1,-3v2m1,-4v2m1,-4v2m1,-3v1m1,-3v2m1,-3v1m1,-3v2m1,-3v1m1,-3v2m1,-4v2m1,-4v2m1,-4v2m1,-3v1m1,-1v1m1,-2v1m1,-2v1m1,-2v1m1,-1v1m1,-2v1m1,-2v1m1,-2v1m1,-3v2m1,-3v1m1,-2v1m1,-1v1m1,-2v1m1,-1v1m1,-2v1m1,0v1m1,0v1m1,-1v1m1,0v1m1,-1v1m1,0v1m1,-1v1m1,-1v1m1,-1v1m1,-1v1m1,-1v1m1,-1v1m1,-1v1m1,-1v1m1,-1v1m1,-1v1m1,-1v1m1,0v1m1,-1v1m1,-1v1m1,0v1m1,-1v1m1,0v1m1,-1v1m1,0v1m1,0v1m1,-1v1m1,0v1m1,0v1m1,-1v1m1,0v1m1,-1v1m1,-1v1m1,0v1m1,-1v1m1,-1v1m1,-1v1m1,0v1m1,-1v1m1,-1v1m1,-1v1m1,-1v1m1,-2v1m1,-1v1m1,-1v1m1,0v1m1,-1v1m1,-1v1m1,0v1m1,-1v1m1,0v1m1,-1v1m1,0v1m1,-1v1m1,0v1m1,-1v1m1,-1v1m1,0v1m1,-1v1m1,-1v1m1,0v1m1,-1v1m1,0v1m1,-1v1m1,0v1m1,0v1m1,-1v1m1,0v1" stroke="#ff2000"/>
<path d="M0,392v1m1,-2v1m1,-2v1m1,-2v1m1,-2v1m1,-2v1m1,-3v2m1,-3v1m1,-2v1m1,-2v1m1,-2v1m1,-2v1m1,-2v1m1,-2v1m1,-3v2m1,-3v1m1,-2v1m1,-2v1m1,-2v1m1,-2v1m1,-2v1m1,-2v1m1,-3v2m1,-3v1m1,-2v1m1,-2v1m1,-3v2m1,-3v1m1,-2v1m1,-2v1m1,-3v2m1,-3v1m1,-2v1m1,-2v1m1,-2v1m1,-2v1m1,-2v1m1,-3v2m1,-3v1m1,-3v2m1,-3v1m1,-2v1m1,-3v2m1,-3v1m1,-2v1m1,-2v1m1,-2v1m1,-2v1m1,-2v1m1,-1v1m1,-2v1m1,-1v1m1,-2v1m1,-1v1m1,-1v1m1,-1v1m1,-1v1m1,0v1m1,-1v1m1,0v1m1,-1v1m1,-1v1m1,-1v1m1,-1v1m1,-1v1m1,-1v1m1,-1v1m1,-1v1m1,-1v1m1,-1v1m1,-1v1m1,-2v1m1,-1v1m1,-1v1m1,-1v1m1,-1v1m1,-1v1m1,-1v1m1,-1v1m1,-2v1m1,-1v1m1,-1v1m1,-2v1m1,-1v1m1,-2v1m1,-2v1m1,-1v1m1,-2v1m1,-2v1m1,-1v1m1,-2v1m1,-1v1m1,-2v1m1,-1v1m1,-2v1m1,-1v1m1,-2v1m1,-1v1m1,-1v1m1,-2v1m1,-1v1m1,-1v1m1,-1v1m1,-1v1m1,-1v1m1,-1v1m1,-1v1m1,-1v1m1,-1v1m1,-1v1m1,0v1m1,-1v1m1,-1v1m1,-1v1m1,-1v1m1,-1v1m1,-1v1m1,-1v1m1,-1v1m1,-1v1m1,-1v1m1,-1v1m1,-1v1m1,-1v1m1,-1v1m1,-1v1m1,-2v1m1,-1v1m1,-2v1m1,-2v1m1,-2v1m1,-2v1m1,-2v1m1,-2v1m1,-2v1m1,-2v1m1,-2v1m1,-1v1m1,-2v1m1,-1v1m1,-2v1m1,-1v1m1,-2v1m1,-1v1m1,-2v1m1,-2v1m1,-1v1m1,-2v1m1,-2v1m1,-2v1m1,-3v2m1,-3v1m1,-2v1m1,-2v1m1,-3v2m1,-3v1m1,-2v1m1,-2v1m1,-2v1m1,-2v1m1,-2v1m1,-2v1m1,-3v2m1,-3v1m1,-2v1m1,-2v1m1,-3v2m1,-3v1m1,-2v1m1,-2v1m1,-3v2m1,-3v1m1,-2v1m1,-3v2m1,-3v1m1,-3v2m1,-3v1m1,-2v1m1,-2v1m1,-2v1m1,-2v1m1,-2v1m1,-2v1m1,-2v1m1,-2v1m1,-2v1m1,-1v1m1,-2v1m1,-2v1m1,-2v1m1,-1v1m1,-2v1m1,-2v1m1,-2v1m1,-2v1m1,-2v1m1,-2v1m1,-2v1m1,-2v1m1,-2v1m1,-2v1m1,-2v1m1,-2v1m1,-2v1m1,-2v1m1,-2v1m1,-3v2m1,-3v1m1,-2v1m1,-2v1m1,-2v1m1,-2v1m1,-2v1m1,-2v1m1,-2v1m1,-2v1m1,-2v1m1,-2v1m1,-1v1m1,-2v1m1,-2v1m1,-2v1m1,-2v1m1,-2v1m1,-2v1m1,-2v1m1,-2v1m1,-2v1m1,-2v1m1,-3v2m1,-3v1m1,-3v2m1,-3v1m1,-3v2m1,-4v2m1,-4v2m1,-4v2m1,-4v2m1,-4v2m1,-4v2m1,-4v2m1,-4v2m1,-3v1m1,-3v2m1,-3v1m1,-3v2m1,-3v1m1,-3v2m1,-3v1m1,-2v1m1,-2v1m1,-2v1m1,-2v1m1,-2v1m1,-3v2m1,-3v1m1,-2v1m1,-2v1m1,-2v1m1,-2v1m1,-2v1m1,-2v1m1,-3v2m1,-3v1m1,-2v1m1,-2v1m1,-3v2m1,-3v1m1,-2v1m1,-2v1m1,-3v2m1,-3v1m1,-2v1m1,-2v1m1,-3v2m1,-3v1m1,-2v1m1,-2v1m1,-3v2m1,-3v1m1,-2v1m1,-2v1m1,-3v2m1,-3v1m1,-2v1m1,-2v1m1,-3v2m1,-3v1m1,-2v1m1,-2v1m1,-2v1m1,-2v1m1,-2v1m1,-2v1m1,-2v1m1,-2v1m1,-2v1m1,-2v1m1,-3v2m1,-3v1m1,-2v1m1,-2v1m1,-3v2m1,-3v1m1,-2v1m1,-2v1m1,-2v1m1,-2v1m1,-2v1m1,-2v1m1,-3v2m1,-3v1m1,-2v1m1,-2v1m1,-1v1m1,-2v1m1,-2v1m1,-2v1m1,-2v1m1,-2v1m1,-2v1m1,-2v1m1,-1v1m1,-2v1m1,-2v1m1,-1v1m1,-2v1m1,-1v1m1,-2v1m1,-1v1m1,-1v1m1,-2v1m1,-1v1m1,-1v1m1,-1v1m1,-1v1m1,-1v1m1,-1v1m1,0v1m1,-1v1m1,-1v1m1,-1v1m1,0v1m1,-1v1m1,-1v1m1,-1v1m1,0v1m1,-1v1m1,-1v1m1,0v1m1,-1v1m1,0v1m1,-1v1m1,0v1m1,0v1m1,0v1m1,0v1m1,0v1m1,0v1m1,-1v1m1,0v1m1,0v1m1,0v1m1,0v1m1,0v1m1,0v1m1,0v1m1,-1v1m1,0v1m1,0v1m1,0v2m1,0v1m1,0v1m1,0v1m1,0v1m1,0v1m1,0v1m1,0v1m1,0v1m1,0v1m1,0v1m1,0v1m1,0v1m1,0v1m1,0v1m1,0v1m1,0v1m1,-1v1m1,0v1m1,0v1m1,0v1m1,0v1m1,0v1m1,0v1m1,0v1m1,-1v1m1,0v1m1,0v1m1,0v1m1,-1v1m1,0v1m1,0v1m1,0v1m1,-1v1m1,0v1m1,0v1m1,0v1m1,-1v1m1,0v1m1,0v1m1,0v1m1,-1v1m1,0v1m1,0v1m1,-1v1m1,0v1m1,-1v1m1,0v1m1,-1v1m1,0v1m1,-1v1m1,0v1m1,-1v1m1,0v1m1,-1v1m1,0v1m1,-1v1m1,0v1m1,-1v1m1,0v1m1,-1v1m1,0v1m1,-1v1m1,-1v1m1,0v1m1,-1v1m1,-1v1m1,-1v1m1,0v1m1,-1v1m1,-1v1m1,0v1m1,-1v1m1,0v1m1,-1v1m1,0v1m1,0v1m1,-1v1m1,0v1m1,0v1m1,0v1m1,-1v1m1,0v1m1,0v1m1,-1v1m1,0v1m1,-1v1m1,0v1m1,-1v1m1,0v1m1,-1v1m1,-1v1m1,0v1m1,-1v1m1,-1v1m1,0v1m1,0v1m1,0v1m1,0v1m1,0v2m1,0v1m1,0v2m1,0v1m1,0v2m1,0v1m1,0v2m1,0v1m1,0v2m1,0v2m1,0v2m1,0v1m1,0v2m1,0v1m1,0v2m1,0v1m1,0v2m1,0v1m1,0v2m1,0v1m1,0v2m1,0v1m1,0v2m1,0v1m1,0v1m1,0v1m1,0v1m1,0v1m1,0v1m1,0v1m1,0v1m1,0v1m1,0v1m1,-1v1m1,0v1m1,-1v1m1,0v1m1,-1v1m1,0v1m1,-1v1m1,-1v1m1,0v1m1,-1v1m1,-1v1m1,-1v1m1,0v1m1,-1v1m1,-1v1m1,-1v1m1,-1v1m1,-1v1m1,-1v1m1,-1v1m1,-1v1m1,-1v1m1,-1v1m1,-1v1m1,-1v1m1,-1v1m1,-1v1m1,-1v1m1,-2v1m1,-1v1m1,-2v1m1,-1v1m1,-2v1m1,-1v1m1,-2v1m1,-2v1m1,-1v1m1,-2v1m1,-2v1m1,-2v1m1,-1v1m1,-2v1m1,-2v1m1,-2v1m1,-1v1m1,-2v1m1,-2v1m1,-1v1m1,-2v1m1,-1v1m1,-2v1m1,-1v1m1,-2v1m1,-1v1m1,-2v1m1,-2v1m1,-1v1m1,-2v1m1,-2v1m1,-1v1m1,-2v1m1,-1v1m1,-2v1m1,-2v1m1,-1v1m1,-2v1m1,-2v1m1,-1v1m1,-2v1m1,-1v1m1,-2v1m1,-1v1m1,-2v1m1,-1v1m1,-2v1m1,-2v1m1,-1v1m1,-2v1m1,-2v1m1,-1v1m1,-2v1m1,-1v1m1,-2v1m1,-1v1m1,-1v1m1,-2v1m1,-1v1m1,-1v1m1,-1v1m1,-1v1m1,-1v1m1,-1v1m1,-1v1m1,-1v1m1,-1v1m1,-1v1m1,-1v1m1,-2v1m1,-1v1m1,-1v1m1,-1v1m1,-1v1m1,-1v1m1,-1v1m1,-1v1m1,-2v1m1,-1v1m1,-1v1m1,-1v1m1,-2v1m1,-1v1m1,-1v1m1,-1v1m1,-2v1m1,-1v1m1,-1v1m1,-1v1m1,-2v1m1,-1v1m1,-1v1m1,-1v1m1,-1v1m1,-1v1m1,-1v1m1,-1v1m1,-2v1m1,-1v1m1,-1v1m1,-1v1m1,-1v1m1,-1v1m1,-1v1m1,-2v1m1,-1v1m1,-2v1m1,-1v1m1,-1v1m1,-2v1m1,-1v1m1,-1v1m1,-2v1m1,-1v1m1,-2v1m1,-1v1m1,-1v1m1,-2v1m1,-1v1m1,-1v1m1,-1v1m1,-2v1m1,-1v1m1,-1v1m1,-1v1m1,-1v1m1,-1v1m1,-1v1m1,0v1m1,-1v1m1,-1v1m1,-1v1m1,0v1m1,-1v1m1,-1v1m1,0v1m1,-1v1m1,0v1m1,-1v1m1,0v1m1,-1v1m1,0v1m1,-1v1m1,0v1m1,0v1m1,-1v1m1,0v1m1,0v1m1,-1v1m1,0v1m1,-1v1m1,0v1m1,-1v1m1,0v1m1,-1v1m1,-1v1m1,0v1m1,-1v1m1,-1v1m1,-1v1m1,0v1m1,-1v1m1,-1v1m1,-1v1m1,-1v1m1,-1v1m1,-1v1m1,-1v1m1,-1v1m1,-2v1m1,-1v1m1,0v1m1,-1v1m1,0v1m1,-1v1m1,-1v1m1,-1v1m1,-2v1m1,-1v1m1,0v1m1,0v1m1,0v1m1,0v1m1,0v1m1,0v1m1,-1v1m1,0v1m1,0v1m1,-1v1m1,0v1m1,-1v1m1,0v1m1,-1v1m1,0v1m1,-1v1m1,0v1m1,0v1m1,-1v1m1,0v1m1,0v1m1,0v1m1,-1v1m1,0v2m1,0v2m1,0v2m1,0v2m1,0v3m1,0v2m1,0v2m1,0v2m1,0v2m1,0v2m1,0v1m1,0v2m1,0v1m1,0v1m1,0v2m1,0v1m1,0v1m1,0v1m1,0v2m1,0v1m1,0v1m1,0v1m1,0v2m1,0v1m1,0v1m1,0v1m1,0v1m1,0v1m1,0v1m1,0v2m1,0v1m1,0v2m1,0v1m1,0v1m1,0v1m1,0v1m1,0v1m1,0v2m1,0v2m1,0v2m1,0v2m1,0v2m1,0v2m1,0v2m1,0v3m1,0v2m1,0v3m1,0v2m1,0v2m1,0v2m1,0v1m1,0v2m1,0v1m1,0v2m1,0v1m1,0v2m1,0v1m1,0v1m1,0v1m1,0v1m1,0v1m1,0v1m1,-1v1m1,0v1m1,-1v1m1,0v1m1,-1v1m1,0v1m1,-1v1m1,0v1m1,0v1m1,-1v1m1,0v1m1,0v1m1,-1v1m1,0v1m1,-1v1m1,0v1m1,-1v1m1,0v1m1,-1v1m1,0v1m1,0v1m1,-1v1m1,0v1m1,0v1m1,0v1m1,0v1m1,0v1m1,0v1m1,-1v1m1,0v1m1,-1v1m1,0v1m1,0v1m1,-1v1m1,0v1m1,0v1m1,0v1m1,-1v1m1,0v1m1,0v1m1,0v1m1,-1v1m1,0v1m1,0v1m1,0v1m1,0v1m1,0v1m1,0v1m1,0v1m1,0v1m1,0v1m1,0v1m1,0v2m1,0v1m1,0v1m1,0v1m1,0v1m1,0v1m1,0v1m1,0v1m1,-1v1m1,0v1m1,-1v1m1,-1v1m1,0v1m1,-1v1m1,-1v1m1,-1v1m1,0v1m1,-1v1m1,-1v1m1,-1v1m1,0v1m1,-1v1m1,-1v1m1,-1v1m1,0v1m1,-1v1m1,-1v1m1,-1v1m1,-1v1m1,-1v1m1,-1v1m1,-1v1m1,-1v1m1,-1v1m1,-1v1m1,-1v1m1,-1v1m1,-2v1m1,-1v1m1,-1v1m1,-1v1m1,-2v1m1,-1v1m1,-1v1m1,0v1m1,-1v1m1,-1v1m1,0v1m1,-1v1m1,0v1m1,-1v1m1,-1v1m1,-1v1m1,-1v1m1,-1v1m1,0v1m1,-1v1m1,0v1m1,-1v1m1,-1v1m1,0v1m1,-1v1m1,-1v1m1,-1v1m1,-1v1m1,-1v1m1,-1v1m1,-1v1m1,0v1m1,-1v1m1,-1v1m1,-1v1m1,0v1m1,-1v1m1,-1v1m1,-1v1m1,-1v1m1,-1v1m1,-1v1m1,-1v1m1,-1v1m1,-1v1m1,-1v1m1,-1v1m1,0v1m1,-1v1m1,-1v1m1,-1v1m1,0v1m1,-1v1m1,-1v1m1,-1v1m1,0v1m1,-1v1m1,-1v1m1,-1v1m1,-2v1m1,-1v1m1,-2v1m1,-1v1m1,-1v1m1,-1v1m1,-1v1m1,-1v1m1,-2v1m1,-1v1m1,-2v1m1,-1v1m1,-1v1m1,-2v1m1,-1v1m1,-1v1m1,-2v1m1,-1v1m1,-2v1m1,-1v1m1,-1v1m1,-1v1m1,-1v1m1,-1v1m1,-1v1m1,-1v1m1,-1v1m1,-1v1m1,-2v1m1,-1v1m1,-2v1m1,-1v1m1,-1v1m1,-2v1m1,-1v1m1,-1v1m1,-1v1m1,-2v1m1,-1v1m1,-2v1m1,-1v1m1,-2v1m1,-2v1m1,-2v1m1,-1v1m1,-2v1m1,-2v1m1,-2v1m1,-2v1m1,-2v1m1,-2v1m1,-2v1m1,-2v1m1,-2v1m1,-2v1m1,-2v1m1,-2v1m1,-2v1m1,-2v1m1,-2v1m1,-3v2m1,-3v1m1,-2v1m1,-2v1m1,-2v1m1,-2v1m1,-2v1m1,-2v1m1,-2v1m1,-2v1m1,-2v1m1,-2v1m1,-2v1m1,-2v1m1,-2v1m1,-2v1m1,-1v1m1,-2v1m1,-2v1m1,-3v2m1,-3v1m1,-3v2m1,-3v1m1,-2v1m1,-3v2m1,-3v1m1,-2v1m1,-3v2m1,-4v2m1,-4v2m1,-3v1m1,-3v2m1,-4v2m1,-4v2m1,-3v1m1,-3v2m1,-4v2m1,-4v2m1,-3v1m1,-3v2m1,-3v1m1,-3v2m1,-3v1m1,-3v2m1,-3v1m1,-3v2m1,-3v1m1,-2v1m1,-2v1m1,-2v1m1,-2v1m1,-2v1m1,-2v1m1,-2v1m1,-2v1m1,-2v1m1,-1v1m1,-2v1m1,-2v1m1,-2v1m1,-1v1m1,-2v1m1,-2v1m1,-1v1m1,0v1m1,-1v1m1,-1v1m1,-1v1m1,-1v1m1,-2v1m1,-1v1m1,-1v1m1,-1v1m1,-1v1m1,-1v1m1,-1v1m1,-1v1m1,-1v1m1,-1v1m1,-1v1m1,-1v1m1,-1v1m1,-1v1m1,-1v1m1,0v1m1,-1v1m1,-1v1m1,-1v1m1,0v1m1,-1v1m1,-1v1m1,-1v1m1,-1v1m1,-1v1m1,-1v1m1,-1v1m1,0v1m1,-1v1m1,-1v1m1,-1v1m1,-1v1m1,-1v1m1,-1v1m1,-1v1m1,-1v1m1,-1v1m1,-1v1m1,-1v1m1,-1v1m1,-1v1m1,-1v1m1,-1v1m1,0v1m1,-1v1m1,-1v1m1,-1v1m1,0v1m1,-1v1m1,-1v1m1,-1v1m1,0v1m1,-1v1m1,-1v1m1,0v1m1,-1v1m1,0v1m1,-1v1m1,0v1m1,-1v1m1,0v1m1,-1v1" stroke="#ff2000"/>
<path d="M0,396v1m1,-2v1m1,-3v2m1,-3v1m1,-2v1m1,-2v1m1,-2v1m1,-2v1m1,-2v1m1,-2v1m1,-2v1m1,-2v1m1,-2v1m1,-2v1m1,-2v1m1,-2v1m1,-2v1m1,-2v1m1,-3v2m1,-3v1m1,-2v1m1,-2v1m1,-2v1m1,-2v1m1,-2v1m1,-2v1m1,-3v2m1,-3v1m1,-2v1m1,-2v1m1,-3v2m1,-3v1m1,-2v1m1,-2v1m1,-2v1m1,-2v1m1,-2v1m1,-3v2m1,-3v1m1,-3v2m1,-3v1m1,-2v1m1,-3v2m1,-3v1m1,-2v1m1,-2v1m1,-3v2m1,-3v1m1,-2v1m1,-2v1m1,-1v1m1,-2v1m1,-2v1m1,-1v1m1,-1v1m1,-1v1m1,-1v1m1,-1v1m1,-1v1m1,-1v1m1,-1v1m1,-1v1m1,-1v1m1,-1v1m1,-1v1m1,-1v1m1,-1v1m1,-1v1m1,-1v1m1,-1v1m1,-1v1m1,-2v1m1,-1v1m1,-1v1m1,-1v1m1,-2v1m1,-1v1m1,-1v1m1,-1v1m1,-2v1m1,-1v1m1,-1v1m1,-2v1m1,-1v1m1,-2v1m1,-1v1m1,-2v1m1,-1v1m1,-2v1m1,-1v1m1,-2v1m1,-1v1m1,-2v1m1,-1v1m1,-2v1m1,-1v1m1,-2v1m1,-1v1m1,-1v1m1,-2v1m1,-1v1m1,-1v1m1,-1v1m1,-1v1m1,-1v1m1,-1v1m1,-1v1m1,-2v1m1,-1v1m1,-1v1m1,0v1m1,-1v1m1,-1v1m1,-1v1m1,-1v1m1,-1v1m1,-1v1m1,-1v1m1,-1v1m1,-1v1m1,-1v1m1,-1v1m1,-1v1m1,-2v1m1,-1v1m1,-1v1m1,-1v1m1,-2v1m1,-1v1m1,-2v1m1,-2v1m1,-2v1m1,-2v1m1,-1v1m1,-2v1m1,-1v1m1,-2v1m1,-2v1m1,-1v1m1,-2v1m1,-2v1m1,-1v1m1,-2v1m1,-1v1m1,-2v1m1,-2v1m1,-1v1m1,-2v1m1,-2v1m1,-2v1m1,-1v1m1,-2v1m1,-2v1m1,-2v1m1,-3v2m1,-3v1m1,-2v1m1,-2v1m1,-2v1m1,-2v1m1,-2v1m1,-2v1m1,-2v1m1,-2v1m1,-2v1m1,-2v1m1,-2v1m1,-2v1m1,-2v1m1,-2v1m1,-3v2m1,-3v1m1,-2v1m1,-2v1m1,-3v2m1,-3v1m1,-2v1m1,-2v1m1,-2v1m1,-2v1m1,-2v1m1,-2v1m1,-1v1m1,-2v1m1,-2v1m1,-2v1m1,-2v1m1,-2v1m1,-2v1m1,-2v1m1,-1v1m1,-2v1m1,-2v1m1,-2v1m1,-2v1m1,-2v1m1,-2v1m1,-2v1m1,-1v1m1,-2v1m1,-2v1m1,-2v1m1,-2v1m1,-2v1m1,-2v1m1,-2v1m1,-3v2m1,-3v1m1,-2v1m1,-2v1m1,-2v1m1,-2v1m1,-2v1m1,-2v1m1,-2v1m1,-2v1m1,-2v1m1,-2v1m1,-2v1m1,-2v1m1,-2v1m1,-2v1m1,-2v1m1,-2v1m1,-2v1m1,-2v1m1,-2v1m1,-2v1m1,-2v1m1,-2v1m1,-2v1m1,-2v1m1,-2v1m1,-3v2m1,-4v2m1,-4v2m1,-4v2m1,-4v2m1,-4v2m1,-4v2m1,-3v1m1,-3v2m1,-4v2m1,-4v2m1,-3v1m1,-3v2m1,-3v1m1,-3v2m1,-3v1m1,-2v1m1,-2v1m1,-2v1m1,-2v1m1,-2v1m1,-3v2m1,-3v1m1,-2v1m1,-2v1m1,-3v2m1,-3v1m1,-2v1m1,-2v1m1,-3v2m1,-3v1m1,-2v1m1,-2v1m1,-3v2m1,-3v1m1,-2v1m1,-2v1m1,-3v2m1,-3v1m1,-2v1m1,-2v1m1,-3v2m1,-3v1m1,-2v1m1,-2v1m1,-3v2m1,-3v1m1,-2v1m1,-2v1m1,-3v2m1,-3v1m1,-2v1m1,-3v2m1,-3v1m1,-3v2m1,-3v1m1,-2v1m1,-2v1m1,-2v1m1,-2v1m1,-2v1m1,-3v2m1,-3v1m1,-2v1m1,-2v1m1,-3v2m1,-3v1m1,-2v1m1,-2v1m1,-3v2m1,-3v1m1,-2v1m1,-2v1m1,-3v2m1,-3v1m1,-2v1m1,-2v1m1,-2v1m1,-2v1m1,-2v1m1,-2v1m1,-2v1m1,-2v1m1,-2v1m1,-2v1m1,-2v1m1,-2v1m1,-2v1m1,-2v1m1,-2v1m1,-2v1m1,-2v1m1,-1v1m1,-2v1m1,-1v1m1,-2v1m1,-1v1m1,-2v1m1,-1v1m1,-2v1m1,-1v1m1,-1v1m1,-1v1m1,-1v1m1,-1v1m1,-1v1m1,-1v1m1,-1v1m1,-1v1m1,-1v1m1,-1v1m1,-1v1m1,-1v1m1,0v1m1,-1v1m1,-1v1m1,-1v1m1,0v1m1,-1v1m1,-1v1m1,0v1m1,0v1m1,-1v1m1,0v1m1,0v1m1,-1v1m1,0v1m1,-1v1m1,0v1m1,0v1m1,0v1m1,0v1m1,0v1m1,0v1m1,-1v1m1,0v1m1,0v1m1,0v1m1,-1v1m1,0v1m1,0v1m1,0v1m1,0v1m1,0v1m1,0v1m1,0v1m1,-1v1m1,0v1m1,0v1m1,0v1m1,0v1m1,0v1m1,0v1m1,0v1m1,-1v1m1,0v1m1,0v1m1,0v1m1,-1v1m1,0v1m1,0v1m1,0v1m1,-1v1m1,0v1m1,0v1m1,0v1m1,-1v1m1,0v1m1,0v1m1,0v1m1,-1v1m1,0v1m1,0v1m1,0v1m1,-1v1m1,0v1m1,0v1m1,0v1m1,-1v1m1,0v1m1,0v1m1,-1v1m1,0v1m1,-1v1m1,0v1m1,-1v1m1,0v1m1,-1v1m1,0v1m1,0v1m1,-1v1m1,0v1m1,0v1m1,-1v1m1,0v1m1,-1v1m1,0v1m1,-1v1m1,0v1m1,-1v1m1,0v1m1,-1v1m1,0v1m1,-1v1m1,0v1m1,-1v1m1,0v1m1,-1v1m1,0v1m1,0v1m1,-1v1m1,0v1m1,0v1m1,0v1m1,-1v1m1,0v1m1,0v1m1,-1v1m1,0v1m1,-1v1m1,0v1m1,0v1m1,-1v1m1,0v1m1,-1v1m1,0v1m1,-1v1m1,-1v1m1,0v1m1,-1v1m1,0v1m1,-1v1m1,0v1m1,0v1m1,-1v1m1,0v1m1,0v2m1,0v1m1,0v2m1,0v1m1,0v2m1,0v1m1,0v2m1,0v1m1,0v2m1,0v2m1,0v2m1,0v1m1,0v2m1,0v1m1,0v2m1,0v1m1,0v2m1,0v1m1,0v2m1,0v1m1,0v2m1,0v1m1,0v2m1,0v1m1,0v1m1,0v1m1,0v1m1,0v1m1,0v1m1,0v1m1,0v1m1,0v1m1,0v1m1,-1v1m1,0v1m1,-1v1m1,0v1m1,0v1m1,-1v1m1,0v1m1,0v1m1,-1v1m1,0v1m1,-1v1m1,-1v1m1,0v1m1,-1v1m1,-1v1m1,-1v1m1,0v1m1,-1v1m1,-1v1m1,-1v1m1,-1v1m1,-1v1m1,-1v1m1,-1v1m1,-1v1m1,-1v1m1,-1v1m1,-1v1m1,-1v1m1,-2v1m1,-1v1m1,-1v1m1,-1v1m1,-2v1m1,-1v1m1,-1v1m1,-2v1m1,-1v1m1,-2v1m1,-1v1m1,-2v1m1,-1v1m1,-2v1m1,-1v1m1,-2v1m1,-1v1m1,-2v1m1,-1v1m1,-2v1m1,-1v1m1,-2v1m1,-1v1m1,-2v1m1,-1v1m1,-2v1m1,-1v1m1,-2v1m1,-1v1m1,-2v1m1,-2v1m1,-1v1m1,-2v1m1,-2v1m1,-1v1m1,-2v1m1,-1v1m1,-2v1m1,-1v1m1,-2v1m1,-1v1m1,-2v1m1,-1v1m1,-2v1m1,-1v1m1,-2v1m1,-2v1m1,-1v1m1,-2v1m1,-2v1m1,-1v1m1,-2v1m1,-1v1m1,-2v1m1,-1v1m1,-1v1m1,-2v1m1,-1v1m1,-1v1m1,-1v1m1,-1v1m1,-1v1m1,-1v1m1,-1v1m1,-2v1m1,-1v1m1,-1v1m1,-1v1m1,-2v1m1,-1v1m1,-1v1m1,-1v1m1,-1v1m1,-1v1m1,-1v1m1,-1v1m1,-2v1m1,-1v1m1,-1v1m1,-1v1m1,-2v1m1,-1v1m1,-1v1m1,-1v1m1,-2v1m1,-1v1m1,-1v1m1,-1v1m1,-2v1m1,-1v1m1,-1v1m1,-1v1m1,-2v1m1,-1v1m1,-1v1m1,-1v1m1,-2v1m1,-1v1m1,-1v1m1,-1v1m1,-2v1m1,-1v1m1,-1v1m1,-1v1m1,-2v1m1,-1v1m1,-1v1m1,-2v1m1,-1v1m1,-2v1m1,-1v1m1,-2v1m1,-1v1m1,-2v1m1,-1v1m1,-1v1m1,-2v1m1,-1v1m1,-1v1m1,-1v1m1,-2v1m1,-1v1m1,-1v1m1,-1v1m1,-1v1m1,-1v1m1,-1v1m1,-1v1m1,-1v1m1,-1v1m1,-1v1m1,0v1m1,-1v1m1,-1v1m1,-1v1m1,0v1m1,-1v1m1,-1v1m1,-1v1m1,0v1m1,-1v1m1,-1v1m1,0v1m1,-1v1m1,0v1m1,-1v1m1,0v1m1,-1v1m1,0v1m1,-1v1m1,-1v1m1,0v1m1,-1v1m1,-1v1m1,0v1m1,-1v1m1,0v1m1,-1v1m1,-1v1m1,-1v1m1,-1v1m1,-1v1m1,-1v1m1,0v1m1,-1v1m1,-1v1m1,-1v1m1,-1v1m1,-1v1m1,-1v1m1,-1v1m1,0v1m1,-1v1m1,-1v1m1,-1v1m1,-1v1m1,-1v1m1,-1v1m1,0v1m1,0v1m1,-1v1m1,0v1m1,0v1m1,0v1m1,-1v1m1,0v1m1,0v1m1,-1v1m1,0v1m1,-1v1m1,0v1m1,-1v1m1,0v1m1,-1v1m1,0v1m1,0v1m1,-1v1m1,0v1m1,0v1m1,-1v1m1,0v1m1,-1v1m1,0v2m1,0v2m1,0v2m1,0v1m1,0v2m1,0v2m1,0v2m1,0v1m1,0v2m1,0v1m1,0v2m1,0v1m1,0v1m1,0v2m1,0v1m1,0v1m1,0v1m1,0v2m1,0v1m1,0v1m1,0v1m1,0v2m1,0v1m1,0v1m1,0v1m1,0v1m1,0v1m1,0v1m1,0v2m1,0v1m1,0v2m1,0v1m1,0v1m1,0v2m1,0v1m1,0v1m1,0v2m1,0v1m1,0v2m1,0v1m1,0v2m1,0v2m1,0v2m1,0v2m1,0v2m1,0v2m1,0v2m1,0v2m1,0v2m1,0v2m1,0v2m1,0v2m1,0v2m1,0v1m1,0v2m1,0v1m1,0v1m1,0v1m1,0v1m1,0v1m1,0v1m1,0v1m1,-1v1m1,0v1m1,0v1m1,0v1m1,-1v1m1,0v1m1,0v1m1,0v1m1,-1v1m1,0v1m1,0v1m1,0v1m1,-1v1m1,0v1m1,0v1m1,0v1m1,-1v1m1,0v1m1,0v1m1,0v1m1,-1v1m1,0v1m1,0v1m1,0v1m1,0v1m1,0v1m1,0v1m1,0v1m1,-1v1m1,0v1m1,0v1m1,0v1m1,-1v1m1,0v1m1,0v1m1,0v1m1,-1v1m1,0v1m1,0v1m1,0v1m1,0v1m1,0v1m1,0v1m1,0v1m1,0v1m1,0v1m1,0v1m1,0v1m1,0v1m1,0v1m1,0v1m1,0v1m1,0v1m1,0v1m1,0v1m1,0v1m1,0v1m1,0v1m1,0v1m1,-1v1m1,0v1m1,-1v1m1,0v1m1,-1v1m1,0v1m1,-1v1m1,0v1m1,-1v1m1,0v1m1,-1v1m1,-1v1m1,0v1m1,-1v1m1,-1v1m1,-1v1m1,0v1m1,-1v1m1,-1v1m1,-1v1m1,0v1m1,-1v1m1,-1v1m1,-1v1m1,-1v1m1,-1v1m1,-1v1m1,-1v1m1,-1v1m1,-1v1m1,-1v1m1,-1v1m1,-1v1m1,-1v1m1,-1v1m1,-1v1m1,0v1m1,-1v1m1,-1v1m1,-1v1m1,0v1m1,-1v1m1,-1v1m1,-1v1m1,0v1m1,-1v1m1,-1v1m1,-1v1m1,0v1m1,-1v1m1,-1v1m1,-1v1m1,0v1m1,-1v1m1,-1v1m1,-1v1m1,0v1m1,-1v1m1,-1v1m1,-1v1m1,-1v1m1,-1v1m1,-1v1m1,-1v1m1,0v1m1,-1v1m1,-1v1m1,-1v1m1,0v1m1,-1v1m1,-1v1m1,-1v1m1,-1v1m1,-1v1m1,-1v1m1,-1v1m1,0v1m1,-1v1m1,-1v1m1,-1v1m1,-1v1m1,-1v1m1,-1v1m1,-1v1m1,0v1m1,-1v1m1,-1v1m1,-1v1m1,-1v1m1,-2v1m1,-1v1m1,-1v1m1,-1v1m1,-2v1m1,-1v1m1,-1v1m1,-1v1m1,-2v1m1,-1v1m1,-1v1m1,-1v1m1,-2v1m1,-1v1m1,-1v1m1,-1v1m1,-2v1m1,-1v1m1,-1v1m1,-1v1m1,-2v1m1,-1v1m1,-1v1m1,-1v1m1,-2v1m1,-1v1m1,-1v1m1,-1v1m1,-2v1m1,-1v1m1,-1v1m1,-1v1m1,-2v1m1,-1v1m1,-1v1m1,-2v1m1,-1v1m1,-2v1m1,-1v1m1,-2v1m1,-1v1m1,-2v1m1,-2v1m1,-1v1m1,-2v1m1,-2v1m1,-2v1m1,-2v1m1,-2v1m1,-2v1m1,-2v1m1,-1v1m1,-2v1m1,-2v1m1,-2v1m1,-2v1m1,-2v1m1,-2v1m1,-2v1m1,-2v1m1,-2v1m1,-2v1m1,-2v1m1,-2v1m1,-2v1m1,-2v1m1,-2v1m1,-2v1m1,-2v1m1,-2v1m1,-2v1m1,-2v1m1,-2v1m1,-2v1m1,-2v1m1,-1v1m1,-2v1m1,-2v1m1,-2v1m1,-3v2m1,-3v1m1,-2v1m1,-2v1m1,-3v2m1,-3v1m1,-2v1m1,-3v2m1,-3v1m1,-3v2m1,-3v1m1,-3v2m1,-4v2m1,-4v2m1,-3v1m1,-3v2m1,-4v2m1,-4v2m1,-3v1m1,-3v2m1,-3v1m1,-3v2m1,-3v1m1,-3v2m1,-3v1m1,-3v2m1,-3v1m1,-2v1m1,-2v1m1,-2v1m1,-2v1m1,-2v1m1,-2v1m1,-2v1m1,-2v1m1,-2v1m1,-1v1m1,-2v1m1,-2v1m1,-2v1m1,-1v1m1,-2v1m1,-2v1m1,-1v1m1,-1v1m1,-2v1m1,-1v1m1,-1v1m1,-1v1m1,-2v1m1,-1v1m1,-1v1m1,-1v1m1,-1v1m1,-1v1m1,-1v1m1,-1v1m1,-2v1m1,-1v1m1,-1v1m1,-1v1m1,-1v1m1,-1v1m1,-1v1m1,-1v1m1,-1v1m1,-1v1m1,-1v1m1,-1v1m1,-1v1m1,-1v1m1,-1v1m1,-1v1m1,-2v1m1,-1v1m1,-1v1m1,-1v1m1,-1v1m1,-1v1m1,-1v1m1,-1v1m1,-1v1m1,-1v1m1,-1v1m1,-1v1m1,-1v1m1,-1v1m1,-1v1m1,-1v1m1,-1v1m1,-1v1m1,-1v1m1,0v1m1,-1v1m1,-1v1m1,-1v1m1,-1v1m1,-1v1m1,-1v1m1,-1v1m1,0v1m1,-1v1m1,-1v1m1,-1v1m1,0v1m1,-1v1m1,-1v1m1,0v1m1,-1v1m1,0v1m1,-1v1" stroke="#ff2000"/>
</g>
<path d="M-4,398.5C-3.3,397.9 -2.7,397.4 0,395C2.7,392.6 8,387.9 12,384C16,380.1 19.7,376.1 24,371.3C28.3,366.6 34,360.2 37.7,355.5C41.4,350.8 44,345.8 46,343C48,340.2 48.7,339.6 50,338.5C51.3,337.4 52.3,337.1 54,336.6C55.7,336.2 57.7,336 60,335.8C62.3,335.6 64.2,336 67.7,335.2C71.2,334.4 75.9,333 80.9,331.2C85.9,329.4 92.7,325.6 97.5,324.2C102.3,322.8 105.8,322.9 110,322.6C114.2,322.3 119.5,322.7 122.6,322.4C125.7,322.1 126.4,321.9 128.8,320.8C131.2,319.7 134.4,317.2 137.2,315.6C140,314 142.4,313.5 145.5,311.4C148.6,309.3 152.2,306.5 156,303.2C159.8,299.9 164.9,295.1 168.4,291.6C171.9,288.1 173.3,285.7 176.8,282.2C180.3,278.7 185.1,274.3 189.3,270.7C193.5,267.1 197.6,264.3 201.8,260.3C206,256.3 210.1,251 214.3,246.7C218.5,242.3 223.7,237.1 226.8,234.2C229.9,231.2 231,231.9 233.1,229C235.2,226.1 237,220.8 239.4,216.5C241.8,212.2 244.6,207.5 247.7,203C250.8,198.5 255.1,193.2 258,189.4C260.9,185.7 261.6,185.3 265.4,180.5C269.2,175.7 274.8,168.4 280.9,160.3C286.9,152.2 294.8,140.5 301.7,132C308.6,123.5 317.7,114 322.6,109.2C327.5,104.4 327.9,104.6 331,103.2C334.1,101.8 337.8,101.1 341.3,100.9C344.8,100.7 348.7,101.1 351.8,101.9C354.9,102.8 356.5,103.7 360,106C363.5,108.3 368.4,112.4 372.6,115.5C376.8,118.6 380.1,121 385,124.8C389.9,128.6 396.2,134.2 401.8,138.4C407.4,142.6 413.6,146.8 418.5,149.9C423.4,153 426.8,154.4 431,157.2C435.2,160 439.3,163.6 443.5,166.5C447.7,169.4 451.8,172.3 456,174.9C460.2,177.5 465.4,179.6 468.5,182.2C471.6,184.8 472.9,187.5 474.8,190.5C476.7,193.5 478.2,197 480,200C481.8,203 483.6,205.6 485.4,208.5C487.2,211.4 488.2,214 490.9,217.2C493.5,220.4 497.8,224.8 501.3,227.8C504.8,230.8 508.2,233.1 511.7,235C515.2,236.9 518.6,238.3 522.1,239C525.6,239.7 529.1,239.7 532.6,239.2C536.1,238.7 539.5,237.4 543,236.2C546.5,235 549.9,233.4 553.4,231.8C556.9,230.2 560.3,228.6 563.8,226.7C567.3,224.8 570.8,222.5 574.3,220.5C577.8,218.5 581.2,215.9 584.7,214.5C588.2,213.1 591.6,212.8 595.1,212C598.6,211.2 602.1,210.8 605.6,209.9C609.1,209.1 612.5,207.8 616,206.9C619.5,206 622.9,205.6 626.4,204.6C629.9,203.6 633.3,202 636.8,200.7C640.3,199.3 643.8,197.7 647.3,196.5C650.8,195.3 654.2,193.9 657.7,193.5C661.2,193.1 664.6,193.6 668.1,194.2C671.6,194.8 674.9,196.1 678.5,197.2C682.1,198.3 687.4,200.1 690,200.8C692.6,201.5 691.2,200.9 694.4,201.6C697.6,202.3 704.3,203.3 709,205C713.7,206.7 718.2,209.4 722.4,211.8C726.6,214.2 730.5,215.3 734.2,219.2C737.9,223.1 740.1,229.5 744.5,235.4C748.9,241.3 755.5,247.6 760.6,254.5C765.8,261.4 771,269 775.4,276.6C779.8,284.2 782.7,293.6 787.1,300C791.5,306.4 797,310.4 801.9,314.8C806.8,319.2 811.2,321.9 816.6,326.6C822,331.3 828.3,337.2 834.2,342.8C840.1,348.4 846.5,356.1 851.9,360.5C857.3,364.9 861.2,367.4 866.6,369.3C872,371.2 878.4,370.8 884.3,372C890.2,373.2 896.1,375.2 902,376.5C907.9,377.8 913.2,379.1 919.6,380C926,380.9 934.3,382.2 940.2,382C946.1,381.8 949.6,379.8 955,378.5C960.4,377.2 967.7,375.5 972.6,374C977.5,372.5 980.5,371.9 984.4,369.4C988.3,366.9 991.8,362.9 996.1,359C1000.4,355.1 1006,349.7 1010,346C1014,342.3 1016.6,340.4 1020,337C1023.4,333.6 1026.4,331.2 1030.2,325.5C1034,319.8 1038.8,309.4 1043,303C1047.2,296.6 1052.3,290.8 1055.7,287.2C1059.1,283.6 1060.9,283.2 1063.6,281.7C1066.3,280.2 1068.5,279 1072,278C1075.5,277 1080.3,276.3 1084.5,275.5C1088.7,274.7 1092.8,273.8 1097,273.2C1101.2,272.6 1105.4,271.9 1109.6,271.9C1113.8,271.9 1117.9,272.4 1122,273C1126.1,273.6 1132,275.3 1134,275.8" fill="none" stroke="#191970" stroke-width="5" stroke-linejoin="round" stroke-linecap="butt" shape-rendering="crispEdges"/>
<polyline points="-10,377 36.3,266 60.5,400 332.5,6.5 392.3,238.4 440.3,145.3 492.1,334.3 564,143.3 592.2,233.6 652.3,151.8 680,271.3 712,172.4 780,476 887.8,326.5 904,419.2 1040.4,163.4 1132.3,341.4" fill="none" stroke="#ff0000" stroke-width="2" stroke-linejoin="bevel" shape-rendering="crispEdges"/>
<g shape-rendering="crispEdges">
<path d="M0,305V333M4,296V321M16,285V327M24,283V309M32,269V309M40,267V281M48,267V299M64,328V400M72,332V362M76,329V352M80,319V368M84,297V328M88,276V301M96,283V321M116,335V358M120,322V366M124,316V326M128,287V325M132,241V296M144,270V291M148,252V279M152,216V263M156,197V228M164,202V227M168,195V236M172,180V204M176,168V194M192,213V235M196,169V230M204,152V196M208,131V176M228,152V215M232,80V155M236,80V96M240,72V100M256,109V137M260,100V122M264,100V153M268,77V106M276,73V99M284,62V81M288,59V97M296,66V88M300,59V87M304,43V81M308,39V54M312,35V65M324,50V76M336,90V122M344,112V166M360,165V182M368,176V192M376,196V216M388,200V224M396,195V208M408,190V209M416,193V228M420,175V199M432,200V219M436,158V206M452,222V238M456,203V237M460,192V219M464,192V202M480,297V319M484,291V310M492,300V334M496,281V305M504,266V293M508,241V274M520,227V253M524,228V244M528,229V250M532,181V235M536,170V185M540,164V182M544,144V179M560,165V187M564,144V178M572,158V181M580,155V184M584,151V166M596,194V210M600,190V223M608,178V212M616,169V186M624,196V229M628,170V207M636,174V212M640,158V178M644,158V168M652,152V185M684,227V266M692,213V232M696,201V241M700,179V206M708,179V229M716,271V300M720,251V286M724,243V258M744,320V386M748,313V348M760,325V362M768,334V358M784,377V466M792,378V412M796,339V388M800,329V355M808,331V364M820,361V403M824,348V392M840,389V415M852,412V445M856,394V422M860,373V401M864,365V393M880,346V388M888,324V360M900,374V409M912,375V392M916,368V386M928,362V383M936,382V405M944,350V400M952,340V366M956,340V356M960,340V364M972,320V383M980,347V358M992,289V312M996,284V296M1000,274V292M1008,260V279M1012,258V278M1024,216V276M1028,210V222M1032,203V230M1036,199V214M1044,189V218M1048,168V202M1056,213V260M1060,199V240M1072,272V314M1076,268V281M1080,265V277M1096,292V313M1100,292V303M1104,287V299M1108,260V297M1124,299V310" stroke="#9b0000" stroke-width="1" transform="translate(.5,0)" fill="none"/>
<path d="M8,299V317M12,306V329M20,288V309M28,284V309M36,265V289M44,273V280M52,276V308M56,295V346M60,344V400M68,330V348M92,275V301M100,285V323M104,318V330M108,320V356M112,332V368M136,214V280M140,257V284M160,196V227M180,159V200M184,172V221M188,209V227M200,167V203M212,150V176M216,156V178M220,159V180M224,169V191M244,71V96M248,78V116M252,108V140M272,76V103M280,67V100M292,64V88M316,44V67M320,57V77M328,47V86M332,6V122M340,100V144M348,90V145M352,136V182M356,158V178M364,170V196M372,178V219M380,198V214M384,200V227M392,203V238M400,193V234M404,192V210M412,198V228M424,167V197M428,186V200M440,145V173M444,168V208M448,203V240M468,188V272M472,262V298M476,293V325M488,292V328M500,279V295M512,242V263M516,245V263M548,156V173M552,170V186M556,183V212M568,156V194M576,165V185M588,154V196M592,182V234M604,186V213M612,180V192M620,176V203M632,162V207M648,159V180M656,172V220M660,209V228M664,196V223M668,216V233M672,218V238M676,229V269M680,255V271M688,215V236M704,176V248M712,172V289M728,250V290M732,260V277M736,270V406M740,385V419M752,322V343M756,329V360M764,325V348M772,334V413M776,403V464M780,440V476M788,380V408M804,330V357M812,344V382M816,344V407M828,351V378M832,357V417M836,384V422M844,386V431M848,413V470M868,358V369M872,360V383M876,373V398M884,340V352M892,325V368M896,362V413M904,366V419M908,383V394M920,350V384M924,372V390M932,375V410M940,380V408M948,349V368M964,344V371M968,364V381M976,332V383M984,300V320M988,314V322M1004,270V278M1016,257V292M1020,271V291M1040,163V205M1052,166V270M1064,201V241M1068,230V304M1084,265V284M1088,279V313M1092,290V309M1112,263V292M1116,280V304M1120,295V323M1128,300V319M1132,308V341" stroke="#2f4f4f" stroke-width="1" transform="translate(.5,0)" fill="none"/>
<path d="M-1,307h3V331h-3zM3,302h3V308h-3zM15,288h3V320h-3zM23,286h3V292h-3zM31,270h3V294h-3zM39,276h3V280h-3zM47,278h3V298h-3zM63,334h3V394h-3zM71,344h3V357h-3zM75,332h3V344h-3zM79,326h3V334h-3zM83,299h3V327h-3zM87,280h3V300h-3zM95,288h3V305h-3zM115,339h3V353h-3zM119,324h3V361h-3zM123,320h3V325h-3zM127,291h3V324h-3zM131,243h3V295h-3zM143,272h3V282h-3zM147,260h3V272h-3zM151,223h3V261h-3zM155,200h3V222h-3zM163,209h3V222h-3zM167,200h3V227h-3zM171,182h3V202h-3zM175,169h3V184h-3zM191,215h3V233h-3zM195,172h3V215h-3zM203,173h3V194h-3zM207,160h3V173h-3zM227,154h3V179h-3zM231,88h3V153h-3zM235,87h3V90h-3zM239,74h3V97h-3zM255,114h3V127h-3zM259,110h3V119h-3zM263,103h3V137h-3zM267,81h3V103h-3zM275,77h3V89h-3zM283,70h3V78h-3zM287,74h3V95h-3zM295,82h3V86h-3zM299,74h3V84h-3zM303,46h3V75h-3zM307,44h3V48h-3zM311,48h3V59h-3zM323,52h3V69h-3zM335,105h3V121h-3zM343,127h3V140h-3zM359,172h3V175h-3zM367,181h3V188h-3zM375,202h3V213h-3zM387,203h3V222h-3zM395,199h3V205h-3zM407,200h3V207h-3zM415,195h3V226h-3zM419,179h3V197h-3zM431,204h3V214h-3zM435,160h3V204h-3zM451,225h3V237h-3zM455,206h3V235h-3zM459,197h3V207h-3zM463,195h3V198h-3zM479,300h3V316h-3zM483,296h3V307h-3zM491,303h3V318h-3zM495,284h3V303h-3zM503,270h3V291h-3zM507,245h3V272h-3zM519,229h3V251h-3zM523,235h3V241h-3zM527,232h3V248h-3zM531,182h3V234h-3zM535,178h3V184h-3zM539,172h3V179h-3zM543,160h3V172h-3zM559,167h3V185h-3zM563,159h3V176h-3zM571,159h3V180h-3zM579,163h3V181h-3zM583,156h3V163h-3zM595,201h3V205h-3zM599,192h3V221h-3zM607,182h3V211h-3zM615,178h3V183h-3zM623,197h3V227h-3zM627,189h3V196h-3zM635,176h3V196h-3zM639,163h3V176h-3zM643,161h3V165h-3zM651,173h3V179h-3zM683,229h3V263h-3zM691,217h3V230h-3zM695,203h3V239h-3zM699,182h3V204h-3zM707,182h3V227h-3zM715,274h3V286h-3zM719,254h3V285h-3zM723,250h3V253h-3zM743,345h3V352h-3zM747,331h3V344h-3zM759,328h3V355h-3zM767,339h3V355h-3zM783,385h3V463h-3zM791,384h3V409h-3zM795,345h3V385h-3zM799,339h3V343h-3zM807,346h3V356h-3zM819,387h3V390h-3zM823,358h3V389h-3zM839,399h3V402h-3zM851,415h3V442h-3zM855,397h3V417h-3zM859,381h3V398h-3zM863,366h3V387h-3zM879,350h3V385h-3zM887,326h3V357h-3zM899,377h3V406h-3zM911,380h3V388h-3zM915,374h3V382h-3zM927,366h3V380h-3zM935,385h3V403h-3zM943,355h3V398h-3zM951,350h3V363h-3zM955,348h3V352h-3zM959,345h3V358h-3zM971,339h3V380h-3zM979,351h3V355h-3zM991,292h3V310h-3zM995,289h3V293h-3zM999,276h3V290h-3zM1007,268h3V276h-3zM1011,260h3V270h-3zM1023,219h3V274h-3zM1027,214h3V220h-3zM1031,206h3V228h-3zM1035,203h3V207h-3zM1043,199h3V203h-3zM1047,172h3V200h-3zM1055,218h3V255h-3zM1059,207h3V218h-3zM1071,274h3V302h-3zM1075,273h3V278h-3zM1079,270h3V274h-3zM1095,300h3V306h-3zM1099,295h3V300h-3zM1103,290h3V296h-3zM1107,268h3V292h-3zM1123,303h3V305h-3z" fill="#9b0000"/>
<path d="M7,301h3V308h-3zM11,307h3V320h-3zM19,289h3V304h-3zM27,286h3V295h-3zM35,270h3V278h-3zM43,273h3V279h-3zM51,278h3V305h-3zM55,305h3V346h-3zM59,346h3V394h-3zM67,340h3V344h-3zM91,280h3V290h-3zM99,287h3V321h-3zM103,321h3V323h-3zM107,322h3V333h-3zM111,334h3V353h-3zM135,243h3V259h-3zM139,259h3V276h-3zM159,200h3V220h-3zM179,171h3V197h-3zM183,199h3V211h-3zM187,211h3V221h-3zM199,173h3V193h-3zM211,159h3V172h-3zM215,172h3V175h-3zM219,175h3V177h-3zM223,176h3V179h-3zM243,74h3V93h-3zM247,91h3V113h-3zM251,112h3V127h-3zM271,80h3V90h-3zM279,77h3V79h-3zM291,73h3V85h-3zM315,48h3V60h-3zM319,60h3V68h-3zM327,52h3V81h-3zM331,82h3V102h-3zM339,104h3V140h-3zM347,127h3V140h-3zM351,140h3V160h-3zM355,162h3V174h-3zM363,174h3V188h-3zM371,181h3V215h-3zM379,202h3V210h-3zM383,210h3V222h-3zM391,205h3V208h-3zM399,195h3V207h-3zM403,195h3V207h-3zM411,200h3V225h-3zM423,181h3V195h-3zM427,190h3V197h-3zM439,160h3V170h-3zM443,172h3V206h-3zM447,206h3V237h-3zM467,195h3V264h-3zM471,264h3V296h-3zM475,296h3V301h-3zM487,297h3V316h-3zM499,284h3V291h-3zM511,244h3V248h-3zM515,247h3V250h-3zM547,160h3V170h-3zM551,184h3V186h-3zM555,185h3V188h-3zM567,159h3V179h-3zM575,172h3V183h-3zM587,156h3V190h-3zM591,190h3V206h-3zM603,193h3V211h-3zM611,182h3V184h-3zM619,178h3V190h-3zM631,189h3V195h-3zM647,173h3V179h-3zM655,175h3V212h-3zM659,212h3V217h-3zM663,217h3V221h-3zM667,218h3V228h-3zM671,229h3V236h-3zM675,237h3V258h-3zM679,258h3V264h-3zM687,229h3V232h-3zM703,183h3V227h-3zM711,182h3V286h-3zM727,254h3V269h-3zM731,263h3V274h-3zM735,274h3V399h-3zM739,399h3V412h-3zM751,331h3V335h-3zM755,333h3V355h-3zM763,328h3V345h-3zM771,338h3V406h-3zM775,406h3V445h-3zM779,445h3V464h-3zM787,386h3V396h-3zM803,340h3V355h-3zM811,346h3V350h-3zM815,375h3V390h-3zM827,358h3V368h-3zM831,370h3V386h-3zM835,386h3V392h-3zM843,399h3V416h-3zM847,416h3V442h-3zM867,362h3V366h-3zM871,366h3V376h-3zM875,376h3V384h-3zM883,346h3V349h-3zM891,328h3V365h-3zM895,365h3V396h-3zM903,380h3V393h-3zM907,386h3V389h-3zM919,372h3V381h-3zM923,378h3V384h-3zM931,378h3V390h-3zM939,385h3V397h-3zM947,355h3V363h-3zM963,348h3V366h-3zM967,368h3V378h-3zM975,339h3V354h-3zM983,303h3V318h-3zM987,316h3V319h-3zM1003,271h3V276h-3zM1015,260h3V289h-3zM1019,274h3V289h-3zM1039,200h3V203h-3zM1051,172h3V239h-3zM1063,204h3V235h-3zM1067,235h3V303h-3zM1083,270h3V281h-3zM1087,282h3V295h-3zM1091,294h3V306h-3zM1111,268h3V289h-3zM1115,288h3V300h-3zM1119,302h3V304h-3zM1127,306h3V311h-3zM1131,310h3V330h-3z" fill="#2f4f4f"/>
<path d="M0,308h1V330h-1zM4,303h1V307h-1zM16,289h1V319h-1zM24,287h1V291h-1zM32,271h1V293h-1zM40,277h1V279h-1zM48,279h1V297h-1zM64,335h1V393h-1zM72,345h1V356h-1zM76,333h1V343h-1zM80,327h1V333h-1zM84,300h1V326h-1zM88,281h1V299h-1zM96,289h1V304h-1zM116,340h1V352h-1zM120,325h1V360h-1zM124,321h1V324h-1zM128,292h1V323h-1zM132,244h1V294h-1zM144,273h1V281h-1zM148,261h1V271h-1zM152,224h1V260h-1zM156,201h1V221h-1zM164,210h1V221h-1zM168,201h1V226h-1zM172,183h1V201h-1zM176,170h1V183h-1zM192,216h1V232h-1zM196,173h1V214h-1zM204,174h1V193h-1zM208,161h1V172h-1zM228,155h1V178h-1zM232,89h1V152h-1zM236,88h1V89h-1zM240,75h1V96h-1zM256,115h1V126h-1zM260,111h1V118h-1zM264,104h1V136h-1zM268,82h1V102h-1zM276,78h1V88h-1zM284,71h1V77h-1zM288,75h1V94h-1zM296,83h1V85h-1zM300,75h1V83h-1zM304,47h1V74h-1zM308,45h1V47h-1zM312,49h1V58h-1zM324,53h1V68h-1zM336,106h1V120h-1zM344,128h1V139h-1zM360,173h1V174h-1zM368,182h1V187h-1zM376,203h1V212h-1zM388,204h1V221h-1zM396,200h1V204h-1zM408,201h1V206h-1zM416,196h1V225h-1zM420,180h1V196h-1zM432,205h1V213h-1zM436,161h1V203h-1zM452,226h1V236h-1zM456,207h1V234h-1zM460,198h1V206h-1zM464,196h1V197h-1zM480,301h1V315h-1zM484,297h1V306h-1zM492,304h1V317h-1zM496,285h1V302h-1zM504,271h1V290h-1zM508,246h1V271h-1zM520,230h1V250h-1zM524,236h1V240h-1zM528,233h1V247h-1zM532,183h1V233h-1zM536,179h1V183h-1zM540,173h1V178h-1zM544,161h1V171h-1zM560,168h1V184h-1zM564,160h1V175h-1zM572,160h1V179h-1zM580,164h1V180h-1zM584,157h1V162h-1zM596,202h1V204h-1zM600,193h1V220h-1zM608,183h1V210h-1zM616,179h1V182h-1zM624,198h1V226h-1zM628,190h1V195h-1zM636,177h1V195h-1zM640,164h1V175h-1zM644,162h1V164h-1zM652,174h1V178h-1zM684,230h1V262h-1zM692,218h1V229h-1zM696,204h1V238h-1zM700,183h1V203h-1zM708,183h1V226h-1zM716,275h1V285h-1zM720,255h1V284h-1zM724,251h1V252h-1zM744,346h1V351h-1zM748,332h1V343h-1zM760,329h1V354h-1zM768,340h1V354h-1zM784,386h1V462h-1zM792,385h1V408h-1zM796,346h1V384h-1zM800,340h1V342h-1zM808,347h1V355h-1zM820,388h1V389h-1zM824,359h1V388h-1zM840,400h1V401h-1zM852,416h1V441h-1zM856,398h1V416h-1zM860,382h1V397h-1zM864,367h1V386h-1zM880,351h1V384h-1zM888,327h1V356h-1zM900,378h1V405h-1zM912,381h1V387h-1zM916,375h1V381h-1zM928,367h1V379h-1zM936,386h1V402h-1zM944,356h1V397h-1zM952,351h1V362h-1zM956,349h1V351h-1zM960,346h1V357h-1zM972,340h1V379h-1zM980,352h1V354h-1zM992,293h1V309h-1zM996,290h1V292h-1zM1000,277h1V289h-1zM1008,269h1V275h-1zM1012,261h1V269h-1zM1024,220h1V273h-1zM1028,215h1V219h-1zM1032,207h1V227h-1zM1036,204h1V206h-1zM1044,200h1V202h-1zM1048,173h1V199h-1zM1056,219h1V254h-1zM1060,208h1V217h-1zM1072,275h1V301h-1zM1076,274h1V277h-1zM1080,271h1V273h-1zM1096,301h1V305h-1zM1100,296h1V299h-1zM1104,291h1V295h-1zM1108,269h1V291h-1z" fill="#ff0000"/>
<path d="M8,302h1V307h-1zM12,308h1V319h-1zM20,290h1V303h-1zM28,287h1V294h-1zM36,271h1V277h-1zM44,274h1V278h-1zM52,279h1V304h-1zM56,306h1V345h-1zM60,347h1V393h-1zM68,341h1V343h-1zM92,281h1V289h-1zM100,288h1V320h-1zM108,323h1V332h-1zM112,335h1V352h-1zM136,244h1V258h-1zM140,260h1V275h-1zM160,201h1V219h-1zM180,172h1V196h-1zM184,200h1V210h-1zM188,212h1V220h-1zM200,174h1V192h-1zM212,160h1V171h-1zM216,173h1V174h-1zM224,177h1V178h-1zM244,75h1V92h-1zM248,92h1V112h-1zM252,113h1V126h-1zM272,81h1V89h-1zM292,74h1V84h-1zM316,49h1V59h-1zM320,61h1V67h-1zM328,53h1V80h-1zM332,83h1V101h-1zM340,105h1V139h-1zM348,128h1V139h-1zM352,141h1V159h-1zM356,163h1V173h-1zM364,175h1V187h-1zM372,182h1V214h-1zM380,203h1V209h-1zM384,211h1V221h-1zM392,206h1V207h-1zM400,196h1V206h-1zM404,196h1V206h-1zM412,201h1V224h-1zM424,182h1V194h-1zM428,191h1V196h-1zM440,161h1V169h-1zM444,173h1V205h-1zM448,207h1V236h-1zM468,196h1V263h-1zM472,265h1V295h-1zM476,297h1V300h-1zM488,298h1V315h-1zM500,285h1V290h-1zM512,245h1V247h-1zM516,248h1V249h-1zM548,161h1V169h-1zM556,186h1V187h-1zM568,160h1V178h-1zM576,173h1V182h-1zM588,157h1V189h-1zM592,191h1V205h-1zM604,194h1V210h-1zM620,179h1V189h-1zM632,190h1V194h-1zM648,174h1V178h-1zM656,176h1V211h-1zM660,213h1V216h-1zM664,218h1V220h-1zM668,219h1V227h-1zM672,230h1V235h-1zM676,238h1V257h-1zM680,259h1V263h-1zM688,230h1V231h-1zM704,184h1V226h-1zM712,183h1V285h-1zM728,255h1V268h-1zM732,264h1V273h-1zM736,275h1V398h-1zM740,400h1V411h-1zM752,332h1V334h-1zM756,334h1V354h-1zM764,329h1V344h-1zM772,339h1V405h-1zM776,407h1V444h-1zM780,446h1V463h-1zM788,387h1V395h-1zM804,341h1V354h-1zM812,347h1V349h-1zM816,376h1V389h-1zM828,359h1V367h-1zM832,371h1V385h-1zM836,387h1V391h-1zM844,400h1V415h-1zM848,417h1V441h-1zM868,363h1V365h-1zM872,367h1V375h-1zM876,377h1V383h-1zM884,347h1V348h-1zM892,329h1V364h-1zM896,366h1V395h-1zM904,381h1V392h-1zM908,387h1V388h-1zM920,373h1V380h-1zM924,379h1V383h-1zM932,379h1V389h-1zM940,386h1V396h-1zM948,356h1V362h-1zM964,349h1V365h-1zM968,369h1V377h-1zM976,340h1V353h-1zM984,304h1V317h-1zM988,317h1V318h-1zM1004,272h1V275h-1zM1016,261h1V288h-1zM1020,275h1V288h-1zM1040,201h1V202h-1zM1052,173h1V238h-1zM1064,205h1V234h-1zM1068,236h1V302h-1zM1084,271h1V280h-1zM1088,283h1V294h-1zM1092,295h1V305h-1zM1112,269h1V288h-1zM1116,289h1V299h-1zM1128,307h1V310h-1zM1132,311h1V329h-1z" fill="#90ee90"/>
</g>
</g>
<polygon points="778.2,470.5 852.7,381.4 871.8,356.7 878.3,362.4 888.9,326.9 857.2,346 864.3,350.9 845.2,375.6 777.6,470.1" fill="#f85555"/>
<polygon points="891.8,333.1 912.2,387.5 912.3,387.6 905,390.4 930.9,414.7 928.5,379.3 921.7,383.1 921.7,383 892.6,332.7" fill="#f85555"/>
<polygon points="935.1,411 1007.5,260.7 1032.9,203.9 1039.4,207.3 1041,173 1016.5,197.1 1023.4,199.6 998,256.5 934.4,410.6" fill="#f85555"/>
<polygon points="1040.6,173.2 1103.9,314.5 1127.9,363.8 1121.2,366.5 1146.7,390.4 1143.6,355.5 1137.4,359.1 1113.4,309.8 1041.4,172.8" fill="#f85555"/>
<polygon points="1148.7,382.5 1172.1,322.2 1173.2,318.6 1180.6,321.4 1178.1,286 1156,313.8 1163.7,315.7 1162.6,319.2 1147.9,382.3" fill="#f85555"/>
<g shape-rendering="crispEdges" fill="#000">
<rect x="0" y="539" width="1210" height="1"/>
<rect x="0" y="541" width="1210" height="1"/>
<rect x="0" y="675" width="1210" height="1"/>
<rect x="0" y="677" width="1210" height="1"/>
<rect x="0" y="797" width="1210" height="1"/>
<rect x="1209" y="0" width="1" height="540"/>
<rect x="1209" y="541" width="1" height="135"/>
<rect x="1209" y="677" width="1" height="121"/>
<rect x="1210" y="30" width="2" height="1"/>
<rect x="1210" y="79" width="2" height="1"/>
<rect x="1210" y="128" width="2" height="1"/>
<rect x="1210" y="177" width="2" height="1"/>
<rect x="1210" y="226" width="2" height="1"/>
<rect x="1210" y="275" width="2" height="1"/>
<rect x="1210" y="324" width="2" height="1"/>
<rect x="1210" y="373" width="2" height="1"/>
<rect x="1210" y="422" width="2" height="1"/>
<rect x="1210" y="471" width="2" height="1"/>
<rect x="1210" y="520" width="2" height="1"/>
<rect x="32" y="798" width="1" height="3"/>
<rect x="128" y="798" width="1" height="3"/>
<rect x="224" y="798" width="1" height="3"/>
<rect x="320" y="798" width="1" height="3"/>
<rect x="416" y="798" width="1" height="3"/>
<rect x="512" y="798" width="1" height="3"/>
<rect x="608" y="798" width="1" height="3"/>
<rect x="704" y="798" width="1" height="3"/>
<rect x="800" y="798" width="1" height="3"/>
<rect x="896" y="798" width="1" height="3"/>
<rect x="992" y="798" width="1" height="3"/>
<rect x="1088" y="798" width="1" height="3"/>
<rect x="1210" y="741" width="2" height="1"/>
</g>
<g font-family="Liberation Sans, sans-serif" font-size="12.5" fill="#000">
<text x="1216" y="34.8">0.66930</text>
<text x="1216" y="83.8">0.66650</text>
<text x="1216" y="132.8">0.66375</text>
<text x="1216" y="181.8">0.66095</text>
<text x="1216" y="230.8">0.65820</text>
<text x="1216" y="279.8">0.65540</text>
<text x="1216" y="328.8">0.65265</text>
<text x="1216" y="377.8">0.64985</text>
<text x="1216" y="426.8">0.64710</text>
<text x="1216" y="475.8">0.64430</text>
<text x="1216" y="524.8">0.64155</text>
<text x="-63.5" y="813">28 Aug 08:00</text>
<text x="31" y="813">1 Sep 08:00</text>
<text x="127" y="813">5 Sep 08:00</text>
<text x="223" y="813">11 Sep 08:00</text>
<text x="319" y="813">17 Sep 08:00</text>
<text x="415" y="813">23 Sep 08:00</text>
<text x="511" y="813">29 Sep 08:00</text>
<text x="607" y="813">3 Oct 08:00</text>
<text x="703" y="813">9 Oct 08:00</text>
<text x="799" y="813">15 Oct 08:00</text>
<text x="895" y="813">21 Oct 08:00</text>
<text x="991" y="813">27 Oct 08:00</text>
<text x="1087" y="813">31 Oct 08:00</text>
<text x="1213" y="555">100</text><text x="1213" y="614">50</text><text x="1213" y="673">0</text>
<text x="1213" y="692">0.0032939</text><text x="1213" y="745.8">0.00</text><text x="1213" y="793.8">-0.0029422</text>
</g>
<rect x="1211" y="256" width="56" height="14" fill="#ff0000" shape-rendering="crispEdges"/>
<text x="1216" y="267.9" font-family="Liberation Sans, sans-serif" font-size="12.5" fill="#fff">0.65613</text>
<rect x="1211" y="272" width="56" height="14" fill="#ff0000" shape-rendering="crispEdges"/>
<text x="1216" y="283.9" font-family="Liberation Sans, sans-serif" font-size="12.5" fill="#fff">0.65527</text>
<rect x="1211" y="323" width="56" height="14" fill="#000000" shape-rendering="crispEdges"/>
<text x="1216" y="334.9" font-family="Liberation Sans, sans-serif" font-size="12.5" fill="#fff">0.65233</text>
<rect x="1211" y="365" width="56" height="14" fill="#ff0000" shape-rendering="crispEdges"/>
<text x="1216" y="376.9" font-family="Liberation Sans, sans-serif" font-size="12.5" fill="#fff">0.65001</text>
<rect x="1211" y="382" width="56" height="14" fill="#ff0000" shape-rendering="crispEdges"/>
<text x="1216" y="393.9" font-family="Liberation Sans, sans-serif" font-size="12.5" fill="#fff">0.64902</text>
<clipPath id="cr"><rect x="0" y="542" width="1209" height="133"/></clipPath>
<g shape-rendering="crispEdges">
<rect x="0" y="562" width="1209" height="1" fill="#ff0000"/>
<line x1="0" y1="582.5" x2="1209" y2="582.5" stroke="#ff0000" stroke-dasharray="9 3 3 3 3 3" stroke-dashoffset="16"/>
<line x1="0" y1="609.5" x2="1209" y2="609.5" stroke="#606060" stroke-dasharray="3 3" stroke-dashoffset="3"/>
<line x1="0" y1="636.5" x2="1209" y2="636.5" stroke="#0000ff" stroke-dasharray="9 3 3 3 3 3" stroke-dashoffset="16"/>
<rect x="0" y="656" width="1209" height="1" fill="#0000ff"/>
</g>
<rect x="1211" y="556" width="56" height="14" fill="#ff0000" shape-rendering="crispEdges"/>
<text x="1216" y="567.9" font-family="Liberation Sans, sans-serif" font-size="12.5" fill="#fff">85.0000</text>
<rect x="1211" y="576" width="56" height="14" fill="#ff0000" shape-rendering="crispEdges"/>
<text x="1216" y="587.9" font-family="Liberation Sans, sans-serif" font-size="12.5" fill="#fff">70.0000</text>
<rect x="1211" y="630" width="56" height="14" fill="#0000ff" shape-rendering="crispEdges"/>
<text x="1216" y="641.9" font-family="Liberation Sans, sans-serif" font-size="12.5" fill="#fff">30.0000</text>
<rect x="1211" y="650" width="56" height="14" fill="#0000ff" shape-rendering="crispEdges"/>
<text x="1216" y="661.9" font-family="Liberation Sans, sans-serif" font-size="12.5" fill="#fff">15.0000</text>
<g clip-path="url(#cr)" fill="none" stroke-width="1" stroke-linejoin="round" shape-rendering="crispEdges">
<polyline points="0,582.7 5,577 9,580 12.5,589 17.6,580 24,576 29,577 36.4,566.4 44,568.4 47.7,580 52.7,597.8 56.5,635.5 60.3,651.3 65.3,636.7 68.3,621.7 72,624 75.4,616.6 80,620 84,600 88.4,588 92.2,586.5 95.5,599 99.7,600.8 104,618 109,626.7 113.5,629.5 120.6,628.4 124.3,602.8 130.6,579 136,569.4 139.4,589 144,597 149.5,585 156,572.7 162,572.7 168.3,575 173.3,567 179.6,564.4 183.4,582.7 188,605.3 192,609 197,591.5 203.5,581.5 208.5,575 213.5,581.5 220,589 223.6,601.6 228,605 231,575 236,565.6 241,567 245,566.4 250,585 252.4,599 256.7,601.6 260.5,589 264.3,609 268.8,589 276.3,586.5 284.4,579.7 287.6,586.5 296.4,587.7 308.5,569 315.3,585.2 320,602.8 323.8,599 328.8,602.8 332.6,597.8 336.3,636.7 343.9,650 348,626 352,641.8 360,645.5 369,651.8 377.8,655.6 387.8,657.3 392.8,658.8 394.9,633 396.6,628.4 400,636.7 404,618 408,618.5 413,629 416.7,624 420.5,600.3 425,600.3 432.5,619 436.8,595.3 440.6,586.5 444.3,610.4 448.6,626.7 452.6,630.5 457.7,615.4 463,612.4 468,628 472,643 476,651 480.8,651 484.5,644.3 492,649.3 495.8,630.5 499.6,619 504,615.4 508.4,600.3 512,593.5 517,597.3 524.7,584 528.5,589 532,574.7 536.5,572.7 541,563 544.3,560.9 548.6,565.6 552.4,579 556,601.6 560.6,589 564,583 567.4,592 572,589 576.7,596.5 584,587 587.5,597.8 592.5,627.4 596.3,621.7 600,623 605,615.4 609,613 614,602.8 617,600.3 621.4,613 624.4,628 627.7,607.8 631.5,602.8 636,610.4 640,594 643.8,588.3 648.8,595.3 652.6,595.3 656.3,621.7 660.6,631.7 665,629 671.4,639 676.4,649.3 680,651.3 684,635.5 687.7,615.4 692.8,613 696.5,610.4 700.3,590.3 704,604 708.3,597.8 712.8,621.7 716.6,640.5 720.9,626.7 724.7,618 729,625.4 733.4,635.5 736.7,648 740.5,655.6 744.2,638 748,621.7 753,624 759.3,626 765,621.7 769.4,626.7 773,640.5 777,649.3 780,652.3 783,635.5 787,620.4 792,616.6 796,601.6 800.8,596 805.8,597.8 809.6,600.8 812.8,613 819.6,619 824.6,609 828.4,607.8 832,623 837,629 841,630.5 844.7,638 848.5,646.3 852.3,618 857.3,614 861,602.8 864.8,596.5 868.6,588.3 872.4,599 876,610.4 881,591.5 886,586.5 890,587.7 893.7,600.3 896.7,621.7 903.8,623.4 911.3,620.4 916.3,615.4 920.6,596 924.3,616.6 928.9,616.6 933.9,621.7 940,621.7 944,600.3 949,585.2 954,579.5 957,580.2 962.8,594 967.8,609.9 972,592.3 976,597.8 980.4,591.5 984,570.2 988,572.7 996.2,562.6 1000.5,566.4 1011.8,563 1015.5,579 1019.8,582.2 1024.3,565 1028.6,558.4 1037,556.4 1040.7,554.6 1044.4,576.4 1048.2,572.7 1052,595.3 1056.2,613 1060.8,602.3 1064,603.3 1068.3,626.7 1072,635.5 1077,625.4 1082,625.4 1089,636.2 1092.7,635.5 1096.4,631.2 1100.2,633 1104,626.7 1107.7,610.4 1111.7,607.8 1116,621.7 1119.8,636.7 1124,623.7 1127.8,626.7 1132.3,636.2" stroke="#000"/>
<polyline points="0.5,587.5 4.5,584.5 8.5,585.2 12.5,590.2 16.5,586.1 20.5,583.6 24.5,582.1 28.5,582.1 32.5,578.9 36.5,575.3 40.5,575.3 44.5,576.1 48.5,583 52.5,591.1 56.5,613.5 60.5,623.7 64.5,618.9 68.5,610.5 72.5,611.9 76.5,609.6 80.5,610.2 84.5,599.9 88.5,593.7 92.5,593.2 96.5,599.5 100.5,602.1 104.5,610.7 108.5,615.2 112.5,617.7 116.5,618.6 120.5,619 124.5,604.6 128.5,595.8 132.5,588.7 136.5,585.9 140.5,595.6 144.5,598.1 148.5,593 152.5,588.1 156.5,583.7 160.5,582.9 164.5,582.7 168.5,582.7 172.5,578.5 176.5,576.3 180.5,577.3 184.5,587.7 188.5,597.8 192.5,599.2 196.5,591.8 200.5,587.8 204.5,584.4 208.5,581.1 212.5,583.6 216.5,586.1 220.5,589.3 224.5,596 228.5,595.1 232.5,579.6 236.5,575.4 240.5,575.4 244.5,574.6 248.5,581.4 252.5,592.4 256.5,594.3 260.5,587.7 264.5,598.7 268.5,589.2 272.5,587.8 276.5,587 280.5,585 284.5,583.1 288.5,586.7 292.5,587 296.5,587.3 300.5,583.8 304.5,580.1 308.5,576.2 312.5,581.1 316.5,587.3 320.5,594.7 324.5,593.6 328.5,595.8 332.5,593.6 336.5,616.2 340.5,621.6 344.5,624.6 348.5,615.6 352.5,624.5 356.5,626.7 360.5,629.1 364.5,631.8 368.5,634.6 372.5,636.9 376.5,639 380.5,640.7 384.5,642.2 388.5,643.6 392.5,645.3 396.5,629.1 400.5,632.3 404.5,623.2 408.5,623.7 412.5,628.2 416.5,626 420.5,612.3 424.5,611.4 428.5,615.6 432.5,620.8 436.5,608.1 440.5,601.5 444.5,614.4 448.5,622.8 452.5,625.4 456.5,619.2 460.5,616.3 464.5,618 468.5,625.2 472.5,633.6 476.5,638.3 480.5,639.2 484.5,636.2 488.5,638.3 492.5,638.8 496.5,628.9 500.5,623.1 504.5,620.1 508.5,611.9 512.5,607.5 516.5,608.3 520.5,604.3 524.5,599.4 528.5,601 532.5,591.9 536.5,589.7 540.5,583.6 544.5,580.5 548.5,581.7 552.5,588.6 556.5,599.7 560.5,593.5 564.5,590.4 568.5,593.9 572.5,592.9 576.5,596.3 580.5,593.7 584.5,591.8 588.5,600.2 592.5,614 596.5,611.7 600.5,612.7 604.5,609.9 608.5,608.7 612.5,604.8 616.5,601.9 620.5,607.3 624.5,617.2 628.5,606.2 632.5,604.9 636.5,607.1 640.5,598.6 644.5,596 648.5,598.7 652.5,598.7 656.5,613.7 660.5,619.6 664.5,619.2 668.5,622.9 672.5,627.6 676.5,633.1 680.5,634.2 684.5,625.9 688.5,616.2 692.5,615.1 696.5,613.4 700.5,602.1 704.5,608.3 708.5,605.5 712.5,617.1 716.5,628.7 720.5,622.6 724.5,617.5 728.5,621.1 732.5,626.4 736.5,634.8 740.5,640.4 744.5,630.7 748.5,622.7 752.5,623.7 756.5,624.5 760.5,624.5 764.5,622.8 768.5,624.8 772.5,632.2 776.5,638.2 780.5,639.6 784.5,629.1 788.5,623.1 792.5,620.3 796.5,612.1 800.5,608.6 804.5,608.3 808.5,609 812.5,615.2 816.5,617.5 820.5,617.9 824.5,613.3 828.5,612.5 832.5,620.9 836.5,623.9 840.5,625.3 844.5,629.8 848.5,635.3 852.5,619.8 856.5,617.9 860.5,611.8 864.5,607.1 868.5,601.5 872.5,606.8 876.5,611.5 880.5,602.7 884.5,598.9 888.5,597.7 892.5,602.1 896.5,615.4 900.5,617.1 904.5,617.8 908.5,617.2 912.5,616.2 916.5,613.7 920.5,603.5 924.5,614.5 928.5,614.6 932.5,616.9 936.5,617.9 940.5,616.7 944.5,605.3 948.5,598 952.5,594 956.5,592.5 960.5,596.4 964.5,602.1 968.5,606.2 972.5,598.3 976.5,600.3 980.5,596.5 984.5,584.5 988.5,584.4 992.5,580.7 996.5,577.3 1000.5,578.3 1004.5,576.8 1008.5,575.3 1012.5,575.7 1016.5,582.8 1020.5,582.5 1024.5,573.8 1028.5,569.7 1032.5,568.3 1036.5,567 1040.5,565.2 1044.5,576.8 1048.5,575.7 1052.5,588.7 1056.5,597.8 1060.5,593.5 1064.5,595.9 1068.5,608.7 1072.5,614.1 1076.5,611 1080.5,611.5 1084.5,614.6 1088.5,619.2 1092.5,620.4 1096.5,619 1100.5,620.6 1104.5,616.8 1108.5,609 1112.5,609.4 1116.5,617 1120.5,623.7 1124.5,618.5 1128.5,621.2 1132.5,626.3" stroke="#0000ff"/>
<polyline points="0.5,593.5 4.5,591.2 8.5,591.4 12.5,594.6 16.5,591.5 20.5,589.6 24.5,588.2 28.5,588 32.5,585.5 36.5,582.7 40.5,582.4 44.5,582.7 48.5,587.3 52.5,592.8 56.5,608.4 60.5,615.7 64.5,612.6 68.5,606.9 72.5,608 76.5,606.5 80.5,607 84.5,599.9 88.5,595.6 92.5,595.1 96.5,599.5 100.5,601.3 104.5,607.4 108.5,610.7 112.5,612.6 116.5,613.4 120.5,613.8 124.5,603.9 128.5,597.8 132.5,592.8 136.5,590.7 140.5,597.3 144.5,599 148.5,595.4 152.5,591.9 156.5,588.7 160.5,588 164.5,587.6 168.5,587.4 172.5,584.3 176.5,582.5 180.5,583 184.5,590.1 188.5,597.1 192.5,598.1 196.5,592.9 200.5,590 204.5,587.5 208.5,585.1 212.5,586.7 216.5,588.3 220.5,590.5 224.5,595.1 228.5,594.5 232.5,583.6 236.5,580.5 240.5,580.3 244.5,579.6 248.5,584.2 252.5,591.8 256.5,593.1 260.5,588.5 264.5,596.1 268.5,589.6 272.5,588.6 276.5,588 280.5,586.6 284.5,585.2 288.5,587.6 292.5,587.8 296.5,587.9 300.5,585.4 304.5,582.8 308.5,580 312.5,583.3 316.5,587.5 320.5,592.7 324.5,592 328.5,593.5 332.5,592.1 336.5,608 340.5,612.1 344.5,614.5 348.5,608.6 352.5,615.1 356.5,617 360.5,619 364.5,621.3 368.5,623.7 372.5,625.7 376.5,627.6 380.5,629.3 384.5,630.7 388.5,632.2 392.5,633.8 396.5,622.9 400.5,625.5 404.5,619.3 408.5,619.9 412.5,623.2 416.5,622 420.5,612.5 424.5,611.9 428.5,614.9 432.5,618.6 436.5,609.8 440.5,605.2 444.5,614.1 448.5,620 452.5,622 456.5,617.8 460.5,615.7 464.5,617 468.5,622.1 472.5,628.1 476.5,631.6 480.5,632.5 484.5,630.6 488.5,632.3 492.5,632.9 496.5,626.2 500.5,622.2 504.5,620.2 508.5,614.5 512.5,611.3 516.5,611.8 520.5,608.8 524.5,605.3 528.5,606.2 532.5,599.6 536.5,597.8 540.5,593.2 544.5,590.7 548.5,591.1 552.5,595.6 556.5,603.1 560.5,598.6 564.5,596.2 568.5,598.5 572.5,597.6 576.5,599.8 580.5,597.8 584.5,596.3 588.5,602 592.5,611.5 596.5,610 600.5,610.7 604.5,608.8 608.5,608 612.5,605.3 616.5,603.2 620.5,607 624.5,613.9 628.5,606.3 632.5,605.4 636.5,606.9 640.5,600.9 644.5,599 648.5,600.8 652.5,600.7 656.5,611.2 660.5,615.4 664.5,615.3 668.5,618 672.5,621.4 676.5,625.6 680.5,626.6 684.5,621 688.5,614.5 692.5,613.7 696.5,612.6 700.5,604.8 704.5,609 708.5,607 712.5,615.1 716.5,623.3 720.5,619.3 724.5,615.8 728.5,618.4 732.5,622.2 736.5,628.3 740.5,632.5 744.5,625.9 748.5,620.5 752.5,621.3 756.5,622 760.5,622.1 764.5,621 768.5,622.5 772.5,627.8 776.5,632.1 780.5,633.4 784.5,626.3 788.5,622.2 792.5,620.2 796.5,614.5 800.5,612 804.5,611.7 808.5,612.1 812.5,616.3 816.5,617.9 820.5,618.2 824.5,615 828.5,614.3 832.5,620.2 836.5,622.3 840.5,623.3 844.5,626.5 848.5,630.5 852.5,619.8 856.5,618.5 860.5,614.2 864.5,610.8 868.5,606.8 872.5,610.3 876.5,613.5 880.5,607.2 884.5,604.4 888.5,603.4 892.5,606.2 896.5,615.4 900.5,616.6 904.5,617 908.5,616.7 912.5,616 916.5,614.2 920.5,607 924.5,614.6 928.5,614.7 932.5,616.2 936.5,617 940.5,616.1 944.5,608.2 948.5,602.9 952.5,600 956.5,598.7 960.5,601.2 964.5,605 968.5,607.8 972.5,602.2 976.5,603.4 980.5,600.6 984.5,592 988.5,591.7 992.5,588.8 996.5,586.1 1000.5,586.5 1004.5,585.1 1008.5,583.8 1012.5,583.7 1016.5,588.4 1020.5,587.9 1024.5,581.6 1028.5,578.4 1032.5,577 1036.5,575.8 1040.5,574.2 1044.5,582 1048.5,581 1052.5,589.8 1056.5,596.1 1060.5,593.1 1064.5,594.8 1068.5,603.8 1072.5,607.7 1076.5,605.7 1080.5,606.2 1084.5,608.7 1088.5,612 1092.5,613.1 1096.5,612.4 1100.5,613.8 1104.5,611.4 1108.5,606.2 1112.5,606.5 1116.5,612 1120.5,616.9 1124.5,613.5 1128.5,615.6 1132.5,619.4" stroke="#ff0000"/>
</g>
<g shape-rendering="crispEdges">
<path d="M-1,723h3V741h-3zM3,724h3V741h-3zM7,727h3V741h-3zM11,733h3V741h-3zM15,732h3V741h-3zM19,735h3V741h-3zM23,735h3V741h-3zM27,738h3V741h-3zM31,736h3V741h-3zM35,737h3V741h-3zM39,739h3V741h-3zM43,740h3V741h-3zM91,740h3V741h-3zM95,738h3V741h-3zM131,729h3V741h-3zM135,723h3V741h-3zM139,724h3V741h-3zM143,726h3V741h-3zM147,726h3V741h-3zM151,719h3V741h-3zM155,713h3V741h-3zM159,714h3V741h-3zM163,715h3V741h-3zM167,715h3V741h-3zM171,714h3V741h-3zM175,714h3V741h-3zM179,721h3V741h-3zM183,730h3V741h-3zM187,738h3V741h-3zM195,740h3V741h-3zM203,740h3V741h-3zM207,737h3V741h-3zM211,739h3V741h-3zM231,732h3V741h-3zM235,724h3V741h-3zM239,719h3V741h-3zM243,721h3V741h-3zM247,729h3V741h-3zM251,737h3V741h-3zM407,740h3V741h-3zM415,738h3V741h-3zM419,731h3V741h-3zM423,729h3V741h-3zM427,728h3V741h-3zM431,730h3V741h-3zM435,722h3V741h-3zM439,721h3V741h-3zM443,726h3V741h-3zM447,736h3V741h-3zM451,740h3V741h-3zM455,739h3V741h-3zM459,735h3V741h-3zM463,734h3V741h-3zM507,731h3V741h-3zM511,725h3V741h-3zM515,722h3V741h-3zM519,717h3V741h-3zM523,715h3V741h-3zM527,714h3V741h-3zM531,705h3V741h-3zM535,700h3V741h-3zM539,697h3V741h-3zM543,696h3V741h-3zM547,700h3V741h-3zM551,707h3V741h-3zM555,714h3V741h-3zM559,716h3V741h-3zM563,717h3V741h-3zM567,725h3V741h-3zM571,729h3V741h-3zM575,732h3V741h-3zM579,733h3V741h-3zM583,733h3V741h-3zM643,738h3V741h-3zM647,740h3V741h-3zM651,740h3V741h-3zM699,734h3V741h-3zM703,737h3V741h-3zM707,730h3V741h-3zM795,728h3V741h-3zM799,718h3V741h-3zM803,715h3V741h-3zM807,712h3V741h-3zM811,711h3V741h-3zM815,719h3V741h-3zM819,724h3V741h-3zM823,722h3V741h-3zM827,723h3V741h-3zM831,727h3V741h-3zM835,732h3V741h-3zM839,735h3V741h-3zM843,740h3V741h-3zM859,734h3V741h-3zM863,726h3V741h-3zM867,722h3V741h-3zM871,722h3V741h-3zM875,724h3V741h-3zM879,719h3V741h-3zM883,717h3V741h-3zM887,713h3V741h-3zM891,718h3V741h-3zM895,729h3V741h-3zM899,733h3V741h-3zM903,737h3V741h-3zM915,740h3V741h-3zM943,737h3V741h-3zM947,734h3V741h-3zM951,730h3V741h-3zM955,728h3V741h-3zM959,727h3V741h-3zM963,731h3V741h-3zM967,737h3V741h-3zM971,732h3V741h-3zM975,733h3V741h-3zM979,735h3V741h-3zM983,728h3V741h-3zM987,725h3V741h-3zM991,718h3V741h-3zM995,713h3V741h-3zM999,712h3V741h-3zM1003,713h3V741h-3zM1007,715h3V741h-3zM1011,716h3V741h-3zM1015,724h3V741h-3zM1019,730h3V741h-3zM1023,723h3V741h-3zM1027,720h3V741h-3zM1031,717h3V741h-3zM1035,717h3V741h-3zM1039,720h3V741h-3zM1043,723h3V741h-3zM1047,721h3V741h-3zM1051,736h3V741h-3z" fill="#1e90ff"/>
<path d="M47,741h3V743h-3zM51,741h3V751h-3zM55,741h3V764h-3zM59,741h3V780h-3zM63,741h3V778h-3zM67,741h3V776h-3zM71,741h3V774h-3zM75,741h3V769h-3zM79,741h3V764h-3zM83,741h3V755h-3zM87,741h3V746h-3zM99,741h3V744h-3zM103,741h3V747h-3zM107,741h3V751h-3zM111,741h3V758h-3zM115,741h3V758h-3zM119,741h3V755h-3zM123,741h3V751h-3zM127,741h3V744h-3zM191,741h3V746h-3zM199,741h3V743h-3zM215,741h3V743h-3zM219,741h3V745h-3zM223,741h3V748h-3zM227,741h3V746h-3zM255,741h3V744h-3zM259,741h3V746h-3zM263,741h3V748h-3zM267,741h3V746h-3zM271,741h3V745h-3zM275,741h3V745h-3zM279,741h3V745h-3zM283,741h3V745h-3zM287,741h3V746h-3zM291,741h3V750h-3zM295,741h3V753h-3zM299,741h3V752h-3zM303,741h3V748h-3zM307,741h3V745h-3zM311,741h3V744h-3zM315,741h3V746h-3zM319,741h3V751h-3zM323,741h3V753h-3zM327,741h3V756h-3zM331,741h3V764h-3zM335,741h3V769h-3zM339,741h3V778h-3zM343,741h3V779h-3zM347,741h3V781h-3zM351,741h3V785h-3zM355,741h3V787h-3zM359,741h3V787h-3zM363,741h3V786h-3zM367,741h3V784h-3zM371,741h3V785h-3zM375,741h3V780h-3zM379,741h3V777h-3zM383,741h3V775h-3zM387,741h3V768h-3zM391,741h3V761h-3zM395,741h3V756h-3zM399,741h3V751h-3zM403,741h3V746h-3zM411,741h3V744h-3zM467,741h3V747h-3zM471,741h3V763h-3zM475,741h3V766h-3zM479,741h3V768h-3zM483,741h3V769h-3zM487,741h3V769h-3zM491,741h3V764h-3zM495,741h3V758h-3zM499,741h3V753h-3zM503,741h3V744h-3zM587,741h3V743h-3zM591,741h3V749h-3zM595,741h3V753h-3zM599,741h3V754h-3zM603,741h3V758h-3zM607,741h3V754h-3zM611,741h3V751h-3zM615,741h3V750h-3zM619,741h3V750h-3zM623,741h3V751h-3zM627,741h3V751h-3zM631,741h3V750h-3zM635,741h3V748h-3zM639,741h3V743h-3zM655,741h3V749h-3zM659,741h3V755h-3zM663,741h3V758h-3zM667,741h3V761h-3zM671,741h3V763h-3zM675,741h3V768h-3zM679,741h3V771h-3zM683,741h3V765h-3zM687,741h3V755h-3zM691,741h3V750h-3zM695,741h3V745h-3zM711,741h3V749h-3zM715,741h3V750h-3zM719,741h3V753h-3zM723,741h3V755h-3zM727,741h3V758h-3zM731,741h3V760h-3zM735,741h3V779h-3zM739,741h3V793h-3zM743,741h3V787h-3zM747,741h3V776h-3zM751,741h3V769h-3zM755,741h3V765h-3zM759,741h3V756h-3zM763,741h3V752h-3zM767,741h3V747h-3zM771,741h3V755h-3zM775,741h3V766h-3zM779,741h3V774h-3zM783,741h3V761h-3zM787,741h3V754h-3zM791,741h3V744h-3zM847,741h3V749h-3zM851,741h3V747h-3zM855,741h3V743h-3zM907,741h3V743h-3zM911,741h3V744h-3zM919,741h3V743h-3zM923,741h3V743h-3zM927,741h3V743h-3zM931,741h3V743h-3zM935,741h3V744h-3zM939,741h3V744h-3zM1055,741h3V743h-3zM1059,741h3V746h-3zM1063,741h3V754h-3zM1067,741h3V771h-3zM1071,741h3V776h-3zM1075,741h3V780h-3zM1079,741h3V779h-3zM1083,741h3V780h-3zM1087,741h3V781h-3zM1091,741h3V781h-3zM1095,741h3V780h-3zM1099,741h3V776h-3zM1103,741h3V771h-3zM1107,741h3V763h-3zM1111,741h3V760h-3zM1115,741h3V760h-3zM1119,741h3V760h-3zM1123,741h3V759h-3zM1127,741h3V758h-3zM1131,741h3V761h-3z" fill="#ffa07a"/>
</g>
<path d="M0,714.7C0.8,714.5 4.3,713.2 6.3,713.2C8.3,713.2 12.5,714.5 15,714.7C17.5,714.9 22,714.9 25,714.7C28,714.5 34.8,713.2 37.7,713.2C40.6,713.2 44.5,713.9 46.5,714.7C48.5,715.5 51.2,717.3 52.7,719C54.2,720.7 56.5,725.7 57.8,727.7C59.1,729.7 61.1,732.7 62.8,734C64.5,735.3 68.3,737 70.3,737.8C72.3,738.6 76.2,739.6 77.9,739.8C79.6,740 81.2,739.8 82.9,739C84.6,738.2 88.7,734.8 90.4,734C92.1,733.2 93.8,732.6 95.5,732.8C97.2,733 100.7,734.1 103,735.3C105.3,736.5 110,740.8 113,741.6C116,742.4 123.3,742.3 125.6,741.6C127.9,740.9 129.1,738.1 130.6,736.5C132.1,734.9 135,731 137,729.8C139,728.6 143.9,728.3 145.7,727.7C147.5,727.1 149.2,726.5 150.7,725.2C152.2,723.9 155,719.7 157,718.2C159,716.7 163.3,715.2 165.8,714C168.3,712.8 173.8,709.7 175.8,709C177.8,708.3 179.4,708.4 180.9,709C182.4,709.6 185.3,712.4 187,713.2C188.7,714 190.5,714.6 193.4,714.7C196.3,714.8 204.8,713.9 208.5,714C212.2,714.1 218.2,715 221,715.2C223.8,715.4 227.8,716.2 229.8,715.2C231.8,714.2 234.5,709.4 236,707.7C237.5,706 239.5,703.2 241,702.6C242.5,702 245.7,702.5 247.4,703C249.1,703.5 251.9,705.6 253.7,706.4C255.5,707.2 258,708.6 261,709C264,709.4 272.6,709.4 276.3,709.7C280,710 286,710.7 288.9,711.4C291.8,712.1 295,714.5 297.7,714.7C300.4,714.9 306,713 309,713.2C312,713.4 317.5,715.1 320,716C322.5,716.9 324.8,717.8 327.5,720.2C330.2,722.6 336.6,730.3 340,734C343.4,737.7 349.3,744.5 352.7,747.8C356.1,751.1 361.9,756.5 365.2,759C368.5,761.5 374.8,765.4 377.8,766.7C380.8,768 385.1,768.5 387.8,768.7C390.5,768.9 395.6,768.5 397.9,768C400.2,767.5 403.1,765.5 405.4,765C407.7,764.5 413.2,765.1 415.5,764.2C417.8,763.3 421,758.9 423,757.9C425,756.9 428.5,757.5 430.5,756.6C432.5,755.7 436.2,751.8 438,751C439.8,750.2 442.8,750.5 444.3,750.9C445.8,751.3 447.9,753.6 449.4,754C450.9,754.4 453.6,753.7 455.6,753.6C457.6,753.5 462.4,752.2 464.4,752.9C466.4,753.6 468.8,757.2 470.7,759C472.6,760.8 476.3,765 478.3,766.7C480.3,768.4 484,770.8 485.8,771.7C487.6,772.6 490.3,773.7 492,773.7C493.7,773.7 496.4,772.5 498.3,771.7C500.2,770.9 503.9,768.9 505.9,767.4C507.9,765.9 511.4,762 513.4,760.4C515.4,758.8 519,756.9 521,755.4C523,753.9 526.5,751.2 528.5,749C530.5,746.8 534,741.5 536,739C538,736.5 541.6,732 543.6,730.3C545.6,728.6 549,727.2 551,726.5C553,725.8 556.7,725.6 558.6,725.2C560.5,724.8 563,723.6 565,723.5C567,723.4 570.9,724.5 573.7,724.7C576.5,724.9 583.8,724.5 586.3,725.2C588.8,725.9 590.5,728.6 592.5,729.8C594.5,731 598.4,733.3 601.3,734C604.2,734.7 610.3,734.9 614,735.3C617.7,735.7 625.5,737.1 629,737.3C632.5,737.5 637.2,736.8 640,736.5C642.8,736.2 647.7,734.8 650,735.3C652.3,735.8 655.3,738.8 657.6,740.3C659.9,741.8 664.9,744.8 667.6,746.6C670.3,748.4 675,752.9 677.7,754C680.4,755.1 685.4,755.2 687.7,754.9C690,754.6 693.5,752.5 695.3,751.6C697.1,750.7 699.8,748.6 701.5,747.8C703.2,747 706.8,745 708.3,745.3C709.8,745.6 711.2,749.1 712.8,750.4C714.4,751.7 717.9,754.1 720.4,754.9C722.9,755.7 729.5,754.9 731.7,756.6C733.9,758.3 735.5,765.2 736.7,768C737.9,770.8 737.7,776.2 740.5,777.5C743.3,778.8 754.8,777.8 758,777.5C761.2,777.2 762.6,775.3 764.3,775C766,774.7 769.1,774.6 770.6,775.5C772.1,776.4 774.3,780.1 775.6,781.8C776.9,783.5 778.7,787.6 780.2,788C781.7,788.4 785.3,786 787,785C788.7,784 791.4,782.4 793.2,780.5C795,778.6 798.5,773 800.8,770.5C803.1,768 808.1,763 810.8,761.7C813.5,760.4 818.4,761.4 820.9,760.9C823.4,760.4 827,758.1 829.7,757.9C832.4,757.7 838.5,758.9 841,759.7C843.5,760.5 846.7,763.2 848.5,763.7C850.3,764.2 853.1,764.3 854.8,763.7C856.5,763.1 859.3,760.4 861,759C862.7,757.6 865.3,754 867.3,752.9C869.3,751.8 873.8,751.6 876,750.4C878.2,749.2 881.8,745.4 883.7,744C885.6,742.6 888.3,740.1 890,739.8C891.7,739.5 894.4,740.9 896.2,741.6C898,742.3 901.1,744.2 903.8,744.8C906.5,745.4 911.3,745.7 916.3,745.8C921.3,745.9 937,745.9 941.4,745.3C945.8,744.7 947.3,742.3 949,741.6C950.7,740.9 952.3,740.8 954,740.3C955.7,739.8 959.5,738.1 961.5,737.8C963.5,737.5 967.1,738.5 969,738.3C970.9,738.1 973.7,736.3 975.4,736C977.1,735.7 979.8,736.7 981.6,736C983.4,735.3 987.2,732.6 989.2,730.8C991.2,729 994.7,724.4 996.7,722.7C998.7,721 1002.2,718.8 1004.2,717.7C1006.2,716.6 1009.6,715 1011.8,714.7C1014,714.4 1018.3,716.1 1020.6,715.2C1022.9,714.3 1027.2,709.2 1029.4,707.7C1031.6,706.2 1034.4,704.7 1036.9,703.9C1039.4,703.1 1045.9,701 1048.2,701.4C1050.5,701.8 1052.7,705.9 1054.5,707.2C1056.3,708.5 1060,709.3 1062,711.4C1064,713.5 1067.5,720.2 1069.5,722.7C1071.5,725.2 1075,728.1 1077,729.8C1079,731.5 1082.4,733.6 1084.6,735.3C1086.8,737 1091.4,741.4 1093.4,742.8C1095.4,744.2 1097.5,745.6 1099.7,746C1101.9,746.4 1107,745.7 1109.7,746C1112.4,746.3 1116.7,747.5 1119.8,748.3C1122.9,749.1 1131.2,751.5 1132.9,752" fill="none" stroke="#0000cd" stroke-width="2" stroke-linejoin="round" shape-rendering="crispEdges"/>
<path d="M0,721.5C1.7,720.9 5.8,718.8 10,717.7C14.2,716.7 19.2,715.8 25,715.2C30.8,714.6 40.4,714 45,714C49.6,714 49.7,713.8 52.7,715.2C55.7,716.7 59.4,720.4 62.8,722.7C66.1,725 69,727.1 72.8,729C76.6,730.9 81.2,733.2 85.4,734C89.6,734.8 93.8,733.6 98,734C102.2,734.4 106.3,735.5 110.5,736.5C114.7,737.5 119.7,739.4 123,739.8C126.3,740.2 127.6,739.8 130.6,739C133.5,738.2 137.3,736.7 140.7,735.3C144,733.9 146.9,732.7 150.7,730.8C154.5,728.9 159.1,726.3 163.3,724C167.5,721.7 172,718.9 175.8,717.2C179.6,715.5 181.9,714.5 185.9,714C189.9,713.5 193.3,714 200,714C206.7,714 219.6,714.4 226,714C232.4,713.6 234.8,712.4 238.6,711.4C242.4,710.4 244.5,708.7 248.7,708.2C252.9,707.7 258.4,708.1 263.8,708.2C269.2,708.3 275.9,708.3 281.3,709C286.7,709.7 289.9,711.4 296.4,712.2C302.8,713 314.4,713.3 320,714C325.6,714.7 326.7,714.9 330,716.4C333.3,717.9 336.2,719.8 340,722.7C343.8,725.6 348.5,730.2 352.7,734C356.9,737.8 361,741.5 365.2,745.3C369.4,749.1 373.6,753.6 377.8,756.6C382,759.6 386.1,761.7 390.3,763C394.5,764.3 398.8,764.1 403,764.2C407.2,764.3 411.3,764.3 415.5,763.7C419.7,763.1 423.8,761.6 428,760.4C432.2,759.2 436.8,757.6 440.6,756.6C444.4,755.6 446.4,755 450.6,754.6C454.8,754.2 461.5,753.5 465.7,754C469.9,754.5 472.3,756.4 475.7,757.9C479.1,759.4 482.4,761.5 485.8,763C489.2,764.5 492.5,766.3 495.8,767.2C499.1,768.1 502.5,768.7 505.9,768.4C509.3,768.1 512.2,767 516,765.4C519.8,763.8 524.3,761.7 528.5,759C532.7,756.3 536.8,752.5 541,749C545.2,745.5 549.4,740.7 553.6,737.8C557.8,734.9 561.8,733.3 566,731.5C570.2,729.7 575.3,728 578.7,727.2C582.1,726.4 583.4,726.3 586.3,726.5C589.2,726.7 592.5,727.7 596.3,728.5C600.1,729.3 604.3,730.5 608.9,731.5C613.5,732.5 618.8,733.8 624,734.5C629.2,735.2 635.7,736 640,736C644.3,736 646.2,734.5 650,734.8C653.8,735.1 658.4,736.3 662.6,737.8C666.8,739.3 670.8,742.1 675,744C679.2,745.9 683.5,748.2 687.7,749C691.9,749.8 696.5,749.2 700.3,749C704.1,748.8 706.9,747.5 710.3,747.8C713.6,748.1 716.6,749.9 720.4,750.9C724.2,751.9 729.2,752 733,754C736.8,756 739.7,760.3 743,763C746.3,765.7 749.2,768.4 753,770C756.8,771.6 761.8,771.6 765.6,772.5C769.4,773.4 772.5,774.3 775.6,775.5C778.7,776.7 781.5,779.1 784.4,779.7C787.3,780.3 790.1,780.1 793.2,779.2C796.4,778.3 799.5,775.9 803.3,774.2C807.1,772.5 811.6,770.9 815.8,769.2C820,767.5 824.2,765.5 828.4,764.2C832.6,763 836.4,762.1 841,761.7C845.6,761.3 851.8,762 856,761.7C860.2,761.4 862.2,760.8 866,759.7C869.8,758.6 874.4,756.9 878.6,754.9C882.8,752.9 887.4,749.4 891.2,747.8C895,746.2 897,745.8 901.2,745.3C905.4,744.8 909.6,744.7 916.3,744.8C923,744.9 935.1,746.1 941.4,745.8C947.7,745.5 949.8,743.8 954,742.8C958.2,741.8 962,740.6 966.6,739.8C971.2,739 977.4,738.8 981.6,737.8C985.8,736.8 987.9,735.9 991.7,734C995.5,732.1 1000,728.7 1004.2,726.5C1008.4,724.3 1012.6,722.7 1016.8,721C1021,719.3 1025.2,718.1 1029.4,716.4C1033.6,714.7 1037.8,712.2 1042,710.7C1046.2,709.2 1051.2,707.7 1054.5,707.2C1057.8,706.7 1059.1,706.6 1062,707.7C1064.9,708.8 1068.2,711.3 1072,714C1075.8,716.7 1080.8,721.1 1084.6,724C1088.4,726.9 1091.3,729.2 1094.7,731.5C1098.1,733.8 1100.9,736.1 1104.7,737.8C1108.5,739.5 1112.6,740.1 1117.3,741.6C1122,743.1 1130.3,746.1 1132.9,747" fill="none" stroke="#ff8c00" stroke-width="2" stroke-linejoin="round" shape-rendering="crispEdges"/>
<circle cx="1136.1" cy="748.7" r="41.8" fill="none" stroke="#f85555" stroke-width="2.6"/>
<rect x="1272" y="0" width="1" height="815" fill="#f3f3f3"/><rect x="1273" y="0" width="1" height="815" fill="#e4e4e4"/>
</svg></body></html>
